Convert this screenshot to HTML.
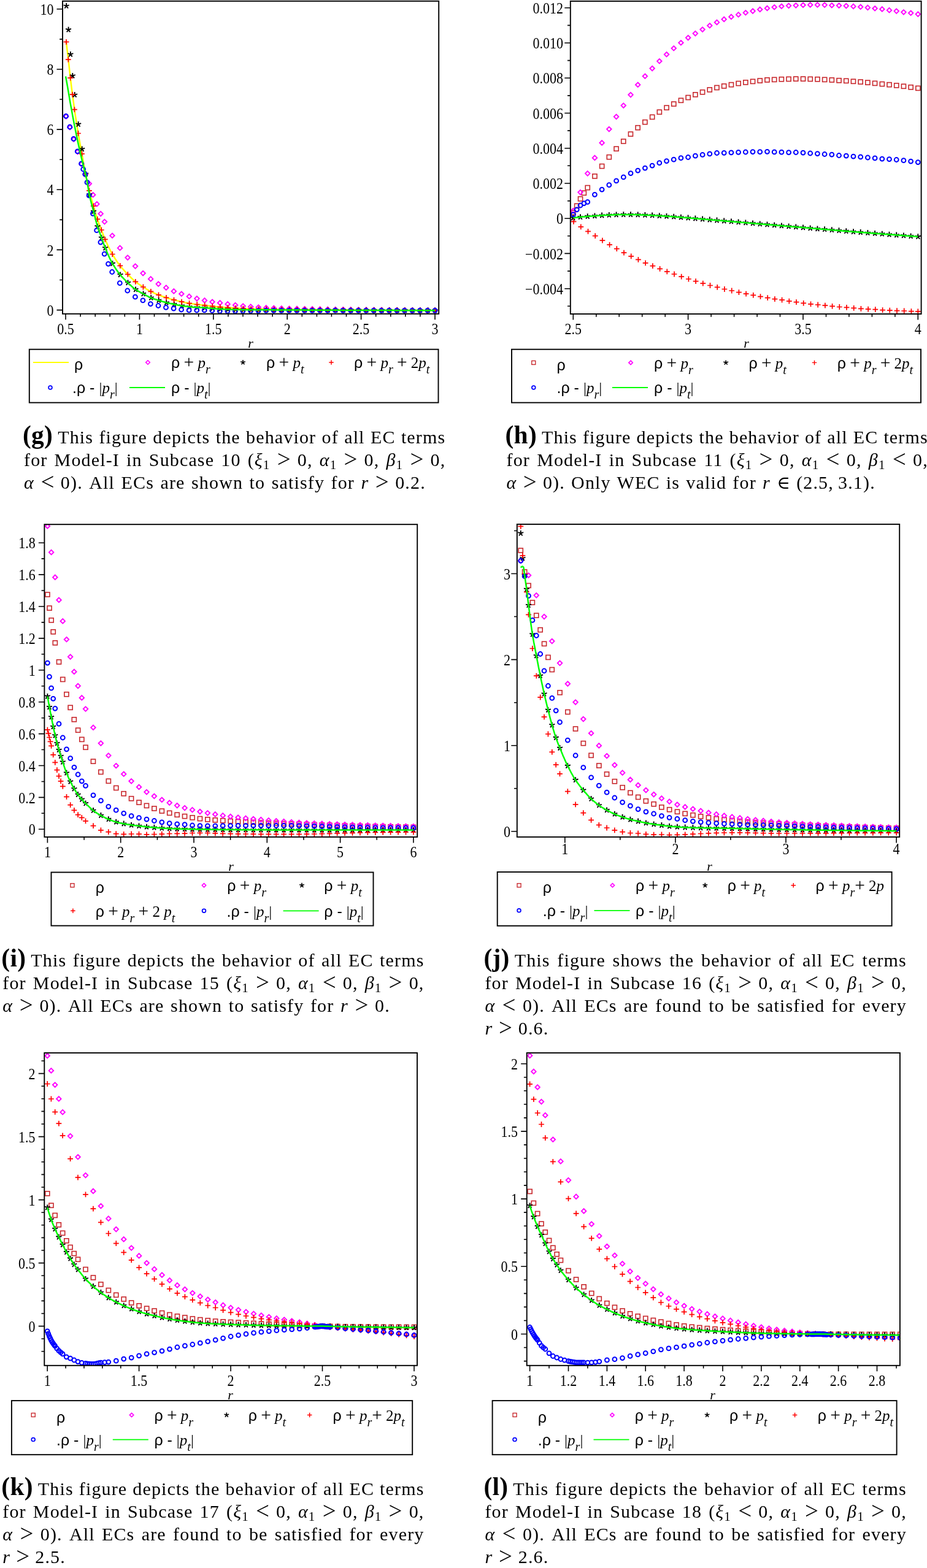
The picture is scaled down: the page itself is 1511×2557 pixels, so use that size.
<!DOCTYPE html>
<html><head><meta charset="utf-8"><title>EC terms figures</title>
<style>
html,body{margin:0;padding:0;background:#fff;}
body{width:1511px;height:2557px;position:relative;overflow:hidden;}
.cl{position:absolute;font-family:'Liberation Serif',serif;font-size:30px;line-height:36px;color:#000;
text-align:justify;text-align-last:justify;white-space:nowrap;letter-spacing:1.15px;}
.cl b{font-weight:bold;font-size:1.38em;letter-spacing:0.3px;line-height:0;margin-left:-2px;margin-right:8px;}
.cl .s{font-size:0.7em;vertical-align:-0.22em;font-style:normal;}
.cl .rel{font-size:1.3em;line-height:0;vertical-align:-0.06em;letter-spacing:0;}
.cl .elem{font-family:'DejaVu Serif',serif;font-size:0.98em;line-height:0;letter-spacing:0;}
.cl .num{font-size:1.08em;line-height:0;}
</style></head><body>
<svg width="1511" height="2557" viewBox="0 0 1511 2557" style="position:absolute;left:0;top:0"><clipPath id="cg"><rect x="102" y="1.8" width="613.2" height="510.0"/></clipPath>
<g clip-path="url(#cg)">
<path d="M107.8 67.3L109.3 79.8L110.9 92.9L112.4 106.2L113.9 119.9L115.4 132.8L116.9 144.9L118.4 156.6L119.9 167.7L121.4 178.4L122.9 188.6L124.4 198.5L125.9 208.1L127.4 217.3L128.9 226.0L130.4 234.3L131.9 242.5L133.5 250.7L135.0 259.2L136.5 267.7L138.0 275.9L139.5 283.5L141.0 290.8L142.5 297.7L144.0 304.3L145.5 310.7L147.0 316.7L148.5 322.4L150.0 327.9L151.5 333.2L153.0 338.5L154.5 343.7L156.1 348.8L157.6 353.7L159.1 358.3L160.6 362.6L162.1 366.7L163.6 370.6L165.1 374.6L166.6 378.5L168.1 382.5L169.6 386.3L171.1 389.9L172.6 393.3L174.1 396.6L175.6 399.9L177.1 403.0L178.7 406.0L180.2 409.0L181.7 411.8L183.2 414.5L184.7 417.0L186.2 419.5L187.7 422.0L189.2 424.3L190.7 426.5L192.2 428.7L193.7 430.8L195.2 432.8L196.7 434.7L198.2 436.5L199.7 438.2L201.3 439.9L202.8 441.6L204.3 443.2L205.8 444.8L207.3 446.3L208.8 447.9L210.3 449.4L211.8 451.0L213.3 452.5L214.8 454.0L216.3 455.4L217.8 456.8L219.3 458.2L220.8 459.4L222.3 460.6L223.9 461.7L225.4 462.8L226.9 463.8L228.4 464.8L229.9 465.8L231.4 466.7L232.9 467.7L234.4 468.6L235.9 469.6L237.4 470.5L238.9 471.5L240.4 472.4L241.9 473.3L243.4 474.1L244.9 474.9L246.5 475.7L248.0 476.4L249.5 477.1L251.0 477.8L252.5 478.5L254.0 479.1L255.5 479.7L257.0 480.3L258.5 480.9L260.0 481.5L261.5 482.1L263.0 482.7L264.5 483.2L266.0 483.7L267.5 484.3L269.1 484.8L270.6 485.3L272.1 485.7L273.6 486.2L275.1 486.7L276.6 487.1L278.1 487.6L279.6 488.0L281.1 488.4L282.6 488.8L284.1 489.2L285.6 489.6L287.1 490.0L288.6 490.4L290.1 490.8L291.7 491.1L293.2 491.5L294.7 491.9L296.2 492.2L297.7 492.5L299.2 492.8L300.7 493.2L302.2 493.5L303.7 493.8L305.2 494.1L306.7 494.4L308.2 494.6L309.7 494.9L311.2 495.1L312.7 495.3L314.3 495.6L315.8 495.8L317.3 496.0L318.8 496.2L320.3 496.4L321.8 496.5L323.3 496.7L324.8 496.9L326.3 497.1L327.8 497.3L329.3 497.4L330.8 497.6L332.3 497.8L333.8 498.0L335.3 498.1L336.9 498.3L338.4 498.5L339.9 498.7L341.4 498.9L342.9 499.1L344.4 499.2L345.9 499.4L347.4 499.6L348.9 499.7L350.4 499.9L351.9 500.0L353.4 500.2L354.9 500.3L356.4 500.5L357.9 500.6L359.5 500.7L361.0 500.9L362.5 501.0L364.0 501.1L365.5 501.2L367.0 501.4L368.5 501.5L370.0 501.6L371.5 501.7L373.0 501.8L374.5 501.9L376.0 502.0L377.5 502.1L379.0 502.2L380.5 502.3L382.1 502.4L383.6 502.5L385.1 502.5L386.6 502.6L388.1 502.7L389.6 502.8L391.1 502.9L392.6 503.0L394.1 503.1L395.6 503.1L397.1 503.2L398.6 503.3L400.1 503.3L401.6 503.4L403.1 503.4L404.7 503.5L406.2 503.5L407.7 503.6L409.2 503.6L410.7 503.6L412.2 503.7L413.7 503.7L415.2 503.8L416.7 503.8L418.2 503.8L419.7 503.9L421.2 503.9L422.7 503.9L424.2 504.0L425.7 504.0L427.3 504.0L428.8 504.1L430.3 504.1L431.8 504.1L433.3 504.2L434.8 504.2L436.3 504.2L437.8 504.3L439.3 504.3L440.8 504.3L442.3 504.3L443.8 504.4L445.3 504.4L446.8 504.4L448.3 504.4L449.9 504.5L451.4 504.5L452.9 504.5L454.4 504.5L455.9 504.6L457.4 504.6L458.9 504.6L460.4 504.6L461.9 504.6L463.4 504.7L464.9 504.7L466.4 504.7L467.9 504.7L469.4 504.7L470.9 504.7L472.5 504.8L474.0 504.8L475.5 504.8L477.0 504.8L478.5 504.8L480.0 504.8L481.5 504.9L483.0 504.9L484.5 504.9L486.0 504.9L487.5 504.9L489.0 504.9L490.5 505.0L492.0 505.0L493.5 505.0L495.1 505.0L496.6 505.0L498.1 505.0L499.6 505.0L501.1 505.0L502.6 505.1L504.1 505.1L505.6 505.1L507.1 505.1L508.6 505.1L510.1 505.1L511.6 505.1L513.1 505.1L514.6 505.2L516.1 505.2L517.7 505.2L519.2 505.2L520.7 505.2L522.2 505.2L523.7 505.2L525.2 505.2L526.7 505.3L528.2 505.3L529.7 505.3L531.2 505.3L532.7 505.3L534.2 505.3L535.7 505.3L537.2 505.3L538.7 505.3L540.3 505.4L541.8 505.4L543.3 505.4L544.8 505.4L546.3 505.4L547.8 505.4L549.3 505.4L550.8 505.4L552.3 505.4L553.8 505.5L555.3 505.5L556.8 505.5L558.3 505.5L559.8 505.5L561.3 505.5L562.9 505.5L564.4 505.5L565.9 505.5L567.4 505.6L568.9 505.6L570.4 505.6L571.9 505.6L573.4 505.6L574.9 505.6L576.4 505.6L577.9 505.6L579.4 505.6L580.9 505.7L582.4 505.7L583.9 505.7L585.5 505.7L587.0 505.7L588.5 505.7L590.0 505.7L591.5 505.7L593.0 505.7L594.5 505.7L596.0 505.8L597.5 505.8L599.0 505.8L600.5 505.8L602.0 505.8L603.5 505.8L605.0 505.8L606.5 505.8L608.1 505.8L609.6 505.8L611.1 505.8L612.6 505.8L614.1 505.9L615.6 505.9L617.1 505.9L618.6 505.9L620.1 505.9L621.6 505.9L623.1 505.9L624.6 505.9L626.1 505.9L627.6 505.9L629.1 505.9L630.7 505.9L632.2 505.9L633.7 505.9L635.2 505.9L636.7 506.0L638.2 506.0L639.7 506.0L641.2 506.0L642.7 506.0L644.2 506.0L645.7 506.0L647.2 506.0L648.7 506.0L650.2 506.0L651.7 506.0L653.3 506.0L654.8 506.0L656.3 506.0L657.8 506.0L659.3 506.0L660.8 506.1L662.3 506.1L663.8 506.1L665.3 506.1L666.8 506.1L668.3 506.1L669.8 506.1L671.3 506.1L672.8 506.1L674.3 506.1L675.9 506.1L677.4 506.1L678.9 506.1L680.4 506.1L681.9 506.1L683.4 506.1L684.9 506.1L686.4 506.1L687.9 506.1L689.4 506.1L690.9 506.1L692.4 506.2L693.9 506.2L695.4 506.2L696.9 506.2L698.5 506.2L700.0 506.2L701.5 506.2L703.0 506.2L704.5 506.2L706.0 506.2L707.5 506.2L709.0 506.2" fill="none" stroke="#ffff00" stroke-width="2.5" stroke-linejoin="round"/>
<g fill="none" stroke="#ff00ff" stroke-width="1.9">
<path d="M107.7 186.2L111.5 190.0L107.7 193.7L104.0 190.0Z"/>
<path d="M114.0 204.0L117.7 207.7L114.0 211.5L110.2 207.7Z"/>
<path d="M120.3 223.4L124.0 227.1L120.3 230.9L116.5 227.1Z"/>
<path d="M126.5 243.9L130.3 247.6L126.5 251.4L122.8 247.6Z"/>
<path d="M132.8 263.8L136.6 267.5L132.8 271.3L129.1 267.5Z"/>
<path d="M139.1 281.0L142.8 284.8L139.1 288.5L135.3 284.8Z"/>
<path d="M145.3 295.8L149.1 299.5L145.3 303.3L141.6 299.5Z"/>
<path d="M151.6 314.0L155.4 317.8L151.6 321.5L147.9 317.8Z"/>
<path d="M157.9 329.0L161.6 332.7L157.9 336.5L154.1 332.7Z"/>
<path d="M164.2 344.8L167.9 348.5L164.2 352.3L160.4 348.5Z"/>
<path d="M170.4 357.9L174.2 361.6L170.4 365.4L166.7 361.6Z"/>
<path d="M183.0 380.5L186.7 384.3L183.0 388.0L179.2 384.3Z"/>
<path d="M195.5 400.6L199.3 404.4L195.5 408.1L191.8 404.4Z"/>
<path d="M208.1 416.3L211.8 420.0L208.1 423.8L204.3 420.0Z"/>
<path d="M220.6 430.4L224.3 434.1L220.6 437.9L216.8 434.1Z"/>
<path d="M233.1 441.8L236.9 445.6L233.1 449.3L229.4 445.6Z"/>
<path d="M245.7 451.1L249.4 454.9L245.7 458.6L241.9 454.9Z"/>
<path d="M258.2 459.3L262.0 463.1L258.2 466.8L254.5 463.1Z"/>
<path d="M270.8 465.4L274.5 469.2L270.8 472.9L267.0 469.2Z"/>
<path d="M283.3 471.1L287.1 474.9L283.3 478.6L279.6 474.9Z"/>
<path d="M295.8 475.5L299.6 479.2L295.8 483.0L292.1 479.2Z"/>
<path d="M308.4 479.7L312.1 483.4L308.4 487.2L304.6 483.4Z"/>
<path d="M320.9 483.1L324.7 486.8L320.9 490.6L317.2 486.8Z"/>
<path d="M333.5 486.2L337.2 490.0L333.5 493.7L329.7 490.0Z"/>
<path d="M346.0 488.5L349.8 492.3L346.0 496.0L342.3 492.3Z"/>
<path d="M358.6 490.2L362.3 494.0L358.6 497.7L354.8 494.0Z"/>
<path d="M371.1 492.2L374.8 495.9L371.1 499.7L367.3 495.9Z"/>
<path d="M383.6 493.9L387.4 497.6L383.6 501.4L379.9 497.6Z"/>
<path d="M396.2 495.4L399.9 499.1L396.2 502.9L392.4 499.1Z"/>
<path d="M408.7 496.4L412.5 500.2L408.7 503.9L405.0 500.2Z"/>
<path d="M421.3 497.3L425.0 501.0L421.3 504.8L417.5 501.0Z"/>
<path d="M433.8 498.2L437.6 501.9L433.8 505.7L430.1 501.9Z"/>
<path d="M446.3 498.7L450.1 502.5L446.3 506.2L442.6 502.5Z"/>
<path d="M458.9 499.1L462.6 502.9L458.9 506.6L455.1 502.9Z"/>
<path d="M471.4 499.5L475.2 503.2L471.4 507.0L467.7 503.2Z"/>
<path d="M484.0 499.7L487.7 503.5L484.0 507.2L480.2 503.5Z"/>
<path d="M496.5 500.0L500.3 503.7L496.5 507.5L492.8 503.7Z"/>
<path d="M509.1 500.2L512.8 503.9L509.1 507.7L505.3 503.9Z"/>
<path d="M521.6 500.4L525.3 504.2L521.6 507.9L517.8 504.2Z"/>
<path d="M534.1 500.6L537.9 504.4L534.1 508.1L530.4 504.4Z"/>
<path d="M546.7 500.8L550.4 504.6L546.7 508.3L542.9 504.6Z"/>
<path d="M559.2 501.0L563.0 504.7L559.2 508.5L555.5 504.7Z"/>
<path d="M571.8 501.2L575.5 504.9L571.8 508.7L568.0 504.9Z"/>
<path d="M584.3 501.3L588.1 505.1L584.3 508.8L580.6 505.1Z"/>
<path d="M596.8 501.4L600.6 505.2L596.8 508.9L593.1 505.2Z"/>
<path d="M609.4 501.6L613.1 505.3L609.4 509.1L605.6 505.3Z"/>
<path d="M621.9 501.7L625.7 505.5L621.9 509.2L618.2 505.5Z"/>
<path d="M634.5 501.8L638.2 505.6L634.5 509.3L630.7 505.6Z"/>
<path d="M647.0 501.9L650.8 505.7L647.0 509.4L643.3 505.7Z"/>
<path d="M659.6 502.0L663.3 505.8L659.6 509.5L655.8 505.8Z"/>
<path d="M672.1 502.1L675.8 505.9L672.1 509.6L668.3 505.9Z"/>
<path d="M684.6 502.2L688.4 506.0L684.6 509.7L680.9 506.0Z"/>
<path d="M697.2 502.3L700.9 506.0L697.2 509.8L693.4 506.0Z"/>
<path d="M709.0 502.3L712.8 506.1L709.0 509.8L705.2 506.1Z"/>
</g>
<g fill="none" stroke="#000" stroke-width="1.9" stroke-linecap="butt">
<path d="M108.2 9.7L108.2 5.0M108.2 9.7L112.7 8.3M108.2 9.7L103.7 8.3M108.2 9.7L111.0 13.5M108.2 9.7L105.4 13.5"/>
<path d="M111.6 48.5L111.6 43.8M111.6 48.5L116.0 47.0M111.6 48.5L107.1 47.0M111.6 48.5L114.3 52.3M111.6 48.5L108.8 52.3"/>
<path d="M114.9 88.6L114.9 83.9M114.9 88.6L119.4 87.1M114.9 88.6L110.5 87.1M114.9 88.6L117.7 92.4M114.9 88.6L112.2 92.4"/>
<path d="M118.3 123.6L118.3 118.9M118.3 123.6L122.8 122.1M118.3 123.6L113.8 122.1M118.3 123.6L121.1 127.4M118.3 123.6L115.6 127.4"/>
<path d="M121.7 154.7L121.7 150.0M121.7 154.7L126.2 153.3M121.7 154.7L117.2 153.3M121.7 154.7L124.5 158.5M121.7 154.7L118.9 158.5"/>
<path d="M127.7 202.7L127.7 198.0M127.7 202.7L132.2 201.2M127.7 202.7L123.2 201.2M127.7 202.7L130.5 206.5M127.7 202.7L124.9 206.5"/>
<path d="M133.7 243.1L133.7 238.4M133.7 243.1L138.2 241.7M133.7 243.1L129.3 241.7M133.7 243.1L136.5 246.9M133.7 243.1L131.0 246.9"/>
<path d="M139.7 283.8L139.7 279.1M139.7 283.8L144.2 282.3M139.7 283.8L135.3 282.3M139.7 283.8L142.5 287.6M139.7 283.8L137.0 287.6"/>
<path d="M145.8 317.4L145.8 312.7M145.8 317.4L150.2 316.0M145.8 317.4L141.3 316.0M145.8 317.4L148.5 321.2M145.8 317.4L143.0 321.2"/>
<path d="M152.5 344.8L152.5 340.1M152.5 344.8L157.0 343.4M152.5 344.8L148.0 343.4M152.5 344.8L155.3 348.6M152.5 344.8L149.7 348.6"/>
<path d="M159.0 369.4L159.0 364.7M159.0 369.4L163.5 368.0M159.0 369.4L154.5 368.0M159.0 369.4L161.8 373.2M159.0 369.4L156.3 373.2"/>
<path d="M165.5 387.7L165.5 383.0M165.5 387.7L170.0 386.3M165.5 387.7L161.0 386.3M165.5 387.7L168.3 391.5M165.5 387.7L162.8 391.5"/>
<path d="M171.5 404.4L171.5 399.7M171.5 404.4L176.0 402.9M171.5 404.4L167.1 402.9M171.5 404.4L174.3 408.2M171.5 404.4L168.8 408.2"/>
<path d="M183.5 429.9L183.5 425.2M183.5 429.9L187.9 428.4M183.5 429.9L179.0 428.4M183.5 429.9L186.2 433.7M183.5 429.9L180.7 433.7"/>
<path d="M196.0 448.1L196.0 443.4M196.0 448.1L200.5 446.7M196.0 448.1L191.5 446.7M196.0 448.1L198.8 451.9M196.0 448.1L193.2 451.9"/>
<path d="M208.5 461.1L208.5 456.4M208.5 461.1L213.0 459.7M208.5 461.1L204.1 459.7M208.5 461.1L211.3 464.9M208.5 461.1L205.8 464.9"/>
<path d="M221.1 472.1L221.1 467.4M221.1 472.1L225.5 470.7M221.1 472.1L216.6 470.7M221.1 472.1L223.8 475.9M221.1 472.1L218.3 475.9"/>
<path d="M233.6 479.2L233.6 474.5M233.6 479.2L238.1 477.7M233.6 479.2L229.2 477.7M233.6 479.2L236.4 483.0M233.6 479.2L230.9 483.0"/>
<path d="M246.2 485.7L246.2 481.0M246.2 485.7L250.6 484.2M246.2 485.7L241.7 484.2M246.2 485.7L248.9 489.5M246.2 485.7L243.4 489.5"/>
<path d="M258.7 489.8L258.7 485.1M258.7 489.8L263.2 488.4M258.7 489.8L254.2 488.4M258.7 489.8L261.5 493.6M258.7 489.8L255.9 493.6"/>
<path d="M271.2 493.5L271.2 488.8M271.2 493.5L275.7 492.1M271.2 493.5L266.8 492.1M271.2 493.5L274.0 497.3M271.2 493.5L268.5 497.3"/>
<path d="M283.8 496.2L283.8 491.5M283.8 496.2L288.3 494.7M283.8 496.2L279.3 494.7M283.8 496.2L286.6 500.0M283.8 496.2L281.0 500.0"/>
<path d="M296.3 498.6L296.3 493.9M296.3 498.6L300.8 497.2M296.3 498.6L291.9 497.2M296.3 498.6L299.1 502.4M296.3 498.6L293.6 502.4"/>
<path d="M308.9 500.3L308.9 495.6M308.9 500.3L313.3 498.9M308.9 500.3L304.4 498.9M308.9 500.3L311.6 504.1M308.9 500.3L306.1 504.1"/>
<path d="M321.4 501.3L321.4 496.6M321.4 501.3L325.9 499.8M321.4 501.3L316.9 499.8M321.4 501.3L324.2 505.1M321.4 501.3L318.6 505.1"/>
<path d="M334.0 501.9L334.0 497.2M334.0 501.9L338.4 500.5M334.0 501.9L329.5 500.5M334.0 501.9L336.7 505.7M334.0 501.9L331.2 505.7"/>
<path d="M346.5 503.0L346.5 498.3M346.5 503.0L351.0 501.6M346.5 503.0L342.0 501.6M346.5 503.0L349.3 506.8M346.5 503.0L343.7 506.8"/>
<path d="M359.0 504.0L359.0 499.3M359.0 504.0L363.5 502.6M359.0 504.0L354.6 502.6M359.0 504.0L361.8 507.8M359.0 504.0L356.3 507.8"/>
<path d="M371.6 504.5L371.6 499.8M371.6 504.5L376.0 503.1M371.6 504.5L367.1 503.1M371.6 504.5L374.3 508.3M371.6 504.5L368.8 508.3"/>
<path d="M384.1 504.9L384.1 500.2M384.1 504.9L388.6 503.5M384.1 504.9L379.7 503.5M384.1 504.9L386.9 508.7M384.1 504.9L381.4 508.7"/>
<path d="M396.7 505.2L396.7 500.5M396.7 505.2L401.1 503.7M396.7 505.2L392.2 503.7M396.7 505.2L399.4 509.0M396.7 505.2L393.9 509.0"/>
<path d="M409.2 505.3L409.2 500.6M409.2 505.3L413.7 503.9M409.2 505.3L404.7 503.9M409.2 505.3L412.0 509.1M409.2 505.3L406.4 509.1"/>
<path d="M421.7 505.3L421.7 500.6M421.7 505.3L426.2 503.9M421.7 505.3L417.3 503.9M421.7 505.3L424.5 509.1M421.7 505.3L419.0 509.1"/>
<path d="M434.3 505.3L434.3 500.6M434.3 505.3L438.8 503.8M434.3 505.3L429.8 503.8M434.3 505.3L437.1 509.1M434.3 505.3L431.5 509.1"/>
<path d="M446.8 505.4L446.8 500.7M446.8 505.4L451.3 503.9M446.8 505.4L442.4 503.9M446.8 505.4L449.6 509.2M446.8 505.4L444.1 509.2"/>
<path d="M459.4 505.4L459.4 500.7M459.4 505.4L463.8 504.0M459.4 505.4L454.9 504.0M459.4 505.4L462.1 509.2M459.4 505.4L456.6 509.2"/>
<path d="M471.9 505.5L471.9 500.8M471.9 505.5L476.4 504.1M471.9 505.5L467.4 504.1M471.9 505.5L474.7 509.3M471.9 505.5L469.1 509.3"/>
<path d="M484.5 505.6L484.5 500.9M484.5 505.6L488.9 504.1M484.5 505.6L480.0 504.1M484.5 505.6L487.2 509.4M484.5 505.6L481.7 509.4"/>
<path d="M497.0 505.7L497.0 501.0M497.0 505.7L501.5 504.2M497.0 505.7L492.5 504.2M497.0 505.7L499.8 509.5M497.0 505.7L494.2 509.5"/>
<path d="M509.5 505.7L509.5 501.0M509.5 505.7L514.0 504.3M509.5 505.7L505.1 504.3M509.5 505.7L512.3 509.5M509.5 505.7L506.8 509.5"/>
<path d="M522.1 505.7L522.1 501.0M522.1 505.7L526.5 504.3M522.1 505.7L517.6 504.3M522.1 505.7L524.8 509.5M522.1 505.7L519.3 509.5"/>
<path d="M534.6 505.8L534.6 501.1M534.6 505.8L539.1 504.3M534.6 505.8L530.2 504.3M534.6 505.8L537.4 509.6M534.6 505.8L531.9 509.6"/>
<path d="M547.2 505.8L547.2 501.1M547.2 505.8L551.6 504.4M547.2 505.8L542.7 504.4M547.2 505.8L549.9 509.6M547.2 505.8L544.4 509.6"/>
<path d="M559.7 505.9L559.7 501.2M559.7 505.9L564.2 504.4M559.7 505.9L555.2 504.4M559.7 505.9L562.5 509.7M559.7 505.9L556.9 509.7"/>
<path d="M572.2 505.9L572.2 501.2M572.2 505.9L576.7 504.5M572.2 505.9L567.8 504.5M572.2 505.9L575.0 509.7M572.2 505.9L569.5 509.7"/>
<path d="M584.8 506.0L584.8 501.3M584.8 506.0L589.3 504.5M584.8 506.0L580.3 504.5M584.8 506.0L587.6 509.8M584.8 506.0L582.0 509.8"/>
<path d="M597.3 506.0L597.3 501.3M597.3 506.0L601.8 504.6M597.3 506.0L592.9 504.6M597.3 506.0L600.1 509.8M597.3 506.0L594.6 509.8"/>
<path d="M609.9 506.1L609.9 501.4M609.9 506.1L614.3 504.6M609.9 506.1L605.4 504.6M609.9 506.1L612.6 509.9M609.9 506.1L607.1 509.9"/>
<path d="M622.4 506.1L622.4 501.4M622.4 506.1L626.9 504.7M622.4 506.1L617.9 504.7M622.4 506.1L625.2 509.9M622.4 506.1L619.6 509.9"/>
<path d="M635.0 506.1L635.0 501.4M635.0 506.1L639.4 504.7M635.0 506.1L630.5 504.7M635.0 506.1L637.7 509.9M635.0 506.1L632.2 509.9"/>
<path d="M647.5 506.2L647.5 501.5M647.5 506.2L652.0 504.7M647.5 506.2L643.0 504.7M647.5 506.2L650.3 510.0M647.5 506.2L644.7 510.0"/>
<path d="M660.0 506.2L660.0 501.5M660.0 506.2L664.5 504.7M660.0 506.2L655.6 504.7M660.0 506.2L662.8 510.0M660.0 506.2L657.3 510.0"/>
<path d="M672.6 506.2L672.6 501.5M672.6 506.2L677.0 504.7M672.6 506.2L668.1 504.7M672.6 506.2L675.3 510.0M672.6 506.2L669.8 510.0"/>
<path d="M685.1 506.2L685.1 501.5M685.1 506.2L689.6 504.8M685.1 506.2L680.7 504.8M685.1 506.2L687.9 510.0M685.1 506.2L682.4 510.0"/>
<path d="M697.7 506.2L697.7 501.5M697.7 506.2L702.1 504.8M697.7 506.2L693.2 504.8M697.7 506.2L700.4 510.0M697.7 506.2L694.9 510.0"/>
<path d="M709.0 506.2L709.0 501.5M709.0 506.2L713.5 504.8M709.0 506.2L704.5 504.8M709.0 506.2L711.8 510.0M709.0 506.2L706.2 510.0"/>
</g>
<g fill="none" stroke="#ff0000" stroke-width="1.7">
<path d="M103.6 68.3H112.4M108.0 63.9V72.7"/>
<path d="M106.9 97.1H115.7M111.3 92.7V101.5"/>
<path d="M110.3 127.2H119.1M114.7 122.8V131.6"/>
<path d="M113.7 154.2H122.5M118.1 149.8V158.6"/>
<path d="M117.0 178.7H125.8M121.4 174.3V183.1"/>
<path d="M123.1 217.5H131.9M127.5 213.1V221.9"/>
<path d="M129.1 250.9H137.9M133.5 246.5V255.3"/>
<path d="M135.1 283.6H143.9M139.5 279.2V288.0"/>
<path d="M141.1 310.8H149.9M145.5 306.4V315.2"/>
<path d="M147.9 335.8H156.7M152.3 331.4V340.2"/>
<path d="M154.4 357.4H163.2M158.8 353.0V361.8"/>
<path d="M160.9 375.0H169.7M165.3 370.6V379.4"/>
<path d="M166.9 390.3H175.7M171.3 385.9V394.7"/>
<path d="M178.8 414.5H187.6M183.2 410.1V418.9"/>
<path d="M191.4 433.4H200.2M195.8 429.0V437.8"/>
<path d="M203.9 447.4H212.7M208.3 443.0V451.8"/>
<path d="M216.4 459.4H225.2M220.8 455.0V463.8"/>
<path d="M229.0 468.0H237.8M233.4 463.6V472.4"/>
<path d="M241.5 475.4H250.3M245.9 471.0V479.8"/>
<path d="M254.1 480.9H262.9M258.5 476.5V485.3"/>
<path d="M266.6 485.4H275.4M271.0 481.0V489.8"/>
<path d="M279.1 489.1H287.9M283.5 484.7V493.5"/>
<path d="M291.7 492.2H300.5M296.1 487.8V496.6"/>
<path d="M304.2 494.7H313.0M308.6 490.3V499.1"/>
<path d="M316.8 496.5H325.6M321.2 492.1V500.9"/>
<path d="M329.3 497.9H338.1M333.7 493.5V502.3"/>
<path d="M341.9 499.4H350.7M346.3 495.0V503.8"/>
<path d="M354.4 500.7H363.2M358.8 496.3V505.1"/>
<path d="M366.9 501.7H375.7M371.3 497.3V506.1"/>
<path d="M379.5 502.5H388.3M383.9 498.1V506.9"/>
<path d="M392.0 503.2H400.8M396.4 498.8V507.6"/>
<path d="M404.6 503.6H413.4M409.0 499.2V508.0"/>
<path d="M417.1 503.9H425.9M421.5 499.5V508.3"/>
<path d="M429.6 504.2H438.4M434.0 499.8V508.6"/>
<path d="M442.2 504.4H451.0M446.6 500.0V508.8"/>
<path d="M454.7 504.6H463.5M459.1 500.2V509.0"/>
<path d="M467.3 504.8H476.1M471.7 500.4V509.2"/>
<path d="M479.8 504.9H488.6M484.2 500.5V509.3"/>
<path d="M492.4 505.0H501.2M496.8 500.6V509.4"/>
<path d="M504.9 505.1H513.7M509.3 500.7V509.5"/>
<path d="M517.4 505.2H526.2M521.8 500.8V509.6"/>
<path d="M530.0 505.3H538.8M534.4 500.9V509.7"/>
<path d="M542.5 505.4H551.3M546.9 501.0V509.8"/>
<path d="M555.1 505.5H563.9M559.5 501.1V509.9"/>
<path d="M567.6 505.6H576.4M572.0 501.2V510.0"/>
<path d="M580.1 505.7H588.9M584.5 501.3V510.1"/>
<path d="M592.7 505.8H601.5M597.1 501.4V510.2"/>
<path d="M605.2 505.8H614.0M609.6 501.4V510.2"/>
<path d="M617.8 505.9H626.6M622.2 501.5V510.3"/>
<path d="M630.3 505.9H639.1M634.7 501.5V510.3"/>
<path d="M642.9 506.0H651.7M647.3 501.6V510.4"/>
<path d="M655.4 506.0H664.2M659.8 501.6V510.4"/>
<path d="M667.9 506.1H676.7M672.3 501.7V510.5"/>
<path d="M680.5 506.1H689.3M684.9 501.7V510.5"/>
<path d="M693.0 506.2H701.8M697.4 501.8V510.6"/>
<path d="M704.6 506.2H713.4M709.0 501.8V510.6"/>
</g>
<g fill="none" stroke="#0000ff" stroke-width="2.0">
<circle cx="107.5" cy="189.3" r="3.4"/>
<circle cx="113.8" cy="207.0" r="3.4"/>
<circle cx="120.0" cy="226.3" r="3.4"/>
<circle cx="126.3" cy="246.8" r="3.4"/>
<circle cx="132.6" cy="266.8" r="3.4"/>
<circle cx="135.7" cy="276.0" r="3.4"/>
<circle cx="138.8" cy="284.1" r="3.4"/>
<circle cx="142.0" cy="297.4" r="3.4"/>
<circle cx="145.1" cy="318.9" r="3.4"/>
<circle cx="151.4" cy="348.3" r="3.4"/>
<circle cx="157.6" cy="375.7" r="3.4"/>
<circle cx="163.9" cy="395.1" r="3.4"/>
<circle cx="170.2" cy="414.2" r="3.4"/>
<circle cx="176.5" cy="430.3" r="3.4"/>
<circle cx="182.7" cy="443.5" r="3.4"/>
<circle cx="195.3" cy="461.7" r="3.4"/>
<circle cx="207.8" cy="474.0" r="3.4"/>
<circle cx="220.4" cy="484.2" r="3.4"/>
<circle cx="232.9" cy="489.9" r="3.4"/>
<circle cx="245.4" cy="495.6" r="3.4"/>
<circle cx="258.0" cy="498.5" r="3.4"/>
<circle cx="270.5" cy="501.4" r="3.4"/>
<circle cx="283.1" cy="503.1" r="3.4"/>
<circle cx="295.6" cy="505.0" r="3.4"/>
<circle cx="308.1" cy="505.9" r="3.4"/>
<circle cx="320.7" cy="506.0" r="3.4"/>
<circle cx="333.2" cy="505.9" r="3.4"/>
<circle cx="345.8" cy="506.5" r="3.4"/>
<circle cx="358.3" cy="507.3" r="3.4"/>
<circle cx="370.9" cy="507.4" r="3.4"/>
<circle cx="383.4" cy="507.3" r="3.4"/>
<circle cx="395.9" cy="507.2" r="3.4"/>
<circle cx="408.5" cy="507.0" r="3.4"/>
<circle cx="421.0" cy="506.8" r="3.4"/>
<circle cx="433.6" cy="506.4" r="3.4"/>
<circle cx="446.1" cy="506.3" r="3.4"/>
<circle cx="458.6" cy="506.3" r="3.4"/>
<circle cx="471.2" cy="506.3" r="3.4"/>
<circle cx="483.7" cy="506.3" r="3.4"/>
<circle cx="496.3" cy="506.3" r="3.4"/>
<circle cx="508.8" cy="506.3" r="3.4"/>
<circle cx="521.4" cy="506.3" r="3.4"/>
<circle cx="533.9" cy="506.3" r="3.4"/>
<circle cx="546.4" cy="506.2" r="3.4"/>
<circle cx="559.0" cy="506.3" r="3.4"/>
<circle cx="571.5" cy="506.3" r="3.4"/>
<circle cx="584.1" cy="506.3" r="3.4"/>
<circle cx="596.6" cy="506.3" r="3.4"/>
<circle cx="609.1" cy="506.3" r="3.4"/>
<circle cx="621.7" cy="506.3" r="3.4"/>
<circle cx="634.2" cy="506.3" r="3.4"/>
<circle cx="646.8" cy="506.3" r="3.4"/>
<circle cx="659.3" cy="506.3" r="3.4"/>
<circle cx="671.9" cy="506.3" r="3.4"/>
<circle cx="684.4" cy="506.3" r="3.4"/>
<circle cx="696.9" cy="506.3" r="3.4"/>
<circle cx="709.0" cy="506.3" r="3.4"/>
</g>
<path d="M107.0 124.5L108.5 132.4L110.0 140.9L111.5 149.7L113.0 158.6L114.5 167.6L116.1 176.1L117.6 184.4L119.1 192.5L120.6 200.4L122.1 208.1L123.6 215.6L125.1 223.0L126.6 230.1L128.1 237.0L129.6 243.7L131.1 250.2L132.6 256.7L134.2 263.2L135.7 269.6L137.2 275.7L138.7 281.6L140.2 287.6L141.7 294.8L143.2 303.5L144.7 311.9L146.2 319.7L147.7 326.5L149.2 332.5L150.8 338.1L152.3 343.9L153.8 349.9L155.3 355.9L156.8 361.7L158.3 367.1L159.8 371.9L161.3 376.3L162.8 380.3L164.3 384.4L165.8 388.6L167.4 393.0L168.9 397.3L170.4 401.4L171.9 405.2L173.4 408.8L174.9 412.4L176.4 415.8L177.9 419.1L179.4 422.2L180.9 425.2L182.4 428.1L183.9 430.7L185.5 433.3L187.0 435.7L188.5 438.0L190.0 440.2L191.5 442.3L193.0 444.4L194.5 446.3L196.0 448.1L197.5 449.9L199.0 451.6L200.5 453.2L202.1 454.8L203.6 456.3L205.1 457.8L206.6 459.2L208.1 460.7L209.6 462.1L211.1 463.6L212.6 465.0L214.1 466.4L215.6 467.8L217.1 469.1L218.6 470.3L220.2 471.5L221.7 472.5L223.2 473.5L224.7 474.4L226.2 475.2L227.7 476.1L229.2 476.9L230.7 477.7L232.2 478.4L233.7 479.3L235.2 480.1L236.8 480.9L238.3 481.8L239.8 482.6L241.3 483.4L242.8 484.2L244.3 484.9L245.8 485.5L247.3 486.1L248.8 486.7L250.3 487.2L251.8 487.7L253.4 488.2L254.9 488.7L256.4 489.1L257.9 489.6L259.4 490.1L260.9 490.5L262.4 491.0L263.9 491.5L265.4 491.9L266.9 492.3L268.4 492.8L269.9 493.2L271.5 493.6L273.0 493.9L274.5 494.3L276.0 494.6L277.5 494.9L279.0 495.2L280.5 495.5L282.0 495.8L283.5 496.1L285.0 496.4L286.5 496.7L288.1 497.1L289.6 497.4L291.1 497.7L292.6 498.0L294.1 498.3L295.6 498.5L297.1 498.8L298.6 499.0L300.1 499.2L301.6 499.4L303.1 499.6L304.6 499.8L306.2 500.0L307.7 500.2L309.2 500.3L310.7 500.5L312.2 500.6L313.7 500.7L315.2 500.9L316.7 501.0L318.2 501.1L319.7 501.2L321.2 501.3L322.8 501.3L324.3 501.4L325.8 501.5L327.3 501.6L328.8 501.6L330.3 501.7L331.8 501.8L333.3 501.9L334.8 502.0L336.3 502.1L337.8 502.2L339.4 502.4L340.9 502.5L342.4 502.6L343.9 502.8L345.4 502.9L346.9 503.0L348.4 503.2L349.9 503.3L351.4 503.4L352.9 503.6L354.4 503.7L355.9 503.8L357.5 503.9L359.0 504.0L360.5 504.1L362.0 504.2L363.5 504.3L365.0 504.3L366.5 504.4L368.0 504.4L369.5 504.5L371.0 504.5L372.5 504.6L374.1 504.6L375.6 504.7L377.1 504.7L378.6 504.8L380.1 504.8L381.6 504.8L383.1 504.9L384.6 504.9L386.1 505.0L387.6 505.0L389.1 505.0L390.6 505.1L392.2 505.1L393.7 505.1L395.2 505.2L396.7 505.2L398.2 505.2L399.7 505.2L401.2 505.2L402.7 505.2L404.2 505.3L405.7 505.3L407.2 505.3L408.8 505.3L410.3 505.3L411.8 505.3L413.3 505.3L414.8 505.3L416.3 505.3L417.8 505.3L419.3 505.3L420.8 505.3L422.3 505.3L423.8 505.3L425.4 505.3L426.9 505.3L428.4 505.3L429.9 505.3L431.4 505.3L432.9 505.3L434.4 505.3L435.9 505.3L437.4 505.3L438.9 505.3L440.4 505.3L441.9 505.3L443.5 505.3L445.0 505.3L446.5 505.4L448.0 505.4L449.5 505.4L451.0 505.4L452.5 505.4L454.0 505.4L455.5 505.4L457.0 505.4L458.5 505.4L460.1 505.5L461.6 505.5L463.1 505.5L464.6 505.5L466.1 505.5L467.6 505.5L469.1 505.5L470.6 505.5L472.1 505.5L473.6 505.5L475.1 505.5L476.6 505.6L478.2 505.6L479.7 505.6L481.2 505.6L482.7 505.6L484.2 505.6L485.7 505.6L487.2 505.6L488.7 505.6L490.2 505.6L491.7 505.6L493.2 505.6L494.8 505.6L496.3 505.7L497.8 505.7L499.3 505.7L500.8 505.7L502.3 505.7L503.8 505.7L505.3 505.7L506.8 505.7L508.3 505.7L509.8 505.7L511.4 505.7L512.9 505.7L514.4 505.7L515.9 505.7L517.4 505.7L518.9 505.7L520.4 505.7L521.9 505.7L523.4 505.7L524.9 505.8L526.4 505.8L527.9 505.8L529.5 505.8L531.0 505.8L532.5 505.8L534.0 505.8L535.5 505.8L537.0 505.8L538.5 505.8L540.0 505.8L541.5 505.8L543.0 505.8L544.5 505.8L546.1 505.8L547.6 505.8L549.1 505.8L550.6 505.8L552.1 505.8L553.6 505.9L555.1 505.9L556.6 505.9L558.1 505.9L559.6 505.9L561.1 505.9L562.6 505.9L564.2 505.9L565.7 505.9L567.2 505.9L568.7 505.9L570.2 505.9L571.7 505.9L573.2 505.9L574.7 505.9L576.2 506.0L577.7 506.0L579.2 506.0L580.8 506.0L582.3 506.0L583.8 506.0L585.3 506.0L586.8 506.0L588.3 506.0L589.8 506.0L591.3 506.0L592.8 506.0L594.3 506.0L595.8 506.0L597.4 506.0L598.9 506.0L600.4 506.1L601.9 506.1L603.4 506.1L604.9 506.1L606.4 506.1L607.9 506.1L609.4 506.1L610.9 506.1L612.4 506.1L613.9 506.1L615.5 506.1L617.0 506.1L618.5 506.1L620.0 506.1L621.5 506.1L623.0 506.1L624.5 506.1L626.0 506.1L627.5 506.1L629.0 506.1L630.5 506.1L632.1 506.1L633.6 506.1L635.1 506.1L636.6 506.1L638.1 506.1L639.6 506.1L641.1 506.1L642.6 506.1L644.1 506.2L645.6 506.2L647.1 506.2L648.6 506.2L650.2 506.2L651.7 506.2L653.2 506.2L654.7 506.2L656.2 506.2L657.7 506.2L659.2 506.2L660.7 506.2L662.2 506.2L663.7 506.2L665.2 506.2L666.8 506.2L668.3 506.2L669.8 506.2L671.3 506.2L672.8 506.2L674.3 506.2L675.8 506.2L677.3 506.2L678.8 506.2L680.3 506.2L681.8 506.2L683.4 506.2L684.9 506.2L686.4 506.2L687.9 506.2L689.4 506.2L690.9 506.2L692.4 506.2L693.9 506.2L695.4 506.2L696.9 506.2L698.4 506.2L699.9 506.2L701.5 506.2L703.0 506.2L704.5 506.2L706.0 506.2L707.5 506.2L709.0 506.2" fill="none" stroke="#00ff00" stroke-width="2.5" stroke-linejoin="round"/>
</g>
<rect x="102" y="1.8" width="613.2" height="510.0" fill="none" stroke="#000" stroke-width="1.9"/>
<path d="M107.0 511.8v9.5M227.4 511.8v9.5M347.8 511.8v9.5M468.2 511.8v9.5M588.6 511.8v9.5M709.0 511.8v9.5M131.1 511.8v4.8M155.2 511.8v4.8M179.2 511.8v4.8M203.3 511.8v4.8M251.5 511.8v4.8M275.6 511.8v4.8M299.6 511.8v4.8M323.7 511.8v4.8M371.9 511.8v4.8M396.0 511.8v4.8M420.0 511.8v4.8M444.1 511.8v4.8M492.3 511.8v4.8M516.4 511.8v4.8M540.4 511.8v4.8M564.5 511.8v4.8M612.7 511.8v4.8M636.8 511.8v4.8M660.8 511.8v4.8M684.9 511.8v4.8M102 505.6h-9.5M102 407.4h-9.5M102 309.3h-9.5M102 211.1h-9.5M102 113.0h-9.5M102 14.8h-9.5M102 456.5h-4.8M102 358.4h-4.8M102 260.2h-4.8M102 162.0h-4.8M102 63.9h-4.8" stroke="#000" stroke-width="1.6" fill="none"/>
<text transform="translate(107.0 544.5) scale(1 1.12)" font-size="22" font-family="'Liberation Serif', serif" text-anchor="middle">0.5</text>
<text transform="translate(227.4 544.5) scale(1 1.12)" font-size="22" font-family="'Liberation Serif', serif" text-anchor="middle">1</text>
<text transform="translate(347.8 544.5) scale(1 1.12)" font-size="22" font-family="'Liberation Serif', serif" text-anchor="middle">1.5</text>
<text transform="translate(468.2 544.5) scale(1 1.12)" font-size="22" font-family="'Liberation Serif', serif" text-anchor="middle">2</text>
<text transform="translate(588.6 544.5) scale(1 1.12)" font-size="22" font-family="'Liberation Serif', serif" text-anchor="middle">2.5</text>
<text transform="translate(709.0 544.5) scale(1 1.12)" font-size="22" font-family="'Liberation Serif', serif" text-anchor="middle">3</text>
<text transform="translate(87.6 514.7) scale(1 1.12)" font-size="22" font-family="'Liberation Serif', serif" text-anchor="end">0</text>
<text transform="translate(87.6 416.6) scale(1 1.12)" font-size="22" font-family="'Liberation Serif', serif" text-anchor="end">2</text>
<text transform="translate(87.6 318.4) scale(1 1.12)" font-size="22" font-family="'Liberation Serif', serif" text-anchor="end">4</text>
<text transform="translate(87.6 220.3) scale(1 1.12)" font-size="22" font-family="'Liberation Serif', serif" text-anchor="end">6</text>
<text transform="translate(87.6 122.1) scale(1 1.12)" font-size="22" font-family="'Liberation Serif', serif" text-anchor="end">8</text>
<text transform="translate(87.6 23.9) scale(1 1.12)" font-size="22" font-family="'Liberation Serif', serif" text-anchor="end">10</text>
<text x="408.5" y="567.0" font-size="22" font-family="'Liberation Serif', serif" font-style="italic" text-anchor="middle">r</text>
<rect x="47.8" y="569.7" width="666.7" height="86.89999999999998" fill="none" stroke="#000" stroke-width="1.9"/>
<path d="M54.0 591.0h58" stroke="#ffff00" stroke-width="1.8"/>
<text x="121.0" y="603.3" font-size="25" font-family="'Liberation Serif', serif"><tspan font-family="'Liberation Sans', sans-serif">ρ</tspan></text>
<g fill="none" stroke="#ff00ff" stroke-width="1.9" transform="translate(241.0 591.0) scale(0.85) translate(-241.0 -591.0)"><path d="M241.0 587.2L244.8 591.0L241.0 594.8L237.2 591.0Z"/></g>
<text x="279.0" y="600.3" font-size="25" font-family="'Liberation Serif', serif"><tspan font-family="'Liberation Sans', sans-serif">ρ</tspan> <tspan font-size="29.5">+</tspan> <tspan font-style="italic">p</tspan><tspan font-style="italic" font-size="20.0" dy="9.0">r</tspan><tspan dy="-9.0"></tspan></text>
<g fill="none" stroke="#000" stroke-width="1.9" stroke-linecap="butt" transform="translate(396.0 591.0) scale(0.85) translate(-396.0 -591.0)"><path d="M396.0 591.0L396.0 586.3M396.0 591.0L400.5 589.5M396.0 591.0L391.5 589.5M396.0 591.0L398.8 594.8M396.0 591.0L393.2 594.8"/></g>
<text x="434.0" y="600.3" font-size="25" font-family="'Liberation Serif', serif"><tspan font-family="'Liberation Sans', sans-serif">ρ</tspan> <tspan font-size="29.5">+</tspan> <tspan font-style="italic">p</tspan><tspan font-style="italic" font-size="20.0" dy="9.0">t</tspan><tspan dy="-9.0"></tspan></text>
<g fill="none" stroke="#ff0000" stroke-width="1.7" transform="translate(540.0 591.0) scale(0.85) translate(-540.0 -591.0)"><path d="M535.6 591.0H544.4M540.0 586.6V595.4"/></g>
<text x="577.0" y="600.3" font-size="25" font-family="'Liberation Serif', serif"><tspan font-family="'Liberation Sans', sans-serif">ρ</tspan> <tspan font-size="29.5">+</tspan> <tspan font-style="italic">p</tspan><tspan font-style="italic" font-size="20.0" dy="9.0">r</tspan><tspan dy="-9.0"> <tspan font-size="29.5">+</tspan> 2</tspan><tspan font-style="italic">p</tspan><tspan font-style="italic" font-size="20.0" dy="9.0">t</tspan><tspan dy="-9.0"></tspan></text>
<g fill="none" stroke="#0000ff" stroke-width="2.0" transform="translate(82.0 632.0) scale(0.85) translate(-82.0 -632.0)"><circle cx="82.0" cy="632.0" r="3.4"/></g>
<text x="118.0" y="641.3" font-size="25" font-family="'Liberation Serif', serif"><tspan font-family="'Liberation Sans', sans-serif">.ρ - </tspan>|<tspan font-style="italic">p</tspan><tspan font-style="italic" font-size="20.0" dy="9.0">r</tspan><tspan dy="-9.0">|</tspan></text>
<path d="M211.0 632.0h58" stroke="#00ff00" stroke-width="1.8"/>
<text x="279.0" y="641.3" font-size="25" font-family="'Liberation Serif', serif"><tspan font-family="'Liberation Sans', sans-serif">ρ - </tspan>|<tspan font-style="italic">p</tspan><tspan font-style="italic" font-size="20.0" dy="9.0">t</tspan><tspan dy="-9.0">|</tspan></text>
<clipPath id="ch"><rect x="929.8" y="1.9" width="571.8" height="510.1"/></clipPath>
<g clip-path="url(#ch)">
<g fill="none" stroke="#c8282d" stroke-width="1.6">
<rect x="930.8" y="343.2" width="7.1" height="7.1"/>
<rect x="936.6" y="332.2" width="7.1" height="7.1"/>
<rect x="942.5" y="320.7" width="7.1" height="7.1"/>
<rect x="948.3" y="311.2" width="7.1" height="7.1"/>
<rect x="954.2" y="302.5" width="7.1" height="7.1"/>
<rect x="965.9" y="283.8" width="7.1" height="7.1"/>
<rect x="977.6" y="267.5" width="7.1" height="7.1"/>
<rect x="989.3" y="252.6" width="7.1" height="7.1"/>
<rect x="1001.0" y="239.1" width="7.1" height="7.1"/>
<rect x="1012.7" y="226.9" width="7.1" height="7.1"/>
<rect x="1024.4" y="215.1" width="7.1" height="7.1"/>
<rect x="1036.1" y="204.7" width="7.1" height="7.1"/>
<rect x="1047.8" y="195.6" width="7.1" height="7.1"/>
<rect x="1059.6" y="187.3" width="7.1" height="7.1"/>
<rect x="1071.3" y="179.2" width="7.1" height="7.1"/>
<rect x="1083.0" y="172.1" width="7.1" height="7.1"/>
<rect x="1094.7" y="166.0" width="7.1" height="7.1"/>
<rect x="1106.4" y="160.2" width="7.1" height="7.1"/>
<rect x="1118.1" y="155.5" width="7.1" height="7.1"/>
<rect x="1129.8" y="150.8" width="7.1" height="7.1"/>
<rect x="1141.5" y="146.7" width="7.1" height="7.1"/>
<rect x="1153.2" y="142.8" width="7.1" height="7.1"/>
<rect x="1164.9" y="139.4" width="7.1" height="7.1"/>
<rect x="1176.6" y="136.8" width="7.1" height="7.1"/>
<rect x="1188.4" y="134.6" width="7.1" height="7.1"/>
<rect x="1200.1" y="132.5" width="7.1" height="7.1"/>
<rect x="1211.8" y="130.8" width="7.1" height="7.1"/>
<rect x="1223.5" y="129.3" width="7.1" height="7.1"/>
<rect x="1235.2" y="128.0" width="7.1" height="7.1"/>
<rect x="1246.9" y="126.8" width="7.1" height="7.1"/>
<rect x="1258.6" y="126.3" width="7.1" height="7.1"/>
<rect x="1270.3" y="125.7" width="7.1" height="7.1"/>
<rect x="1282.0" y="125.4" width="7.1" height="7.1"/>
<rect x="1293.7" y="125.1" width="7.1" height="7.1"/>
<rect x="1305.5" y="125.1" width="7.1" height="7.1"/>
<rect x="1317.2" y="125.4" width="7.1" height="7.1"/>
<rect x="1328.9" y="125.7" width="7.1" height="7.1"/>
<rect x="1340.6" y="126.3" width="7.1" height="7.1"/>
<rect x="1352.3" y="126.9" width="7.1" height="7.1"/>
<rect x="1364.0" y="127.7" width="7.1" height="7.1"/>
<rect x="1375.7" y="128.3" width="7.1" height="7.1"/>
<rect x="1387.4" y="129.2" width="7.1" height="7.1"/>
<rect x="1399.1" y="130.0" width="7.1" height="7.1"/>
<rect x="1410.8" y="131.1" width="7.1" height="7.1"/>
<rect x="1422.5" y="132.3" width="7.1" height="7.1"/>
<rect x="1434.3" y="133.5" width="7.1" height="7.1"/>
<rect x="1446.0" y="134.6" width="7.1" height="7.1"/>
<rect x="1457.7" y="135.8" width="7.1" height="7.1"/>
<rect x="1469.4" y="137.2" width="7.1" height="7.1"/>
<rect x="1481.1" y="138.7" width="7.1" height="7.1"/>
<rect x="1492.8" y="140.3" width="7.1" height="7.1"/>
</g>
<g fill="none" stroke="#ff00ff" stroke-width="1.9">
<path d="M934.3 339.9L938.0 343.6L934.3 347.4L930.5 343.6Z"/>
<path d="M946.0 309.9L949.8 313.6L946.0 317.4L942.3 313.6Z"/>
<path d="M957.7 279.1L961.5 282.8L957.7 286.6L954.0 282.8Z"/>
<path d="M969.4 253.7L973.2 257.4L969.4 261.2L965.7 257.4Z"/>
<path d="M981.1 229.2L984.9 233.0L981.1 236.7L977.4 233.0Z"/>
<path d="M992.8 206.8L996.6 210.6L992.8 214.3L989.1 210.6Z"/>
<path d="M1004.6 186.6L1008.3 190.3L1004.6 194.1L1000.8 190.3Z"/>
<path d="M1016.3 168.3L1020.0 172.0L1016.3 175.8L1012.5 172.0Z"/>
<path d="M1028.0 150.9L1031.7 154.6L1028.0 158.4L1024.2 154.6Z"/>
<path d="M1039.7 134.5L1043.4 138.3L1039.7 142.0L1035.9 138.3Z"/>
<path d="M1051.4 120.5L1055.1 124.3L1051.4 128.0L1047.6 124.3Z"/>
<path d="M1063.1 107.8L1066.9 111.5L1063.1 115.3L1059.4 111.5Z"/>
<path d="M1074.8 96.0L1078.6 99.8L1074.8 103.5L1071.1 99.8Z"/>
<path d="M1086.5 85.0L1090.3 88.8L1086.5 92.5L1082.8 88.8Z"/>
<path d="M1098.2 75.0L1102.0 78.8L1098.2 82.5L1094.5 78.8Z"/>
<path d="M1109.9 66.0L1113.7 69.8L1109.9 73.5L1106.2 69.8Z"/>
<path d="M1121.6 57.8L1125.4 61.5L1121.6 65.3L1117.9 61.5Z"/>
<path d="M1133.4 50.8L1137.1 54.6L1133.4 58.3L1129.6 54.6Z"/>
<path d="M1145.1 44.3L1148.8 48.0L1145.1 51.8L1141.3 48.0Z"/>
<path d="M1156.8 38.0L1160.5 41.8L1156.8 45.5L1153.0 41.8Z"/>
<path d="M1168.5 32.7L1172.2 36.4L1168.5 40.2L1164.7 36.4Z"/>
<path d="M1180.2 27.7L1183.9 31.5L1180.2 35.2L1176.4 31.5Z"/>
<path d="M1191.9 23.7L1195.7 27.5L1191.9 31.2L1188.2 27.5Z"/>
<path d="M1203.6 20.1L1207.4 23.9L1203.6 27.6L1199.9 23.9Z"/>
<path d="M1215.3 17.0L1219.1 20.8L1215.3 24.5L1211.6 20.8Z"/>
<path d="M1227.0 14.3L1230.8 18.0L1227.0 21.8L1223.3 18.0Z"/>
<path d="M1238.7 11.7L1242.5 15.4L1238.7 19.2L1235.0 15.4Z"/>
<path d="M1250.5 9.7L1254.2 13.4L1250.5 17.2L1246.7 13.4Z"/>
<path d="M1262.2 8.0L1265.9 11.7L1262.2 15.5L1258.4 11.7Z"/>
<path d="M1273.9 6.5L1277.6 10.3L1273.9 14.0L1270.1 10.3Z"/>
<path d="M1285.6 5.6L1289.3 9.3L1285.6 13.1L1281.8 9.3Z"/>
<path d="M1297.3 5.1L1301.0 8.8L1297.3 12.6L1293.5 8.8Z"/>
<path d="M1309.0 4.5L1312.8 8.2L1309.0 12.0L1305.2 8.2Z"/>
<path d="M1320.7 4.2L1324.5 7.9L1320.7 11.7L1317.0 7.9Z"/>
<path d="M1332.4 4.1L1336.2 7.9L1332.4 11.6L1328.7 7.9Z"/>
<path d="M1344.1 4.4L1347.9 8.1L1344.1 11.9L1340.4 8.1Z"/>
<path d="M1355.8 5.0L1359.6 8.7L1355.8 12.5L1352.1 8.7Z"/>
<path d="M1367.5 5.3L1371.3 9.0L1367.5 12.8L1363.8 9.0Z"/>
<path d="M1379.3 5.8L1383.0 9.6L1379.3 13.3L1375.5 9.6Z"/>
<path d="M1391.0 6.6L1394.7 10.4L1391.0 14.1L1387.2 10.4Z"/>
<path d="M1402.7 7.5L1406.4 11.3L1402.7 15.0L1398.9 11.3Z"/>
<path d="M1414.4 8.6L1418.1 12.4L1414.4 16.1L1410.6 12.4Z"/>
<path d="M1426.1 10.0L1429.8 13.8L1426.1 17.5L1422.3 13.8Z"/>
<path d="M1437.8 11.2L1441.6 15.0L1437.8 18.7L1434.1 15.0Z"/>
<path d="M1449.5 12.9L1453.3 16.7L1449.5 20.4L1445.8 16.7Z"/>
<path d="M1461.2 14.4L1465.0 18.1L1461.2 21.9L1457.5 18.1Z"/>
<path d="M1472.9 16.1L1476.7 19.8L1472.9 23.6L1469.2 19.8Z"/>
<path d="M1484.6 17.5L1488.4 21.3L1484.6 25.0L1480.9 21.3Z"/>
<path d="M1496.3 19.3L1500.1 23.1L1496.3 26.8L1492.6 23.1Z"/>
</g>
<g fill="none" stroke="#000" stroke-width="1.9" stroke-linecap="butt">
<path d="M934.3 355.3L934.3 350.6M934.3 355.3L938.8 353.9M934.3 355.3L929.8 353.9M934.3 355.3L937.1 359.1M934.3 355.3L931.5 359.1"/>
<path d="M946.0 354.0L946.0 349.3M946.0 354.0L950.5 352.6M946.0 354.0L941.5 352.6M946.0 354.0L948.8 357.8M946.0 354.0L943.2 357.8"/>
<path d="M957.7 352.9L957.7 348.2M957.7 352.9L962.2 351.5M957.7 352.9L953.2 351.5M957.7 352.9L960.5 356.7M957.7 352.9L955.0 356.7"/>
<path d="M969.4 352.1L969.4 347.4M969.4 352.1L973.9 350.6M969.4 352.1L965.0 350.6M969.4 352.1L972.2 355.9M969.4 352.1L966.7 355.9"/>
<path d="M981.1 351.3L981.1 346.6M981.1 351.3L985.6 349.8M981.1 351.3L976.7 349.8M981.1 351.3L983.9 355.1M981.1 351.3L978.4 355.1"/>
<path d="M992.8 350.7L992.8 346.0M992.8 350.7L997.3 349.2M992.8 350.7L988.4 349.2M992.8 350.7L995.6 354.5M992.8 350.7L990.1 354.5"/>
<path d="M1004.6 350.2L1004.6 345.5M1004.6 350.2L1009.0 348.7M1004.6 350.2L1000.1 348.7M1004.6 350.2L1007.3 354.0M1004.6 350.2L1001.8 354.0"/>
<path d="M1016.3 350.0L1016.3 345.3M1016.3 350.0L1020.7 348.5M1016.3 350.0L1011.8 348.5M1016.3 350.0L1019.0 353.8M1016.3 350.0L1013.5 353.8"/>
<path d="M1028.0 349.9L1028.0 345.2M1028.0 349.9L1032.4 348.5M1028.0 349.9L1023.5 348.5M1028.0 349.9L1030.7 353.7M1028.0 349.9L1025.2 353.7"/>
<path d="M1039.7 350.2L1039.7 345.5M1039.7 350.2L1044.2 348.7M1039.7 350.2L1035.2 348.7M1039.7 350.2L1042.4 354.0M1039.7 350.2L1036.9 354.0"/>
<path d="M1051.4 350.7L1051.4 346.0M1051.4 350.7L1055.9 349.2M1051.4 350.7L1046.9 349.2M1051.4 350.7L1054.2 354.5M1051.4 350.7L1048.6 354.5"/>
<path d="M1063.1 351.2L1063.1 346.5M1063.1 351.2L1067.6 349.8M1063.1 351.2L1058.6 349.8M1063.1 351.2L1065.9 355.0M1063.1 351.2L1060.3 355.0"/>
<path d="M1074.8 351.9L1074.8 347.2M1074.8 351.9L1079.3 350.4M1074.8 351.9L1070.3 350.4M1074.8 351.9L1077.6 355.7M1074.8 351.9L1072.0 355.7"/>
<path d="M1086.5 352.6L1086.5 347.9M1086.5 352.6L1091.0 351.2M1086.5 352.6L1082.1 351.2M1086.5 352.6L1089.3 356.4M1086.5 352.6L1083.8 356.4"/>
<path d="M1098.2 353.5L1098.2 348.8M1098.2 353.5L1102.7 352.0M1098.2 353.5L1093.8 352.0M1098.2 353.5L1101.0 357.3M1098.2 353.5L1095.5 357.3"/>
<path d="M1109.9 354.4L1109.9 349.7M1109.9 354.4L1114.4 352.9M1109.9 354.4L1105.5 352.9M1109.9 354.4L1112.7 358.2M1109.9 354.4L1107.2 358.2"/>
<path d="M1121.6 355.3L1121.6 350.6M1121.6 355.3L1126.1 353.9M1121.6 355.3L1117.2 353.9M1121.6 355.3L1124.4 359.1M1121.6 355.3L1118.9 359.1"/>
<path d="M1133.4 356.3L1133.4 351.6M1133.4 356.3L1137.8 354.9M1133.4 356.3L1128.9 354.9M1133.4 356.3L1136.1 360.1M1133.4 356.3L1130.6 360.1"/>
<path d="M1145.1 357.3L1145.1 352.6M1145.1 357.3L1149.5 355.8M1145.1 357.3L1140.6 355.8M1145.1 357.3L1147.8 361.1M1145.1 357.3L1142.3 361.1"/>
<path d="M1156.8 358.3L1156.8 353.6M1156.8 358.3L1161.2 356.8M1156.8 358.3L1152.3 356.8M1156.8 358.3L1159.5 362.1M1156.8 358.3L1154.0 362.1"/>
<path d="M1168.5 359.3L1168.5 354.6M1168.5 359.3L1173.0 357.8M1168.5 359.3L1164.0 357.8M1168.5 359.3L1171.3 363.1M1168.5 359.3L1165.7 363.1"/>
<path d="M1180.2 360.3L1180.2 355.6M1180.2 360.3L1184.7 358.8M1180.2 360.3L1175.7 358.8M1180.2 360.3L1183.0 364.1M1180.2 360.3L1177.4 364.1"/>
<path d="M1191.9 361.2L1191.9 356.5M1191.9 361.2L1196.4 359.8M1191.9 361.2L1187.4 359.8M1191.9 361.2L1194.7 365.0M1191.9 361.2L1189.1 365.0"/>
<path d="M1203.6 362.2L1203.6 357.5M1203.6 362.2L1208.1 360.8M1203.6 362.2L1199.1 360.8M1203.6 362.2L1206.4 366.0M1203.6 362.2L1200.9 366.0"/>
<path d="M1215.3 363.2L1215.3 358.5M1215.3 363.2L1219.8 361.8M1215.3 363.2L1210.9 361.8M1215.3 363.2L1218.1 367.0M1215.3 363.2L1212.6 367.0"/>
<path d="M1227.0 364.2L1227.0 359.5M1227.0 364.2L1231.5 362.7M1227.0 364.2L1222.6 362.7M1227.0 364.2L1229.8 368.0M1227.0 364.2L1224.3 368.0"/>
<path d="M1238.7 365.2L1238.7 360.5M1238.7 365.2L1243.2 363.7M1238.7 365.2L1234.3 363.7M1238.7 365.2L1241.5 369.0M1238.7 365.2L1236.0 369.0"/>
<path d="M1250.5 366.2L1250.5 361.5M1250.5 366.2L1254.9 364.7M1250.5 366.2L1246.0 364.7M1250.5 366.2L1253.2 370.0M1250.5 366.2L1247.7 370.0"/>
<path d="M1262.2 367.1L1262.2 362.4M1262.2 367.1L1266.6 365.7M1262.2 367.1L1257.7 365.7M1262.2 367.1L1264.9 370.9M1262.2 367.1L1259.4 370.9"/>
<path d="M1273.9 368.1L1273.9 363.4M1273.9 368.1L1278.3 366.7M1273.9 368.1L1269.4 366.7M1273.9 368.1L1276.6 371.9M1273.9 368.1L1271.1 371.9"/>
<path d="M1285.6 369.1L1285.6 364.4M1285.6 369.1L1290.1 367.7M1285.6 369.1L1281.1 367.7M1285.6 369.1L1288.3 372.9M1285.6 369.1L1282.8 372.9"/>
<path d="M1297.3 370.1L1297.3 365.4M1297.3 370.1L1301.8 368.6M1297.3 370.1L1292.8 368.6M1297.3 370.1L1300.1 373.9M1297.3 370.1L1294.5 373.9"/>
<path d="M1309.0 371.1L1309.0 366.4M1309.0 371.1L1313.5 369.6M1309.0 371.1L1304.5 369.6M1309.0 371.1L1311.8 374.9M1309.0 371.1L1306.2 374.9"/>
<path d="M1320.7 372.1L1320.7 367.4M1320.7 372.1L1325.2 370.6M1320.7 372.1L1316.2 370.6M1320.7 372.1L1323.5 375.9M1320.7 372.1L1317.9 375.9"/>
<path d="M1332.4 373.1L1332.4 368.4M1332.4 373.1L1336.9 371.6M1332.4 373.1L1327.9 371.6M1332.4 373.1L1335.2 376.9M1332.4 373.1L1329.7 376.9"/>
<path d="M1344.1 374.0L1344.1 369.3M1344.1 374.0L1348.6 372.6M1344.1 374.0L1339.7 372.6M1344.1 374.0L1346.9 377.8M1344.1 374.0L1341.4 377.8"/>
<path d="M1355.8 375.0L1355.8 370.3M1355.8 375.0L1360.3 373.6M1355.8 375.0L1351.4 373.6M1355.8 375.0L1358.6 378.8M1355.8 375.0L1353.1 378.8"/>
<path d="M1367.5 376.0L1367.5 371.3M1367.5 376.0L1372.0 374.6M1367.5 376.0L1363.1 374.6M1367.5 376.0L1370.3 379.8M1367.5 376.0L1364.8 379.8"/>
<path d="M1379.3 377.0L1379.3 372.3M1379.3 377.0L1383.7 375.5M1379.3 377.0L1374.8 375.5M1379.3 377.0L1382.0 380.8M1379.3 377.0L1376.5 380.8"/>
<path d="M1391.0 377.9L1391.0 373.2M1391.0 377.9L1395.4 376.5M1391.0 377.9L1386.5 376.5M1391.0 377.9L1393.7 381.7M1391.0 377.9L1388.2 381.7"/>
<path d="M1402.7 378.8L1402.7 374.1M1402.7 378.8L1407.1 377.4M1402.7 378.8L1398.2 377.4M1402.7 378.8L1405.4 382.6M1402.7 378.8L1399.9 382.6"/>
<path d="M1414.4 379.7L1414.4 375.0M1414.4 379.7L1418.9 378.3M1414.4 379.7L1409.9 378.3M1414.4 379.7L1417.1 383.5M1414.4 379.7L1411.6 383.5"/>
<path d="M1426.1 380.6L1426.1 375.9M1426.1 380.6L1430.6 379.1M1426.1 380.6L1421.6 379.1M1426.1 380.6L1428.9 384.4M1426.1 380.6L1423.3 384.4"/>
<path d="M1437.8 381.5L1437.8 376.8M1437.8 381.5L1442.3 380.0M1437.8 381.5L1433.3 380.0M1437.8 381.5L1440.6 385.3M1437.8 381.5L1435.0 385.3"/>
<path d="M1449.5 382.4L1449.5 377.7M1449.5 382.4L1454.0 380.9M1449.5 382.4L1445.0 380.9M1449.5 382.4L1452.3 386.2M1449.5 382.4L1446.7 386.2"/>
<path d="M1461.2 383.3L1461.2 378.6M1461.2 383.3L1465.7 381.8M1461.2 383.3L1456.8 381.8M1461.2 383.3L1464.0 387.1M1461.2 383.3L1458.5 387.1"/>
<path d="M1472.9 384.2L1472.9 379.5M1472.9 384.2L1477.4 382.7M1472.9 384.2L1468.5 382.7M1472.9 384.2L1475.7 388.0M1472.9 384.2L1470.2 388.0"/>
<path d="M1484.6 385.1L1484.6 380.4M1484.6 385.1L1489.1 383.6M1484.6 385.1L1480.2 383.6M1484.6 385.1L1487.4 388.9M1484.6 385.1L1481.9 388.9"/>
<path d="M1496.3 386.0L1496.3 381.3M1496.3 386.0L1500.8 384.5M1496.3 386.0L1491.9 384.5M1496.3 386.0L1499.1 389.8M1496.3 386.0L1493.6 389.8"/>
</g>
<g fill="none" stroke="#ff0000" stroke-width="1.7">
<path d="M930.6 361.4H939.4M935.0 357.0V365.8"/>
<path d="M942.4 369.8H951.2M946.8 365.4V374.2"/>
<path d="M954.1 377.3H962.9M958.5 372.9V381.7"/>
<path d="M965.8 384.6H974.6M970.2 380.2V389.0"/>
<path d="M977.5 392.1H986.3M981.9 387.7V396.5"/>
<path d="M989.2 399.1H998.0M993.6 394.7V403.5"/>
<path d="M1000.9 405.7H1009.7M1005.3 401.3V410.1"/>
<path d="M1012.6 412.1H1021.4M1017.0 407.7V416.5"/>
<path d="M1024.3 417.8H1033.1M1028.7 413.4V422.2"/>
<path d="M1036.0 423.3H1044.8M1040.4 418.9V427.7"/>
<path d="M1047.7 428.8H1056.5M1052.1 424.4V433.2"/>
<path d="M1059.5 433.7H1068.3M1063.9 429.3V438.1"/>
<path d="M1071.2 438.3H1080.0M1075.6 433.9V442.7"/>
<path d="M1082.9 442.8H1091.7M1087.3 438.4V447.2"/>
<path d="M1094.6 447.0H1103.4M1099.0 442.6V451.4"/>
<path d="M1106.3 451.2H1115.1M1110.7 446.8V455.6"/>
<path d="M1118.0 455.0H1126.8M1122.4 450.6V459.4"/>
<path d="M1129.7 458.6H1138.5M1134.1 454.2V463.0"/>
<path d="M1141.4 462.2H1150.2M1145.8 457.8V466.6"/>
<path d="M1153.1 465.5H1161.9M1157.5 461.1V469.9"/>
<path d="M1164.8 468.3H1173.6M1169.2 463.9V472.7"/>
<path d="M1176.5 471.5H1185.3M1180.9 467.1V475.9"/>
<path d="M1188.3 474.0H1197.1M1192.7 469.6V478.4"/>
<path d="M1200.0 476.7H1208.8M1204.4 472.3V481.1"/>
<path d="M1211.7 479.2H1220.5M1216.1 474.8V483.6"/>
<path d="M1223.4 481.4H1232.2M1227.8 477.0V485.8"/>
<path d="M1235.1 483.6H1243.9M1239.5 479.2V488.0"/>
<path d="M1246.8 485.6H1255.6M1251.2 481.2V490.0"/>
<path d="M1258.5 487.6H1267.3M1262.9 483.2V492.0"/>
<path d="M1270.2 489.2H1279.0M1274.6 484.8V493.6"/>
<path d="M1281.9 491.1H1290.7M1286.3 486.7V495.5"/>
<path d="M1293.6 492.7H1302.4M1298.0 488.3V497.1"/>
<path d="M1305.3 494.4H1314.1M1309.7 490.0V498.8"/>
<path d="M1317.1 495.8H1325.9M1321.5 491.4V500.2"/>
<path d="M1328.8 497.0H1337.6M1333.2 492.6V501.4"/>
<path d="M1340.5 498.1H1349.3M1344.9 493.7V502.5"/>
<path d="M1352.2 499.3H1361.0M1356.6 494.9V503.7"/>
<path d="M1363.9 500.5H1372.7M1368.3 496.1V504.9"/>
<path d="M1375.6 501.3H1384.4M1380.0 496.9V505.7"/>
<path d="M1387.3 502.4H1396.1M1391.7 498.0V506.8"/>
<path d="M1399.0 503.3H1407.8M1403.4 498.9V507.7"/>
<path d="M1410.7 504.1H1419.5M1415.1 499.7V508.5"/>
<path d="M1422.4 504.7H1431.2M1426.8 500.3V509.1"/>
<path d="M1434.2 505.6H1443.0M1438.6 501.2V510.0"/>
<path d="M1445.9 506.2H1454.7M1450.3 501.8V510.6"/>
<path d="M1457.6 506.7H1466.4M1462.0 502.3V511.1"/>
<path d="M1469.3 507.0H1478.1M1473.7 502.6V511.4"/>
<path d="M1481.0 507.6H1489.8M1485.4 503.2V512.0"/>
<path d="M1491.9 507.9H1500.8M1496.3 503.5V512.3"/>
</g>
<g fill="none" stroke="#0000ff" stroke-width="2.0">
<circle cx="934.3" cy="349.9" r="3.4"/>
<circle cx="940.2" cy="341.8" r="3.4"/>
<circle cx="946.0" cy="335.0" r="3.4"/>
<circle cx="951.9" cy="331.6" r="3.4"/>
<circle cx="957.7" cy="329.4" r="3.4"/>
<circle cx="969.4" cy="317.3" r="3.4"/>
<circle cx="981.1" cy="309.1" r="3.4"/>
<circle cx="992.8" cy="301.7" r="3.4"/>
<circle cx="1004.6" cy="294.9" r="3.4"/>
<circle cx="1016.3" cy="288.9" r="3.4"/>
<circle cx="1028.0" cy="282.6" r="3.4"/>
<circle cx="1039.7" cy="278.1" r="3.4"/>
<circle cx="1051.4" cy="274.1" r="3.4"/>
<circle cx="1063.1" cy="270.1" r="3.4"/>
<circle cx="1074.8" cy="265.7" r="3.4"/>
<circle cx="1086.5" cy="262.6" r="3.4"/>
<circle cx="1098.2" cy="260.2" r="3.4"/>
<circle cx="1109.9" cy="257.7" r="3.4"/>
<circle cx="1121.6" cy="256.5" r="3.4"/>
<circle cx="1133.4" cy="254.2" r="3.4"/>
<circle cx="1145.1" cy="252.4" r="3.4"/>
<circle cx="1156.8" cy="250.9" r="3.4"/>
<circle cx="1168.5" cy="249.5" r="3.4"/>
<circle cx="1180.2" cy="249.3" r="3.4"/>
<circle cx="1191.9" cy="248.8" r="3.4"/>
<circle cx="1203.6" cy="248.3" r="3.4"/>
<circle cx="1215.3" cy="248.0" r="3.4"/>
<circle cx="1227.0" cy="247.6" r="3.4"/>
<circle cx="1238.7" cy="247.7" r="3.4"/>
<circle cx="1250.5" cy="247.3" r="3.4"/>
<circle cx="1262.2" cy="247.9" r="3.4"/>
<circle cx="1273.9" cy="248.2" r="3.4"/>
<circle cx="1285.6" cy="248.6" r="3.4"/>
<circle cx="1297.3" cy="248.5" r="3.4"/>
<circle cx="1309.0" cy="249.1" r="3.4"/>
<circle cx="1320.7" cy="250.0" r="3.4"/>
<circle cx="1332.4" cy="250.6" r="3.4"/>
<circle cx="1344.1" cy="251.5" r="3.4"/>
<circle cx="1355.8" cy="252.1" r="3.4"/>
<circle cx="1367.5" cy="253.5" r="3.4"/>
<circle cx="1379.3" cy="254.1" r="3.4"/>
<circle cx="1391.0" cy="255.1" r="3.4"/>
<circle cx="1402.7" cy="255.9" r="3.4"/>
<circle cx="1414.4" cy="257.0" r="3.4"/>
<circle cx="1426.1" cy="257.9" r="3.4"/>
<circle cx="1437.8" cy="259.1" r="3.4"/>
<circle cx="1449.5" cy="259.6" r="3.4"/>
<circle cx="1461.2" cy="260.5" r="3.4"/>
<circle cx="1472.9" cy="261.7" r="3.4"/>
<circle cx="1484.6" cy="263.1" r="3.4"/>
<circle cx="1496.3" cy="264.6" r="3.4"/>
</g>
<path d="M934.3 355.3L935.7 355.2L937.1 355.0L938.5 354.8L939.9 354.7L941.3 354.5L942.8 354.4L944.2 354.2L945.6 354.1L947.0 353.9L948.4 353.8L949.8 353.6L951.2 353.5L952.6 353.4L954.0 353.3L955.4 353.1L956.8 353.0L958.2 352.9L959.7 352.8L961.1 352.7L962.5 352.6L963.9 352.5L965.3 352.4L966.7 352.3L968.1 352.2L969.5 352.1L970.9 352.0L972.3 351.9L973.7 351.8L975.2 351.7L976.6 351.6L978.0 351.5L979.4 351.4L980.8 351.3L982.2 351.2L983.6 351.1L985.0 351.1L986.4 351.0L987.8 350.9L989.2 350.8L990.6 350.8L992.1 350.7L993.5 350.6L994.9 350.6L996.3 350.5L997.7 350.4L999.1 350.4L1000.5 350.3L1001.9 350.2L1003.3 350.2L1004.7 350.1L1006.1 350.1L1007.5 350.1L1009.0 350.1L1010.4 350.0L1011.8 350.0L1013.2 350.0L1014.6 350.0L1016.0 350.0L1017.4 350.0L1018.8 349.9L1020.2 349.9L1021.6 349.9L1023.0 349.9L1024.5 349.9L1025.9 349.9L1027.3 349.9L1028.7 349.9L1030.1 349.9L1031.5 349.9L1032.9 350.0L1034.3 350.0L1035.7 350.0L1037.1 350.1L1038.5 350.1L1039.9 350.2L1041.4 350.3L1042.8 350.3L1044.2 350.4L1045.6 350.4L1047.0 350.5L1048.4 350.5L1049.8 350.6L1051.2 350.7L1052.6 350.7L1054.0 350.8L1055.4 350.8L1056.9 350.9L1058.3 351.0L1059.7 351.1L1061.1 351.1L1062.5 351.2L1063.9 351.3L1065.3 351.4L1066.7 351.4L1068.1 351.5L1069.5 351.6L1070.9 351.7L1072.3 351.8L1073.8 351.8L1075.2 351.9L1076.6 352.0L1078.0 352.1L1079.4 352.2L1080.8 352.3L1082.2 352.4L1083.6 352.4L1085.0 352.5L1086.4 352.6L1087.8 352.7L1089.3 352.8L1090.7 352.9L1092.1 353.0L1093.5 353.1L1094.9 353.2L1096.3 353.3L1097.7 353.4L1099.1 353.5L1100.5 353.6L1101.9 353.8L1103.3 353.9L1104.7 354.0L1106.2 354.1L1107.6 354.2L1109.0 354.3L1110.4 354.4L1111.8 354.5L1113.2 354.7L1114.6 354.8L1116.0 354.9L1117.4 355.0L1118.8 355.1L1120.2 355.2L1121.6 355.3L1123.1 355.5L1124.5 355.6L1125.9 355.7L1127.3 355.8L1128.7 355.9L1130.1 356.0L1131.5 356.1L1132.9 356.3L1134.3 356.4L1135.7 356.5L1137.1 356.6L1138.6 356.7L1140.0 356.9L1141.4 357.0L1142.8 357.1L1144.2 357.2L1145.6 357.3L1147.0 357.5L1148.4 357.6L1149.8 357.7L1151.2 357.8L1152.6 357.9L1154.0 358.1L1155.5 358.2L1156.9 358.3L1158.3 358.4L1159.7 358.5L1161.1 358.7L1162.5 358.8L1163.9 358.9L1165.3 359.0L1166.7 359.1L1168.1 359.2L1169.5 359.4L1171.0 359.5L1172.4 359.6L1173.8 359.7L1175.2 359.8L1176.6 360.0L1178.0 360.1L1179.4 360.2L1180.8 360.3L1182.2 360.4L1183.6 360.5L1185.0 360.7L1186.4 360.8L1187.9 360.9L1189.3 361.0L1190.7 361.1L1192.1 361.3L1193.5 361.4L1194.9 361.5L1196.3 361.6L1197.7 361.7L1199.1 361.9L1200.5 362.0L1201.9 362.1L1203.4 362.2L1204.8 362.3L1206.2 362.4L1207.6 362.6L1209.0 362.7L1210.4 362.8L1211.8 362.9L1213.2 363.0L1214.6 363.2L1216.0 363.3L1217.4 363.4L1218.8 363.5L1220.3 363.6L1221.7 363.7L1223.1 363.9L1224.5 364.0L1225.9 364.1L1227.3 364.2L1228.7 364.3L1230.1 364.5L1231.5 364.6L1232.9 364.7L1234.3 364.8L1235.8 364.9L1237.2 365.0L1238.6 365.2L1240.0 365.3L1241.4 365.4L1242.8 365.5L1244.2 365.6L1245.6 365.8L1247.0 365.9L1248.4 366.0L1249.8 366.1L1251.2 366.2L1252.7 366.3L1254.1 366.5L1255.5 366.6L1256.9 366.7L1258.3 366.8L1259.7 366.9L1261.1 367.1L1262.5 367.2L1263.9 367.3L1265.3 367.4L1266.7 367.5L1268.1 367.7L1269.6 367.8L1271.0 367.9L1272.4 368.0L1273.8 368.1L1275.2 368.2L1276.6 368.4L1278.0 368.5L1279.4 368.6L1280.8 368.7L1282.2 368.8L1283.6 369.0L1285.1 369.1L1286.5 369.2L1287.9 369.3L1289.3 369.4L1290.7 369.5L1292.1 369.7L1293.5 369.8L1294.9 369.9L1296.3 370.0L1297.7 370.1L1299.1 370.3L1300.5 370.4L1302.0 370.5L1303.4 370.6L1304.8 370.7L1306.2 370.8L1307.6 371.0L1309.0 371.1L1310.4 371.2L1311.8 371.3L1313.2 371.4L1314.6 371.6L1316.0 371.7L1317.5 371.8L1318.9 371.9L1320.3 372.0L1321.7 372.1L1323.1 372.3L1324.5 372.4L1325.9 372.5L1327.3 372.6L1328.7 372.7L1330.1 372.9L1331.5 373.0L1332.9 373.1L1334.4 373.2L1335.8 373.3L1337.2 373.4L1338.6 373.6L1340.0 373.7L1341.4 373.8L1342.8 373.9L1344.2 374.0L1345.6 374.2L1347.0 374.3L1348.4 374.4L1349.9 374.5L1351.3 374.6L1352.7 374.8L1354.1 374.9L1355.5 375.0L1356.9 375.1L1358.3 375.2L1359.7 375.4L1361.1 375.5L1362.5 375.6L1363.9 375.7L1365.3 375.8L1366.8 376.0L1368.2 376.1L1369.6 376.2L1371.0 376.3L1372.4 376.4L1373.8 376.5L1375.2 376.7L1376.6 376.8L1378.0 376.9L1379.4 377.0L1380.8 377.1L1382.2 377.2L1383.7 377.4L1385.1 377.5L1386.5 377.6L1387.9 377.7L1389.3 377.8L1390.7 377.9L1392.1 378.0L1393.5 378.1L1394.9 378.2L1396.3 378.3L1397.7 378.5L1399.2 378.6L1400.6 378.7L1402.0 378.8L1403.4 378.9L1404.8 379.0L1406.2 379.1L1407.6 379.2L1409.0 379.3L1410.4 379.4L1411.8 379.5L1413.2 379.6L1414.6 379.7L1416.1 379.8L1417.5 379.9L1418.9 380.0L1420.3 380.2L1421.7 380.3L1423.1 380.4L1424.5 380.5L1425.9 380.6L1427.3 380.7L1428.7 380.8L1430.1 380.9L1431.6 381.0L1433.0 381.1L1434.4 381.2L1435.8 381.3L1437.2 381.4L1438.6 381.6L1440.0 381.7L1441.4 381.8L1442.8 381.9L1444.2 382.0L1445.6 382.1L1447.0 382.2L1448.5 382.3L1449.9 382.4L1451.3 382.5L1452.7 382.6L1454.1 382.7L1455.5 382.8L1456.9 383.0L1458.3 383.1L1459.7 383.2L1461.1 383.3L1462.5 383.4L1464.0 383.5L1465.4 383.6L1466.8 383.7L1468.2 383.8L1469.6 383.9L1471.0 384.0L1472.4 384.1L1473.8 384.2L1475.2 384.4L1476.6 384.5L1478.0 384.6L1479.4 384.7L1480.9 384.8L1482.3 384.9L1483.7 385.0L1485.1 385.1L1486.5 385.2L1487.9 385.3L1489.3 385.4L1490.7 385.5L1492.1 385.6L1493.5 385.7L1494.9 385.9L1496.3 386.0" fill="none" stroke="#00ff00" stroke-width="2.5" stroke-linejoin="round"/>
</g>
<rect x="929.8" y="1.9" width="571.8" height="510.1" fill="none" stroke="#000" stroke-width="1.9"/>
<path d="M934.3 512v9.5M1121.6 512v9.5M1309.0 512v9.5M1496.3 512v9.5M971.8 512v4.8M1009.2 512v4.8M1046.7 512v4.8M1084.2 512v4.8M1159.1 512v4.8M1196.6 512v4.8M1234.1 512v4.8M1271.5 512v4.8M1346.5 512v4.8M1383.9 512v4.8M1421.4 512v4.8M1458.9 512v4.8M929.8 470.7h-9.5M929.8 413.4h-9.5M929.8 356.2h-9.5M929.8 299.0h-9.5M929.8 241.7h-9.5M929.8 184.5h-9.5M929.8 127.2h-9.5M929.8 70.0h-9.5M929.8 12.8h-9.5M929.8 499.3h-4.8M929.8 442.1h-4.8M929.8 384.8h-4.8M929.8 327.6h-4.8M929.8 270.3h-4.8M929.8 213.1h-4.8M929.8 155.9h-4.8M929.8 98.6h-4.8M929.8 41.4h-4.8" stroke="#000" stroke-width="1.6" fill="none"/>
<text transform="translate(934.3 544.7) scale(1 1.12)" font-size="22" font-family="'Liberation Serif', serif" text-anchor="middle">2.5</text>
<text transform="translate(1121.6 544.7) scale(1 1.12)" font-size="22" font-family="'Liberation Serif', serif" text-anchor="middle">3</text>
<text transform="translate(1309.0 544.7) scale(1 1.12)" font-size="22" font-family="'Liberation Serif', serif" text-anchor="middle">3.5</text>
<text transform="translate(1496.3 544.7) scale(1 1.12)" font-size="22" font-family="'Liberation Serif', serif" text-anchor="middle">4</text>
<text transform="translate(918.0 479.8) scale(1 1.12)" font-size="22" font-family="'Liberation Serif', serif" text-anchor="end">−0.004</text>
<text transform="translate(918.0 422.6) scale(1 1.12)" font-size="22" font-family="'Liberation Serif', serif" text-anchor="end">−0.002</text>
<text transform="translate(918.0 365.3) scale(1 1.12)" font-size="22" font-family="'Liberation Serif', serif" text-anchor="end">0</text>
<text transform="translate(918.0 308.1) scale(1 1.12)" font-size="22" font-family="'Liberation Serif', serif" text-anchor="end">0.002</text>
<text transform="translate(918.0 250.9) scale(1 1.12)" font-size="22" font-family="'Liberation Serif', serif" text-anchor="end">0.004</text>
<text transform="translate(918.0 193.6) scale(1 1.12)" font-size="22" font-family="'Liberation Serif', serif" text-anchor="end">0.006</text>
<text transform="translate(918.0 136.4) scale(1 1.12)" font-size="22" font-family="'Liberation Serif', serif" text-anchor="end">0.008</text>
<text transform="translate(918.0 79.1) scale(1 1.12)" font-size="22" font-family="'Liberation Serif', serif" text-anchor="end">0.010</text>
<text transform="translate(918.0 21.9) scale(1 1.12)" font-size="22" font-family="'Liberation Serif', serif" text-anchor="end">0.012</text>
<text x="1216.5" y="567.0" font-size="22" font-family="'Liberation Serif', serif" font-style="italic" text-anchor="middle">r</text>
<rect x="834" y="569.7" width="667" height="86.89999999999998" fill="none" stroke="#000" stroke-width="1.9"/>
<g fill="none" stroke="#c8282d" stroke-width="1.6" transform="translate(869.8 591.4) scale(0.85) translate(-869.8 -591.4)"><rect x="866.2" y="587.9" width="7.1" height="7.1"/></g>
<text x="907.5" y="603.7" font-size="25" font-family="'Liberation Serif', serif"><tspan font-family="'Liberation Sans', sans-serif">ρ</tspan></text>
<g fill="none" stroke="#ff00ff" stroke-width="1.9" transform="translate(1028.1 591.4) scale(0.85) translate(-1028.1 -591.4)"><path d="M1028.1 587.6L1031.8 591.4L1028.1 595.1L1024.3 591.4Z"/></g>
<text x="1066.0" y="600.7" font-size="25" font-family="'Liberation Serif', serif"><tspan font-family="'Liberation Sans', sans-serif">ρ</tspan> <tspan font-size="29.5">+</tspan> <tspan font-style="italic">p</tspan><tspan font-style="italic" font-size="20.0" dy="9.0">r</tspan><tspan dy="-9.0"></tspan></text>
<g fill="none" stroke="#000" stroke-width="1.9" stroke-linecap="butt" transform="translate(1183.2 591.4) scale(0.85) translate(-1183.2 -591.4)"><path d="M1183.2 591.4L1183.2 586.7M1183.2 591.4L1187.7 589.9M1183.2 591.4L1178.7 589.9M1183.2 591.4L1186.0 595.2M1183.2 591.4L1180.4 595.2"/></g>
<text x="1220.4" y="600.7" font-size="25" font-family="'Liberation Serif', serif"><tspan font-family="'Liberation Sans', sans-serif">ρ</tspan> <tspan font-size="29.5">+</tspan> <tspan font-style="italic">p</tspan><tspan font-style="italic" font-size="20.0" dy="9.0">t</tspan><tspan dy="-9.0"></tspan></text>
<g fill="none" stroke="#ff0000" stroke-width="1.7" transform="translate(1327.5 591.4) scale(0.85) translate(-1327.5 -591.4)"><path d="M1323.1 591.4H1331.9M1327.5 587.0V595.8"/></g>
<text x="1364.8" y="600.7" font-size="25" font-family="'Liberation Serif', serif"><tspan font-family="'Liberation Sans', sans-serif">ρ</tspan> <tspan font-size="29.5">+</tspan> <tspan font-style="italic">p</tspan><tspan font-style="italic" font-size="20.0" dy="9.0">r</tspan><tspan dy="-9.0"> <tspan font-size="29.5">+</tspan> 2</tspan><tspan font-style="italic">p</tspan><tspan font-style="italic" font-size="20.0" dy="9.0">t</tspan><tspan dy="-9.0"></tspan></text>
<g fill="none" stroke="#0000ff" stroke-width="2.0" transform="translate(869.8 632.0) scale(0.85) translate(-869.8 -632.0)"><circle cx="869.8" cy="632.0" r="3.4"/></g>
<text x="907.5" y="641.3" font-size="25" font-family="'Liberation Serif', serif"><tspan font-family="'Liberation Sans', sans-serif">.ρ - </tspan>|<tspan font-style="italic">p</tspan><tspan font-style="italic" font-size="20.0" dy="9.0">r</tspan><tspan dy="-9.0">|</tspan></text>
<path d="M998.0 632.0h58" stroke="#00ff00" stroke-width="1.8"/>
<text x="1066.0" y="641.3" font-size="25" font-family="'Liberation Serif', serif"><tspan font-family="'Liberation Sans', sans-serif">ρ - </tspan>|<tspan font-style="italic">p</tspan><tspan font-style="italic" font-size="20.0" dy="9.0">t</tspan><tspan dy="-9.0">|</tspan></text>
<clipPath id="ci"><rect x="72.4" y="855.2" width="607.8000000000001" height="509.70000000000005"/></clipPath>
<g clip-path="url(#ci)">
<g fill="none" stroke="#c8282d" stroke-width="1.6">
<rect x="73.9" y="966.0" width="7.1" height="7.1"/>
<rect x="77.0" y="988.1" width="7.1" height="7.1"/>
<rect x="80.1" y="1007.9" width="7.1" height="7.1"/>
<rect x="83.2" y="1026.8" width="7.1" height="7.1"/>
<rect x="86.3" y="1044.8" width="7.1" height="7.1"/>
<rect x="92.5" y="1075.9" width="7.1" height="7.1"/>
<rect x="98.7" y="1104.4" width="7.1" height="7.1"/>
<rect x="104.9" y="1128.7" width="7.1" height="7.1"/>
<rect x="111.1" y="1150.3" width="7.1" height="7.1"/>
<rect x="117.3" y="1169.8" width="7.1" height="7.1"/>
<rect x="123.6" y="1187.2" width="7.1" height="7.1"/>
<rect x="129.8" y="1202.3" width="7.1" height="7.1"/>
<rect x="136.0" y="1215.2" width="7.1" height="7.1"/>
<rect x="148.4" y="1238.1" width="7.1" height="7.1"/>
<rect x="160.8" y="1255.4" width="7.1" height="7.1"/>
<rect x="173.3" y="1270.2" width="7.1" height="7.1"/>
<rect x="185.7" y="1281.4" width="7.1" height="7.1"/>
<rect x="198.1" y="1290.7" width="7.1" height="7.1"/>
<rect x="210.5" y="1298.7" width="7.1" height="7.1"/>
<rect x="223.0" y="1305.0" width="7.1" height="7.1"/>
<rect x="235.4" y="1310.3" width="7.1" height="7.1"/>
<rect x="247.8" y="1314.9" width="7.1" height="7.1"/>
<rect x="260.3" y="1319.0" width="7.1" height="7.1"/>
<rect x="272.7" y="1322.3" width="7.1" height="7.1"/>
<rect x="285.1" y="1325.2" width="7.1" height="7.1"/>
<rect x="297.5" y="1327.6" width="7.1" height="7.1"/>
<rect x="310.0" y="1329.8" width="7.1" height="7.1"/>
<rect x="322.4" y="1331.5" width="7.1" height="7.1"/>
<rect x="334.8" y="1332.8" width="7.1" height="7.1"/>
<rect x="347.2" y="1333.8" width="7.1" height="7.1"/>
<rect x="359.7" y="1334.7" width="7.1" height="7.1"/>
<rect x="372.1" y="1335.5" width="7.1" height="7.1"/>
<rect x="384.5" y="1336.2" width="7.1" height="7.1"/>
<rect x="397.0" y="1336.8" width="7.1" height="7.1"/>
<rect x="409.4" y="1337.4" width="7.1" height="7.1"/>
<rect x="421.8" y="1337.9" width="7.1" height="7.1"/>
<rect x="434.2" y="1338.5" width="7.1" height="7.1"/>
<rect x="446.7" y="1339.0" width="7.1" height="7.1"/>
<rect x="459.1" y="1339.5" width="7.1" height="7.1"/>
<rect x="471.5" y="1340.0" width="7.1" height="7.1"/>
<rect x="483.9" y="1340.4" width="7.1" height="7.1"/>
<rect x="496.4" y="1340.9" width="7.1" height="7.1"/>
<rect x="508.8" y="1341.4" width="7.1" height="7.1"/>
<rect x="521.2" y="1341.8" width="7.1" height="7.1"/>
<rect x="533.7" y="1342.2" width="7.1" height="7.1"/>
<rect x="546.1" y="1342.6" width="7.1" height="7.1"/>
<rect x="558.5" y="1343.0" width="7.1" height="7.1"/>
<rect x="570.9" y="1343.4" width="7.1" height="7.1"/>
<rect x="583.4" y="1343.7" width="7.1" height="7.1"/>
<rect x="595.8" y="1344.0" width="7.1" height="7.1"/>
<rect x="608.2" y="1344.3" width="7.1" height="7.1"/>
<rect x="620.6" y="1344.5" width="7.1" height="7.1"/>
<rect x="633.1" y="1344.8" width="7.1" height="7.1"/>
<rect x="645.5" y="1345.0" width="7.1" height="7.1"/>
<rect x="657.9" y="1345.2" width="7.1" height="7.1"/>
<rect x="670.4" y="1345.4" width="7.1" height="7.1"/>
</g>
<g fill="none" stroke="#ff00ff" stroke-width="1.9">
<path d="M77.4 854.2L81.2 858.0L77.4 861.7L73.7 858.0Z"/>
<path d="M83.6 896.9L87.4 900.7L83.6 904.4L79.9 900.7Z"/>
<path d="M89.8 937.7L93.6 941.5L89.8 945.2L86.1 941.5Z"/>
<path d="M96.0 974.7L99.8 978.5L96.0 982.2L92.3 978.5Z"/>
<path d="M102.3 1009.1L106.0 1012.9L102.3 1016.6L98.5 1012.9Z"/>
<path d="M108.5 1039.0L112.2 1042.8L108.5 1046.5L104.7 1042.8Z"/>
<path d="M114.7 1067.3L118.4 1071.1L114.7 1074.8L110.9 1071.1Z"/>
<path d="M120.9 1091.7L124.6 1095.4L120.9 1099.2L117.1 1095.4Z"/>
<path d="M127.1 1114.9L130.9 1118.6L127.1 1122.4L123.4 1118.6Z"/>
<path d="M133.3 1134.2L137.1 1137.9L133.3 1141.7L129.6 1137.9Z"/>
<path d="M139.5 1152.4L143.3 1156.1L139.5 1159.9L135.8 1156.1Z"/>
<path d="M152.0 1182.7L155.7 1186.4L152.0 1190.2L148.2 1186.4Z"/>
<path d="M164.4 1208.4L168.1 1212.1L164.4 1215.9L160.6 1212.1Z"/>
<path d="M176.8 1228.4L180.6 1232.1L176.8 1235.9L173.1 1232.1Z"/>
<path d="M189.2 1245.0L193.0 1248.7L189.2 1252.5L185.5 1248.7Z"/>
<path d="M201.7 1258.5L205.4 1262.3L201.7 1266.0L197.9 1262.3Z"/>
<path d="M214.1 1270.1L217.8 1273.8L214.1 1277.6L210.3 1273.8Z"/>
<path d="M226.5 1279.7L230.3 1283.5L226.5 1287.2L222.8 1283.5Z"/>
<path d="M239.0 1287.8L242.7 1291.6L239.0 1295.3L235.2 1291.6Z"/>
<path d="M251.4 1294.6L255.1 1298.3L251.4 1302.1L247.6 1298.3Z"/>
<path d="M263.8 1300.5L267.6 1304.3L263.8 1308.0L260.1 1304.3Z"/>
<path d="M276.2 1305.3L280.0 1309.1L276.2 1312.8L272.5 1309.1Z"/>
<path d="M288.7 1309.9L292.4 1313.6L288.7 1317.4L284.9 1313.6Z"/>
<path d="M301.1 1313.9L304.8 1317.6L301.1 1321.4L297.3 1317.6Z"/>
<path d="M313.5 1316.9L317.3 1320.7L313.5 1324.4L309.8 1320.7Z"/>
<path d="M325.9 1319.8L329.7 1323.5L325.9 1327.3L322.2 1323.5Z"/>
<path d="M338.4 1322.1L342.1 1325.8L338.4 1329.6L334.6 1325.8Z"/>
<path d="M350.8 1324.2L354.5 1328.0L350.8 1331.7L347.0 1328.0Z"/>
<path d="M363.2 1326.1L367.0 1329.9L363.2 1333.6L359.5 1329.9Z"/>
<path d="M375.6 1327.8L379.4 1331.5L375.6 1335.3L371.9 1331.5Z"/>
<path d="M388.1 1329.3L391.8 1333.0L388.1 1336.8L384.3 1333.0Z"/>
<path d="M400.5 1330.6L404.3 1334.3L400.5 1338.1L396.8 1334.3Z"/>
<path d="M412.9 1331.8L416.7 1335.5L412.9 1339.3L409.2 1335.5Z"/>
<path d="M425.4 1332.9L429.1 1336.7L425.4 1340.4L421.6 1336.7Z"/>
<path d="M437.8 1334.0L441.5 1337.7L437.8 1341.5L434.0 1337.7Z"/>
<path d="M450.2 1335.0L454.0 1338.7L450.2 1342.5L446.5 1338.7Z"/>
<path d="M462.6 1335.9L466.4 1339.7L462.6 1343.4L458.9 1339.7Z"/>
<path d="M475.1 1336.8L478.8 1340.6L475.1 1344.3L471.3 1340.6Z"/>
<path d="M487.5 1337.7L491.2 1341.4L487.5 1345.2L483.7 1341.4Z"/>
<path d="M499.9 1338.3L503.7 1342.1L499.9 1345.8L496.2 1342.1Z"/>
<path d="M512.3 1338.9L516.1 1342.7L512.3 1346.4L508.6 1342.7Z"/>
<path d="M524.8 1339.4L528.5 1343.2L524.8 1346.9L521.0 1343.2Z"/>
<path d="M537.2 1339.9L541.0 1343.7L537.2 1347.4L533.5 1343.7Z"/>
<path d="M549.6 1340.3L553.4 1344.1L549.6 1347.8L545.9 1344.1Z"/>
<path d="M562.1 1340.8L565.8 1344.5L562.1 1348.3L558.3 1344.5Z"/>
<path d="M574.5 1341.2L578.2 1344.9L574.5 1348.7L570.7 1344.9Z"/>
<path d="M586.9 1341.5L590.7 1345.3L586.9 1349.0L583.2 1345.3Z"/>
<path d="M599.3 1341.9L603.1 1345.6L599.3 1349.4L595.6 1345.6Z"/>
<path d="M611.8 1342.3L615.5 1346.0L611.8 1349.8L608.0 1346.0Z"/>
<path d="M624.2 1342.6L627.9 1346.3L624.2 1350.1L620.4 1346.3Z"/>
<path d="M636.6 1342.9L640.4 1346.7L636.6 1350.4L632.9 1346.7Z"/>
<path d="M649.0 1343.3L652.8 1347.0L649.0 1350.8L645.3 1347.0Z"/>
<path d="M661.5 1343.6L665.2 1347.3L661.5 1351.1L657.7 1347.3Z"/>
<path d="M673.9 1343.9L677.6 1347.6L673.9 1351.4L670.1 1347.6Z"/>
</g>
<g fill="none" stroke="#000" stroke-width="1.9" stroke-linecap="butt">
<path d="M77.4 1135.6L77.4 1130.9M77.4 1135.6L81.9 1134.2M77.4 1135.6L72.9 1134.2M77.4 1135.6L80.2 1139.4M77.4 1135.6L74.6 1139.4"/>
<path d="M80.5 1153.0L80.5 1148.3M80.5 1153.0L85.0 1151.6M80.5 1153.0L76.0 1151.6M80.5 1153.0L83.3 1156.9M80.5 1153.0L77.7 1156.9"/>
<path d="M83.6 1169.3L83.6 1164.6M83.6 1169.3L88.1 1167.9M83.6 1169.3L79.1 1167.9M83.6 1169.3L86.4 1173.1M83.6 1169.3L80.9 1173.1"/>
<path d="M86.7 1185.1L86.7 1180.4M86.7 1185.1L91.2 1183.6M86.7 1185.1L82.3 1183.6M86.7 1185.1L89.5 1188.9M86.7 1185.1L84.0 1188.9"/>
<path d="M89.8 1199.4L89.8 1194.7M89.8 1199.4L94.3 1197.9M89.8 1199.4L85.4 1197.9M89.8 1199.4L92.6 1203.2M89.8 1199.4L87.1 1203.2"/>
<path d="M92.9 1212.1L92.9 1207.4M92.9 1212.1L97.4 1210.6M92.9 1212.1L88.5 1210.6M92.9 1212.1L95.7 1215.9M92.9 1212.1L90.2 1215.9"/>
<path d="M96.0 1223.0L96.0 1218.3M96.0 1223.0L100.5 1221.6M96.0 1223.0L91.6 1221.6M96.0 1223.0L98.8 1226.8M96.0 1223.0L93.3 1226.8"/>
<path d="M99.1 1233.1L99.1 1228.4M99.1 1233.1L103.6 1231.6M99.1 1233.1L94.7 1231.6M99.1 1233.1L101.9 1236.9M99.1 1233.1L96.4 1236.9"/>
<path d="M102.3 1242.7L102.3 1238.0M102.3 1242.7L106.7 1241.2M102.3 1242.7L97.8 1241.2M102.3 1242.7L105.0 1246.5M102.3 1242.7L99.5 1246.5"/>
<path d="M108.5 1260.5L108.5 1255.8M108.5 1260.5L112.9 1259.1M108.5 1260.5L104.0 1259.1M108.5 1260.5L111.2 1264.3M108.5 1260.5L105.7 1264.3"/>
<path d="M114.7 1274.6L114.7 1269.9M114.7 1274.6L119.2 1273.1M114.7 1274.6L110.2 1273.1M114.7 1274.6L117.4 1278.4M114.7 1274.6L111.9 1278.4"/>
<path d="M120.9 1286.3L120.9 1281.6M120.9 1286.3L125.4 1284.9M120.9 1286.3L116.4 1284.9M120.9 1286.3L123.7 1290.1M120.9 1286.3L118.1 1290.1"/>
<path d="M127.1 1295.8L127.1 1291.1M127.1 1295.8L131.6 1294.4M127.1 1295.8L122.6 1294.4M127.1 1295.8L129.9 1299.6M127.1 1295.8L124.3 1299.6"/>
<path d="M133.3 1303.6L133.3 1298.9M133.3 1303.6L137.8 1302.1M133.3 1303.6L128.9 1302.1M133.3 1303.6L136.1 1307.4M133.3 1303.6L130.6 1307.4"/>
<path d="M139.5 1310.2L139.5 1305.5M139.5 1310.2L144.0 1308.7M139.5 1310.2L135.1 1308.7M139.5 1310.2L142.3 1314.0M139.5 1310.2L136.8 1314.0"/>
<path d="M152.0 1321.7L152.0 1317.0M152.0 1321.7L156.4 1320.3M152.0 1321.7L147.5 1320.3M152.0 1321.7L154.7 1325.5M152.0 1321.7L149.2 1325.5"/>
<path d="M164.4 1329.8L164.4 1325.1M164.4 1329.8L168.9 1328.3M164.4 1329.8L159.9 1328.3M164.4 1329.8L167.2 1333.6M164.4 1329.8L161.6 1333.6"/>
<path d="M176.8 1336.0L176.8 1331.3M176.8 1336.0L181.3 1334.5M176.8 1336.0L172.3 1334.5M176.8 1336.0L179.6 1339.8M176.8 1336.0L174.1 1339.8"/>
<path d="M189.2 1340.4L189.2 1335.7M189.2 1340.4L193.7 1339.0M189.2 1340.4L184.8 1339.0M189.2 1340.4L192.0 1344.2M189.2 1340.4L186.5 1344.2"/>
<path d="M201.7 1343.3L201.7 1338.6M201.7 1343.3L206.1 1341.9M201.7 1343.3L197.2 1341.9M201.7 1343.3L204.4 1347.1M201.7 1343.3L198.9 1347.1"/>
<path d="M214.1 1345.4L214.1 1340.7M214.1 1345.4L218.6 1343.9M214.1 1345.4L209.6 1343.9M214.1 1345.4L216.9 1349.2M214.1 1345.4L211.3 1349.2"/>
<path d="M226.5 1346.9L226.5 1342.2M226.5 1346.9L231.0 1345.5M226.5 1346.9L222.1 1345.5M226.5 1346.9L229.3 1350.7M226.5 1346.9L223.8 1350.7"/>
<path d="M239.0 1348.4L239.0 1343.7M239.0 1348.4L243.4 1347.0M239.0 1348.4L234.5 1347.0M239.0 1348.4L241.7 1352.2M239.0 1348.4L236.2 1352.2"/>
<path d="M251.4 1349.5L251.4 1344.8M251.4 1349.5L255.8 1348.1M251.4 1349.5L246.9 1348.1M251.4 1349.5L254.1 1353.3M251.4 1349.5L248.6 1353.3"/>
<path d="M263.8 1350.5L263.8 1345.8M263.8 1350.5L268.3 1349.0M263.8 1350.5L259.3 1349.0M263.8 1350.5L266.6 1354.3M263.8 1350.5L261.0 1354.3"/>
<path d="M276.2 1351.1L276.2 1346.4M276.2 1351.1L280.7 1349.7M276.2 1351.1L271.8 1349.7M276.2 1351.1L279.0 1354.9M276.2 1351.1L273.5 1354.9"/>
<path d="M288.7 1351.6L288.7 1346.9M288.7 1351.6L293.1 1350.1M288.7 1351.6L284.2 1350.1M288.7 1351.6L291.4 1355.4M288.7 1351.6L285.9 1355.4"/>
<path d="M301.1 1352.0L301.1 1347.3M301.1 1352.0L305.6 1350.5M301.1 1352.0L296.6 1350.5M301.1 1352.0L303.9 1355.8M301.1 1352.0L298.3 1355.8"/>
<path d="M313.5 1352.3L313.5 1347.6M313.5 1352.3L318.0 1350.8M313.5 1352.3L309.0 1350.8M313.5 1352.3L316.3 1356.1M313.5 1352.3L310.8 1356.1"/>
<path d="M325.9 1352.5L325.9 1347.8M325.9 1352.5L330.4 1351.0M325.9 1352.5L321.5 1351.0M325.9 1352.5L328.7 1356.3M325.9 1352.5L323.2 1356.3"/>
<path d="M338.4 1352.7L338.4 1348.0M338.4 1352.7L342.8 1351.2M338.4 1352.7L333.9 1351.2M338.4 1352.7L341.1 1356.5M338.4 1352.7L335.6 1356.5"/>
<path d="M350.8 1352.8L350.8 1348.1M350.8 1352.8L355.3 1351.4M350.8 1352.8L346.3 1351.4M350.8 1352.8L353.6 1356.6M350.8 1352.8L348.0 1356.6"/>
<path d="M363.2 1353.0L363.2 1348.3M363.2 1353.0L367.7 1351.5M363.2 1353.0L358.8 1351.5M363.2 1353.0L366.0 1356.8M363.2 1353.0L360.5 1356.8"/>
<path d="M375.6 1353.1L375.6 1348.4M375.6 1353.1L380.1 1351.6M375.6 1353.1L371.2 1351.6M375.6 1353.1L378.4 1356.9M375.6 1353.1L372.9 1356.9"/>
<path d="M388.1 1353.2L388.1 1348.5M388.1 1353.2L392.5 1351.7M388.1 1353.2L383.6 1351.7M388.1 1353.2L390.8 1357.0M388.1 1353.2L385.3 1357.0"/>
<path d="M400.5 1353.2L400.5 1348.5M400.5 1353.2L405.0 1351.8M400.5 1353.2L396.0 1351.8M400.5 1353.2L403.3 1357.0M400.5 1353.2L397.7 1357.0"/>
<path d="M412.9 1353.3L412.9 1348.6M412.9 1353.3L417.4 1351.8M412.9 1353.3L408.5 1351.8M412.9 1353.3L415.7 1357.1M412.9 1353.3L410.2 1357.1"/>
<path d="M425.4 1353.3L425.4 1348.6M425.4 1353.3L429.8 1351.9M425.4 1353.3L420.9 1351.9M425.4 1353.3L428.1 1357.1M425.4 1353.3L422.6 1357.1"/>
<path d="M437.8 1353.3L437.8 1348.6M437.8 1353.3L442.3 1351.9M437.8 1353.3L433.3 1351.9M437.8 1353.3L440.5 1357.1M437.8 1353.3L435.0 1357.1"/>
<path d="M450.2 1353.4L450.2 1348.7M450.2 1353.4L454.7 1351.9M450.2 1353.4L445.7 1351.9M450.2 1353.4L453.0 1357.2M450.2 1353.4L447.4 1357.2"/>
<path d="M462.6 1353.4L462.6 1348.7M462.6 1353.4L467.1 1352.0M462.6 1353.4L458.2 1352.0M462.6 1353.4L465.4 1357.2M462.6 1353.4L459.9 1357.2"/>
<path d="M475.1 1353.5L475.1 1348.8M475.1 1353.5L479.5 1352.0M475.1 1353.5L470.6 1352.0M475.1 1353.5L477.8 1357.3M475.1 1353.5L472.3 1357.3"/>
<path d="M487.5 1353.5L487.5 1348.8M487.5 1353.5L492.0 1352.0M487.5 1353.5L483.0 1352.0M487.5 1353.5L490.3 1357.3M487.5 1353.5L484.7 1357.3"/>
<path d="M499.9 1353.5L499.9 1348.8M499.9 1353.5L504.4 1352.1M499.9 1353.5L495.5 1352.1M499.9 1353.5L502.7 1357.3M499.9 1353.5L497.2 1357.3"/>
<path d="M512.3 1353.6L512.3 1348.9M512.3 1353.6L516.8 1352.1M512.3 1353.6L507.9 1352.1M512.3 1353.6L515.1 1357.4M512.3 1353.6L509.6 1357.4"/>
<path d="M524.8 1353.6L524.8 1348.9M524.8 1353.6L529.2 1352.1M524.8 1353.6L520.3 1352.1M524.8 1353.6L527.5 1357.4M524.8 1353.6L522.0 1357.4"/>
<path d="M537.2 1353.6L537.2 1348.9M537.2 1353.6L541.7 1352.1M537.2 1353.6L532.7 1352.1M537.2 1353.6L540.0 1357.4M537.2 1353.6L534.4 1357.4"/>
<path d="M549.6 1353.6L549.6 1348.9M549.6 1353.6L554.1 1352.1M549.6 1353.6L545.2 1352.1M549.6 1353.6L552.4 1357.4M549.6 1353.6L546.9 1357.4"/>
<path d="M562.1 1353.6L562.1 1348.9M562.1 1353.6L566.5 1352.1M562.1 1353.6L557.6 1352.1M562.1 1353.6L564.8 1357.4M562.1 1353.6L559.3 1357.4"/>
<path d="M574.5 1353.6L574.5 1348.9M574.5 1353.6L579.0 1352.1M574.5 1353.6L570.0 1352.1M574.5 1353.6L577.2 1357.4M574.5 1353.6L571.7 1357.4"/>
<path d="M586.9 1353.6L586.9 1348.9M586.9 1353.6L591.4 1352.1M586.9 1353.6L582.4 1352.1M586.9 1353.6L589.7 1357.4M586.9 1353.6L584.1 1357.4"/>
<path d="M599.3 1353.6L599.3 1348.9M599.3 1353.6L603.8 1352.1M599.3 1353.6L594.9 1352.1M599.3 1353.6L602.1 1357.4M599.3 1353.6L596.6 1357.4"/>
<path d="M611.8 1353.6L611.8 1348.9M611.8 1353.6L616.2 1352.1M611.8 1353.6L607.3 1352.1M611.8 1353.6L614.5 1357.4M611.8 1353.6L609.0 1357.4"/>
<path d="M624.2 1353.6L624.2 1348.9M624.2 1353.6L628.7 1352.1M624.2 1353.6L619.7 1352.1M624.2 1353.6L627.0 1357.4M624.2 1353.6L621.4 1357.4"/>
<path d="M636.6 1353.6L636.6 1348.9M636.6 1353.6L641.1 1352.1M636.6 1353.6L632.1 1352.1M636.6 1353.6L639.4 1357.4M636.6 1353.6L633.9 1357.4"/>
<path d="M649.0 1353.6L649.0 1348.9M649.0 1353.6L653.5 1352.1M649.0 1353.6L644.6 1352.1M649.0 1353.6L651.8 1357.4M649.0 1353.6L646.3 1357.4"/>
<path d="M661.5 1353.6L661.5 1348.9M661.5 1353.6L665.9 1352.1M661.5 1353.6L657.0 1352.1M661.5 1353.6L664.2 1357.4M661.5 1353.6L658.7 1357.4"/>
<path d="M673.9 1353.6L673.9 1348.9M673.9 1353.6L678.4 1352.1M673.9 1353.6L669.4 1352.1M673.9 1353.6L676.7 1357.4M673.9 1353.6L671.1 1357.4"/>
</g>
<g fill="none" stroke="#ff0000" stroke-width="1.7">
<path d="M73.0 1190.1H81.8M77.4 1185.7V1194.5"/>
<path d="M74.6 1196.1H83.4M79.0 1191.7V1200.5"/>
<path d="M76.1 1202.5H84.9M80.5 1198.1V1206.9"/>
<path d="M77.7 1209.3H86.5M82.1 1204.9V1213.7"/>
<path d="M79.2 1216.4H88.0M83.6 1212.0V1220.8"/>
<path d="M82.3 1230.9H91.1M86.7 1226.5V1235.3"/>
<path d="M85.4 1243.4H94.2M89.8 1239.0V1247.8"/>
<path d="M88.5 1255.7H97.3M92.9 1251.3V1260.1"/>
<path d="M91.6 1265.6H100.4M96.0 1261.2V1270.0"/>
<path d="M94.7 1273.8H103.5M99.1 1269.4V1278.2"/>
<path d="M97.9 1282.3H106.7M102.3 1277.9V1286.7"/>
<path d="M104.1 1299.3H112.9M108.5 1294.9V1303.7"/>
<path d="M110.3 1312.6H119.1M114.7 1308.2V1317.0"/>
<path d="M116.5 1321.4H125.3M120.9 1317.0V1325.8"/>
<path d="M122.7 1328.7H131.5M127.1 1324.3V1333.1"/>
<path d="M128.9 1333.3H137.7M133.3 1328.9V1337.7"/>
<path d="M135.1 1338.9H143.9M139.5 1334.5V1343.3"/>
<path d="M147.6 1346.7H156.4M152.0 1342.3V1351.1"/>
<path d="M160.0 1353.9H168.8M164.4 1349.5V1358.3"/>
<path d="M172.4 1356.7H181.2M176.8 1352.3V1361.1"/>
<path d="M184.8 1359.7H193.6M189.2 1355.3V1364.1"/>
<path d="M197.3 1360.4H206.1M201.7 1356.0V1364.8"/>
<path d="M209.7 1360.0H218.5M214.1 1355.6V1364.4"/>
<path d="M222.1 1360.1H230.9M226.5 1355.7V1364.5"/>
<path d="M234.6 1360.8H243.4M239.0 1356.4V1365.2"/>
<path d="M247.0 1360.5H255.8M251.4 1356.1V1364.9"/>
<path d="M259.4 1360.1H268.2M263.8 1355.7V1364.5"/>
<path d="M271.8 1359.5H280.6M276.2 1355.1V1363.9"/>
<path d="M284.3 1359.4H293.1M288.7 1355.0V1363.8"/>
<path d="M296.7 1359.2H305.5M301.1 1354.8V1363.6"/>
<path d="M309.1 1358.5H317.9M313.5 1354.1V1362.9"/>
<path d="M321.5 1358.3H330.3M325.9 1353.9V1362.7"/>
<path d="M334.0 1358.5H342.8M338.4 1354.1V1362.9"/>
<path d="M346.4 1358.9H355.2M350.8 1354.5V1363.3"/>
<path d="M358.8 1359.3H367.6M363.2 1354.9V1363.7"/>
<path d="M371.2 1359.6H380.0M375.6 1355.2V1364.0"/>
<path d="M383.7 1359.8H392.5M388.1 1355.4V1364.2"/>
<path d="M396.1 1360.0H404.9M400.5 1355.6V1364.4"/>
<path d="M408.5 1360.2H417.3M412.9 1355.8V1364.6"/>
<path d="M421.0 1360.3H429.8M425.4 1355.9V1364.7"/>
<path d="M433.4 1360.4H442.2M437.8 1356.0V1364.8"/>
<path d="M445.8 1360.4H454.6M450.2 1356.0V1364.8"/>
<path d="M458.2 1360.4H467.0M462.6 1356.0V1364.8"/>
<path d="M470.7 1360.4H479.5M475.1 1356.0V1364.8"/>
<path d="M483.1 1360.4H491.9M487.5 1356.0V1364.8"/>
<path d="M495.5 1360.2H504.3M499.9 1355.8V1364.6"/>
<path d="M507.9 1360.0H516.7M512.3 1355.6V1364.4"/>
<path d="M520.4 1359.6H529.2M524.8 1355.2V1364.0"/>
<path d="M532.8 1359.3H541.6M537.2 1354.9V1363.7"/>
<path d="M545.2 1358.9H554.0M549.6 1354.5V1363.3"/>
<path d="M557.7 1358.6H566.5M562.1 1354.2V1363.0"/>
<path d="M570.1 1358.3H578.9M574.5 1353.9V1362.7"/>
<path d="M582.5 1358.0H591.3M586.9 1353.6V1362.4"/>
<path d="M594.9 1357.7H603.7M599.3 1353.3V1362.1"/>
<path d="M607.4 1357.5H616.2M611.8 1353.1V1361.9"/>
<path d="M619.8 1357.4H628.6M624.2 1353.0V1361.8"/>
<path d="M632.2 1357.2H641.0M636.6 1352.8V1361.6"/>
<path d="M644.6 1357.1H653.4M649.0 1352.7V1361.5"/>
<path d="M657.1 1357.0H665.9M661.5 1352.6V1361.4"/>
<path d="M669.5 1357.0H678.3M673.9 1352.6V1361.4"/>
</g>
<g fill="none" stroke="#0000ff" stroke-width="2.0">
<circle cx="77.4" cy="1081.1" r="3.4"/>
<circle cx="80.5" cy="1103.6" r="3.4"/>
<circle cx="83.6" cy="1122.2" r="3.4"/>
<circle cx="86.7" cy="1139.3" r="3.4"/>
<circle cx="89.8" cy="1155.3" r="3.4"/>
<circle cx="96.0" cy="1180.4" r="3.4"/>
<circle cx="102.3" cy="1203.0" r="3.4"/>
<circle cx="108.5" cy="1221.8" r="3.4"/>
<circle cx="114.7" cy="1236.6" r="3.4"/>
<circle cx="120.9" cy="1251.3" r="3.4"/>
<circle cx="127.1" cy="1263.0" r="3.4"/>
<circle cx="133.3" cy="1273.8" r="3.4"/>
<circle cx="139.5" cy="1281.4" r="3.4"/>
<circle cx="152.0" cy="1296.8" r="3.4"/>
<circle cx="164.4" cy="1305.7" r="3.4"/>
<circle cx="176.8" cy="1315.3" r="3.4"/>
<circle cx="189.2" cy="1321.2" r="3.4"/>
<circle cx="201.7" cy="1326.3" r="3.4"/>
<circle cx="214.1" cy="1330.7" r="3.4"/>
<circle cx="226.5" cy="1333.7" r="3.4"/>
<circle cx="239.0" cy="1336.1" r="3.4"/>
<circle cx="251.4" cy="1338.5" r="3.4"/>
<circle cx="263.8" cy="1340.8" r="3.4"/>
<circle cx="276.2" cy="1342.7" r="3.4"/>
<circle cx="288.7" cy="1343.8" r="3.4"/>
<circle cx="301.1" cy="1344.7" r="3.4"/>
<circle cx="313.5" cy="1346.0" r="3.4"/>
<circle cx="325.9" cy="1346.7" r="3.4"/>
<circle cx="338.4" cy="1346.8" r="3.4"/>
<circle cx="350.8" cy="1346.8" r="3.4"/>
<circle cx="363.2" cy="1346.7" r="3.4"/>
<circle cx="375.6" cy="1346.6" r="3.4"/>
<circle cx="388.1" cy="1346.5" r="3.4"/>
<circle cx="400.5" cy="1346.4" r="3.4"/>
<circle cx="412.9" cy="1346.4" r="3.4"/>
<circle cx="425.4" cy="1346.3" r="3.4"/>
<circle cx="437.8" cy="1346.3" r="3.4"/>
<circle cx="450.2" cy="1346.4" r="3.4"/>
<circle cx="462.6" cy="1346.4" r="3.4"/>
<circle cx="475.1" cy="1346.5" r="3.4"/>
<circle cx="487.5" cy="1346.6" r="3.4"/>
<circle cx="499.9" cy="1346.8" r="3.4"/>
<circle cx="512.3" cy="1347.1" r="3.4"/>
<circle cx="524.8" cy="1347.5" r="3.4"/>
<circle cx="537.2" cy="1347.9" r="3.4"/>
<circle cx="549.6" cy="1348.3" r="3.4"/>
<circle cx="562.1" cy="1348.6" r="3.4"/>
<circle cx="574.5" cy="1348.9" r="3.4"/>
<circle cx="586.9" cy="1349.2" r="3.4"/>
<circle cx="599.3" cy="1349.5" r="3.4"/>
<circle cx="611.8" cy="1349.7" r="3.4"/>
<circle cx="624.2" cy="1349.8" r="3.4"/>
<circle cx="636.6" cy="1350.0" r="3.4"/>
<circle cx="649.0" cy="1350.1" r="3.4"/>
<circle cx="661.5" cy="1350.2" r="3.4"/>
<circle cx="673.9" cy="1350.2" r="3.4"/>
</g>
<path d="M77.4 1135.6L78.9 1144.1L80.4 1152.4L81.9 1160.4L83.4 1168.1L84.9 1175.7L86.4 1183.3L87.9 1190.6L89.4 1197.3L90.9 1203.7L92.3 1209.8L93.8 1215.5L95.3 1220.7L96.8 1225.6L98.3 1230.5L99.8 1235.2L101.3 1239.8L102.8 1244.4L104.3 1248.9L105.8 1253.4L107.3 1257.5L108.8 1261.3L110.3 1265.0L111.8 1268.4L113.3 1271.7L114.8 1274.8L116.3 1277.8L117.8 1280.7L119.3 1283.5L120.8 1286.1L122.2 1288.6L123.7 1290.9L125.2 1293.2L126.7 1295.3L128.2 1297.4L129.7 1299.3L131.2 1301.1L132.7 1302.9L134.2 1304.6L135.7 1306.2L137.2 1307.8L138.7 1309.3L140.2 1310.8L141.7 1312.3L143.2 1313.7L144.7 1315.2L146.2 1316.6L147.7 1318.0L149.2 1319.4L150.7 1320.7L152.1 1321.9L153.6 1323.0L155.1 1324.1L156.6 1325.1L158.1 1326.1L159.6 1327.0L161.1 1327.9L162.6 1328.8L164.1 1329.6L165.6 1330.5L167.1 1331.3L168.6 1332.1L170.1 1332.8L171.6 1333.6L173.1 1334.3L174.6 1335.0L176.1 1335.7L177.6 1336.3L179.1 1336.9L180.6 1337.5L182.0 1338.0L183.5 1338.6L185.0 1339.1L186.5 1339.6L188.0 1340.1L189.5 1340.5L191.0 1340.9L192.5 1341.3L194.0 1341.7L195.5 1342.0L197.0 1342.4L198.5 1342.7L200.0 1343.0L201.5 1343.3L203.0 1343.6L204.5 1343.8L206.0 1344.1L207.5 1344.4L209.0 1344.6L210.5 1344.8L211.9 1345.1L213.4 1345.3L214.9 1345.5L216.4 1345.7L217.9 1345.9L219.4 1346.1L220.9 1346.3L222.4 1346.4L223.9 1346.6L225.4 1346.8L226.9 1347.0L228.4 1347.1L229.9 1347.3L231.4 1347.5L232.9 1347.7L234.4 1347.9L235.9 1348.1L237.4 1348.3L238.9 1348.4L240.4 1348.6L241.8 1348.7L243.3 1348.9L244.8 1349.0L246.3 1349.1L247.8 1349.2L249.3 1349.4L250.8 1349.5L252.3 1349.6L253.8 1349.7L255.3 1349.8L256.8 1349.9L258.3 1350.0L259.8 1350.2L261.3 1350.3L262.8 1350.4L264.3 1350.5L265.8 1350.6L267.3 1350.7L268.8 1350.8L270.3 1350.8L271.7 1350.9L273.2 1351.0L274.7 1351.0L276.2 1351.1L277.7 1351.2L279.2 1351.2L280.7 1351.3L282.2 1351.3L283.7 1351.4L285.2 1351.5L286.7 1351.5L288.2 1351.6L289.7 1351.6L291.2 1351.7L292.7 1351.7L294.2 1351.8L295.7 1351.8L297.2 1351.9L298.7 1351.9L300.2 1351.9L301.6 1352.0L303.1 1352.0L304.6 1352.1L306.1 1352.1L307.6 1352.1L309.1 1352.2L310.6 1352.2L312.1 1352.2L313.6 1352.3L315.1 1352.3L316.6 1352.3L318.1 1352.3L319.6 1352.4L321.1 1352.4L322.6 1352.4L324.1 1352.4L325.6 1352.5L327.1 1352.5L328.6 1352.5L330.1 1352.5L331.5 1352.6L333.0 1352.6L334.5 1352.6L336.0 1352.6L337.5 1352.7L339.0 1352.7L340.5 1352.7L342.0 1352.7L343.5 1352.8L345.0 1352.8L346.5 1352.8L348.0 1352.8L349.5 1352.8L351.0 1352.8L352.5 1352.9L354.0 1352.9L355.5 1352.9L357.0 1352.9L358.5 1352.9L360.0 1352.9L361.4 1353.0L362.9 1353.0L364.4 1353.0L365.9 1353.0L367.4 1353.0L368.9 1353.0L370.4 1353.0L371.9 1353.1L373.4 1353.1L374.9 1353.1L376.4 1353.1L377.9 1353.1L379.4 1353.1L380.9 1353.1L382.4 1353.1L383.9 1353.1L385.4 1353.1L386.9 1353.1L388.4 1353.2L389.9 1353.2L391.3 1353.2L392.8 1353.2L394.3 1353.2L395.8 1353.2L397.3 1353.2L398.8 1353.2L400.3 1353.2L401.8 1353.2L403.3 1353.2L404.8 1353.2L406.3 1353.2L407.8 1353.2L409.3 1353.2L410.8 1353.3L412.3 1353.3L413.8 1353.3L415.3 1353.3L416.8 1353.3L418.3 1353.3L419.8 1353.3L421.2 1353.3L422.7 1353.3L424.2 1353.3L425.7 1353.3L427.2 1353.3L428.7 1353.3L430.2 1353.3L431.7 1353.3L433.2 1353.3L434.7 1353.3L436.2 1353.3L437.7 1353.3L439.2 1353.3L440.7 1353.4L442.2 1353.4L443.7 1353.4L445.2 1353.4L446.7 1353.4L448.2 1353.4L449.7 1353.4L451.1 1353.4L452.6 1353.4L454.1 1353.4L455.6 1353.4L457.1 1353.4L458.6 1353.4L460.1 1353.4L461.6 1353.4L463.1 1353.4L464.6 1353.4L466.1 1353.4L467.6 1353.4L469.1 1353.4L470.6 1353.4L472.1 1353.4L473.6 1353.5L475.1 1353.5L476.6 1353.5L478.1 1353.5L479.6 1353.5L481.0 1353.5L482.5 1353.5L484.0 1353.5L485.5 1353.5L487.0 1353.5L488.5 1353.5L490.0 1353.5L491.5 1353.5L493.0 1353.5L494.5 1353.5L496.0 1353.5L497.5 1353.5L499.0 1353.5L500.5 1353.5L502.0 1353.5L503.5 1353.5L505.0 1353.5L506.5 1353.5L508.0 1353.5L509.5 1353.5L510.9 1353.5L512.4 1353.6L513.9 1353.6L515.4 1353.6L516.9 1353.6L518.4 1353.6L519.9 1353.6L521.4 1353.6L522.9 1353.6L524.4 1353.6L525.9 1353.6L527.4 1353.6L528.9 1353.6L530.4 1353.6L531.9 1353.6L533.4 1353.6L534.9 1353.6L536.4 1353.6L537.9 1353.6L539.4 1353.6L540.8 1353.6L542.3 1353.6L543.8 1353.6L545.3 1353.6L546.8 1353.6L548.3 1353.6L549.8 1353.6L551.3 1353.6L552.8 1353.6L554.3 1353.6L555.8 1353.6L557.3 1353.6L558.8 1353.6L560.3 1353.6L561.8 1353.6L563.3 1353.6L564.8 1353.6L566.3 1353.6L567.8 1353.6L569.3 1353.6L570.7 1353.6L572.2 1353.6L573.7 1353.6L575.2 1353.6L576.7 1353.6L578.2 1353.6L579.7 1353.6L581.2 1353.6L582.7 1353.6L584.2 1353.6L585.7 1353.6L587.2 1353.6L588.7 1353.6L590.2 1353.6L591.7 1353.6L593.2 1353.6L594.7 1353.6L596.2 1353.6L597.7 1353.6L599.2 1353.6L600.6 1353.6L602.1 1353.6L603.6 1353.6L605.1 1353.6L606.6 1353.6L608.1 1353.6L609.6 1353.6L611.1 1353.6L612.6 1353.6L614.1 1353.6L615.6 1353.6L617.1 1353.6L618.6 1353.6L620.1 1353.6L621.6 1353.6L623.1 1353.6L624.6 1353.6L626.1 1353.6L627.6 1353.6L629.1 1353.6L630.5 1353.6L632.0 1353.6L633.5 1353.6L635.0 1353.6L636.5 1353.6L638.0 1353.6L639.5 1353.6L641.0 1353.6L642.5 1353.6L644.0 1353.6L645.5 1353.6L647.0 1353.6L648.5 1353.6L650.0 1353.6L651.5 1353.6L653.0 1353.6L654.5 1353.6L656.0 1353.6L657.5 1353.6L659.0 1353.6L660.4 1353.6L661.9 1353.6L663.4 1353.6L664.9 1353.6L666.4 1353.6L667.9 1353.6L669.4 1353.6L670.9 1353.6L672.4 1353.6L673.9 1353.6" fill="none" stroke="#00ff00" stroke-width="2.5" stroke-linejoin="round"/>
</g>
<rect x="72.4" y="855.2" width="607.8000000000001" height="509.70000000000005" fill="none" stroke="#000" stroke-width="1.9"/>
<path d="M77.4 1364.9v9.5M196.7 1364.9v9.5M316.0 1364.9v9.5M435.3 1364.9v9.5M554.6 1364.9v9.5M673.9 1364.9v9.5M137.1 1364.9v4.8M256.4 1364.9v4.8M375.6 1364.9v4.8M495.0 1364.9v4.8M614.2 1364.9v4.8M72.4 1352.3h-9.5M72.4 1300.4h-9.5M72.4 1248.5h-9.5M72.4 1196.6h-9.5M72.4 1144.7h-9.5M72.4 1092.8h-9.5M72.4 1040.9h-9.5M72.4 989.0h-9.5M72.4 937.1h-9.5M72.4 885.2h-9.5M72.4 1326.3h-4.8M72.4 1274.5h-4.8M72.4 1222.5h-4.8M72.4 1170.7h-4.8M72.4 1118.8h-4.8M72.4 1066.8h-4.8M72.4 1014.9h-4.8M72.4 963.0h-4.8M72.4 911.1h-4.8" stroke="#000" stroke-width="1.6" fill="none"/>
<text transform="translate(77.4 1397.9) scale(1 1.12)" font-size="22" font-family="'Liberation Serif', serif" text-anchor="middle">1</text>
<text transform="translate(196.7 1397.9) scale(1 1.12)" font-size="22" font-family="'Liberation Serif', serif" text-anchor="middle">2</text>
<text transform="translate(316.0 1397.9) scale(1 1.12)" font-size="22" font-family="'Liberation Serif', serif" text-anchor="middle">3</text>
<text transform="translate(435.3 1397.9) scale(1 1.12)" font-size="22" font-family="'Liberation Serif', serif" text-anchor="middle">4</text>
<text transform="translate(554.6 1397.9) scale(1 1.12)" font-size="22" font-family="'Liberation Serif', serif" text-anchor="middle">5</text>
<text transform="translate(673.9 1397.9) scale(1 1.12)" font-size="22" font-family="'Liberation Serif', serif" text-anchor="middle">6</text>
<text transform="translate(57.7 1361.4) scale(1 1.12)" font-size="22" font-family="'Liberation Serif', serif" text-anchor="end">0</text>
<text transform="translate(57.7 1309.5) scale(1 1.12)" font-size="22" font-family="'Liberation Serif', serif" text-anchor="end">0.2</text>
<text transform="translate(57.7 1257.6) scale(1 1.12)" font-size="22" font-family="'Liberation Serif', serif" text-anchor="end">0.4</text>
<text transform="translate(57.7 1205.7) scale(1 1.12)" font-size="22" font-family="'Liberation Serif', serif" text-anchor="end">0.6</text>
<text transform="translate(57.7 1153.8) scale(1 1.12)" font-size="22" font-family="'Liberation Serif', serif" text-anchor="end">0.8</text>
<text transform="translate(57.7 1101.9) scale(1 1.12)" font-size="22" font-family="'Liberation Serif', serif" text-anchor="end">1</text>
<text transform="translate(57.7 1050.0) scale(1 1.12)" font-size="22" font-family="'Liberation Serif', serif" text-anchor="end">1.2</text>
<text transform="translate(57.7 998.1) scale(1 1.12)" font-size="22" font-family="'Liberation Serif', serif" text-anchor="end">1.4</text>
<text transform="translate(57.7 946.2) scale(1 1.12)" font-size="22" font-family="'Liberation Serif', serif" text-anchor="end">1.6</text>
<text transform="translate(57.7 894.3) scale(1 1.12)" font-size="22" font-family="'Liberation Serif', serif" text-anchor="end">1.8</text>
<text x="376.5" y="1420.0" font-size="22" font-family="'Liberation Serif', serif" font-style="italic" text-anchor="middle">r</text>
<rect x="83.5" y="1422.5" width="525.0" height="87.09999999999991" fill="none" stroke="#000" stroke-width="1.9"/>
<g fill="none" stroke="#c8282d" stroke-width="1.6" transform="translate(117.9 1443.8) scale(0.85) translate(-117.9 -1443.8)"><rect x="114.4" y="1440.2" width="7.1" height="7.1"/></g>
<text x="155.7" y="1456.1" font-size="25" font-family="'Liberation Serif', serif"><tspan font-family="'Liberation Sans', sans-serif">ρ</tspan></text>
<g fill="none" stroke="#ff00ff" stroke-width="1.9" transform="translate(332.5 1443.8) scale(0.85) translate(-332.5 -1443.8)"><path d="M332.5 1440.0L336.2 1443.8L332.5 1447.5L328.8 1443.8Z"/></g>
<text x="370.3" y="1453.1" font-size="25" font-family="'Liberation Serif', serif"><tspan font-family="'Liberation Sans', sans-serif">ρ</tspan> <tspan font-size="29.5">+</tspan> <tspan font-style="italic">p</tspan><tspan font-style="italic" font-size="20.0" dy="9.0">r</tspan><tspan dy="-9.0"></tspan></text>
<g fill="none" stroke="#000" stroke-width="1.9" stroke-linecap="butt" transform="translate(492.0 1443.8) scale(0.85) translate(-492.0 -1443.8)"><path d="M492.0 1443.8L492.0 1439.1M492.0 1443.8L496.5 1442.3M492.0 1443.8L487.5 1442.3M492.0 1443.8L494.8 1447.6M492.0 1443.8L489.2 1447.6"/></g>
<text x="528.3" y="1453.1" font-size="25" font-family="'Liberation Serif', serif"><tspan font-family="'Liberation Sans', sans-serif">ρ</tspan> <tspan font-size="29.5">+</tspan> <tspan font-style="italic">p</tspan><tspan font-style="italic" font-size="20.0" dy="9.0">t</tspan><tspan dy="-9.0"></tspan></text>
<g fill="none" stroke="#ff0000" stroke-width="1.7" transform="translate(118.9 1485.3) scale(0.85) translate(-118.9 -1485.3)"><path d="M114.5 1485.3H123.3M118.9 1480.9V1489.7"/></g>
<text x="155.7" y="1494.6" font-size="25" font-family="'Liberation Serif', serif"><tspan font-family="'Liberation Sans', sans-serif">ρ</tspan> <tspan font-size="29.5">+</tspan> <tspan font-style="italic">p</tspan><tspan font-style="italic" font-size="20.0" dy="9.0">r</tspan><tspan dy="-9.0"> <tspan font-size="29.5">+</tspan> 2 </tspan><tspan font-style="italic">p</tspan><tspan font-style="italic" font-size="20.0" dy="9.0">t</tspan><tspan dy="-9.0"></tspan></text>
<g fill="none" stroke="#0000ff" stroke-width="2.0" transform="translate(332.5 1485.3) scale(0.85) translate(-332.5 -1485.3)"><circle cx="332.5" cy="1485.3" r="3.4"/></g>
<text x="369.5" y="1494.6" font-size="25" font-family="'Liberation Serif', serif"><tspan font-family="'Liberation Sans', sans-serif">.ρ - </tspan>|<tspan font-style="italic">p</tspan><tspan font-style="italic" font-size="20.0" dy="9.0">r</tspan><tspan dy="-9.0">|</tspan></text>
<path d="M461.6 1485.3h58" stroke="#00ff00" stroke-width="1.8"/>
<text x="528.3" y="1494.6" font-size="25" font-family="'Liberation Serif', serif"><tspan font-family="'Liberation Sans', sans-serif">ρ - </tspan>|<tspan font-style="italic">p</tspan><tspan font-style="italic" font-size="20.0" dy="9.0">t</tspan><tspan dy="-9.0">|</tspan></text>
<clipPath id="cj"><rect x="842.8" y="854.9" width="623.4000000000001" height="510.0000000000001"/></clipPath>
<g clip-path="url(#cj)">
<g fill="none" stroke="#c8282d" stroke-width="1.6">
<rect x="845.2" y="894.1" width="7.1" height="7.1"/>
<rect x="851.6" y="929.0" width="7.1" height="7.1"/>
<rect x="858.0" y="951.4" width="7.1" height="7.1"/>
<rect x="864.3" y="979.0" width="7.1" height="7.1"/>
<rect x="870.7" y="1000.1" width="7.1" height="7.1"/>
<rect x="877.1" y="1023.6" width="7.1" height="7.1"/>
<rect x="883.5" y="1046.3" width="7.1" height="7.1"/>
<rect x="889.9" y="1068.4" width="7.1" height="7.1"/>
<rect x="896.2" y="1088.5" width="7.1" height="7.1"/>
<rect x="909.0" y="1125.9" width="7.1" height="7.1"/>
<rect x="921.8" y="1157.5" width="7.1" height="7.1"/>
<rect x="934.5" y="1185.0" width="7.1" height="7.1"/>
<rect x="947.3" y="1208.6" width="7.1" height="7.1"/>
<rect x="960.0" y="1228.3" width="7.1" height="7.1"/>
<rect x="972.8" y="1245.0" width="7.1" height="7.1"/>
<rect x="985.5" y="1258.9" width="7.1" height="7.1"/>
<rect x="998.3" y="1270.7" width="7.1" height="7.1"/>
<rect x="1011.1" y="1280.7" width="7.1" height="7.1"/>
<rect x="1023.8" y="1289.3" width="7.1" height="7.1"/>
<rect x="1036.6" y="1296.4" width="7.1" height="7.1"/>
<rect x="1049.3" y="1302.7" width="7.1" height="7.1"/>
<rect x="1062.1" y="1307.7" width="7.1" height="7.1"/>
<rect x="1074.8" y="1312.8" width="7.1" height="7.1"/>
<rect x="1087.6" y="1316.7" width="7.1" height="7.1"/>
<rect x="1100.4" y="1320.2" width="7.1" height="7.1"/>
<rect x="1113.1" y="1323.3" width="7.1" height="7.1"/>
<rect x="1125.9" y="1325.7" width="7.1" height="7.1"/>
<rect x="1138.6" y="1327.9" width="7.1" height="7.1"/>
<rect x="1151.4" y="1329.9" width="7.1" height="7.1"/>
<rect x="1164.1" y="1331.7" width="7.1" height="7.1"/>
<rect x="1176.9" y="1333.2" width="7.1" height="7.1"/>
<rect x="1189.7" y="1334.5" width="7.1" height="7.1"/>
<rect x="1202.4" y="1335.7" width="7.1" height="7.1"/>
<rect x="1215.2" y="1336.7" width="7.1" height="7.1"/>
<rect x="1227.9" y="1337.7" width="7.1" height="7.1"/>
<rect x="1240.7" y="1338.5" width="7.1" height="7.1"/>
<rect x="1253.4" y="1339.3" width="7.1" height="7.1"/>
<rect x="1266.2" y="1340.0" width="7.1" height="7.1"/>
<rect x="1279.0" y="1340.7" width="7.1" height="7.1"/>
<rect x="1291.7" y="1341.3" width="7.1" height="7.1"/>
<rect x="1304.5" y="1341.9" width="7.1" height="7.1"/>
<rect x="1317.2" y="1342.5" width="7.1" height="7.1"/>
<rect x="1330.0" y="1343.0" width="7.1" height="7.1"/>
<rect x="1342.7" y="1343.5" width="7.1" height="7.1"/>
<rect x="1355.5" y="1344.0" width="7.1" height="7.1"/>
<rect x="1368.3" y="1344.4" width="7.1" height="7.1"/>
<rect x="1381.0" y="1344.9" width="7.1" height="7.1"/>
<rect x="1393.8" y="1345.3" width="7.1" height="7.1"/>
<rect x="1406.5" y="1345.7" width="7.1" height="7.1"/>
<rect x="1419.3" y="1346.1" width="7.1" height="7.1"/>
<rect x="1432.0" y="1346.4" width="7.1" height="7.1"/>
<rect x="1444.8" y="1346.8" width="7.1" height="7.1"/>
<rect x="1457.5" y="1347.1" width="7.1" height="7.1"/>
</g>
<g fill="none" stroke="#ff00ff" stroke-width="1.9">
<path d="M848.8 910.7L852.5 914.5L848.8 918.2L845.0 914.5Z"/>
<path d="M861.5 934.5L865.3 938.3L861.5 942.0L857.8 938.3Z"/>
<path d="M874.3 967.1L878.0 970.8L874.3 974.6L870.5 970.8Z"/>
<path d="M887.0 1001.9L890.8 1005.6L887.0 1009.4L883.3 1005.6Z"/>
<path d="M899.8 1041.9L903.5 1045.6L899.8 1049.4L896.0 1045.6Z"/>
<path d="M912.5 1077.6L916.3 1081.3L912.5 1085.1L908.8 1081.3Z"/>
<path d="M925.3 1111.3L929.1 1115.0L925.3 1118.8L921.6 1115.0Z"/>
<path d="M938.1 1141.3L941.8 1145.1L938.1 1148.8L934.3 1145.1Z"/>
<path d="M950.8 1168.9L954.6 1172.6L950.8 1176.4L947.1 1172.6Z"/>
<path d="M963.6 1192.0L967.3 1195.7L963.6 1199.5L959.8 1195.7Z"/>
<path d="M976.3 1212.2L980.1 1215.9L976.3 1219.7L972.6 1215.9Z"/>
<path d="M989.1 1229.0L992.8 1232.7L989.1 1236.5L985.3 1232.7Z"/>
<path d="M1001.8 1243.8L1005.6 1247.5L1001.8 1251.3L998.1 1247.5Z"/>
<path d="M1014.6 1256.4L1018.4 1260.2L1014.6 1263.9L1010.9 1260.2Z"/>
<path d="M1027.4 1267.7L1031.1 1271.4L1027.4 1275.2L1023.6 1271.4Z"/>
<path d="M1040.1 1276.7L1043.9 1280.4L1040.1 1284.2L1036.4 1280.4Z"/>
<path d="M1052.9 1284.8L1056.6 1288.6L1052.9 1292.3L1049.1 1288.6Z"/>
<path d="M1065.6 1291.8L1069.4 1295.5L1065.6 1299.3L1061.9 1295.5Z"/>
<path d="M1078.4 1298.2L1082.1 1302.0L1078.4 1305.7L1074.6 1302.0Z"/>
<path d="M1091.1 1303.4L1094.9 1307.2L1091.1 1310.9L1087.4 1307.2Z"/>
<path d="M1103.9 1308.3L1107.7 1312.1L1103.9 1315.8L1100.2 1312.1Z"/>
<path d="M1116.7 1312.2L1120.4 1316.0L1116.7 1319.7L1112.9 1316.0Z"/>
<path d="M1129.4 1315.5L1133.2 1319.2L1129.4 1323.0L1125.7 1319.2Z"/>
<path d="M1142.2 1318.6L1145.9 1322.3L1142.2 1326.1L1138.4 1322.3Z"/>
<path d="M1154.9 1321.5L1158.7 1325.2L1154.9 1329.0L1151.2 1325.2Z"/>
<path d="M1167.7 1324.1L1171.4 1327.9L1167.7 1331.6L1163.9 1327.9Z"/>
<path d="M1180.4 1326.4L1184.2 1330.2L1180.4 1333.9L1176.7 1330.2Z"/>
<path d="M1193.2 1328.4L1197.0 1332.2L1193.2 1335.9L1189.5 1332.2Z"/>
<path d="M1206.0 1330.2L1209.7 1333.9L1206.0 1337.7L1202.2 1333.9Z"/>
<path d="M1218.7 1331.8L1222.5 1335.6L1218.7 1339.3L1215.0 1335.6Z"/>
<path d="M1231.5 1333.3L1235.2 1337.1L1231.5 1340.8L1227.7 1337.1Z"/>
<path d="M1244.2 1334.7L1248.0 1338.5L1244.2 1342.2L1240.5 1338.5Z"/>
<path d="M1257.0 1336.0L1260.7 1339.7L1257.0 1343.5L1253.2 1339.7Z"/>
<path d="M1269.7 1337.1L1273.5 1340.8L1269.7 1344.6L1266.0 1340.8Z"/>
<path d="M1282.5 1338.0L1286.3 1341.8L1282.5 1345.5L1278.8 1341.8Z"/>
<path d="M1295.3 1338.8L1299.0 1342.6L1295.3 1346.3L1291.5 1342.6Z"/>
<path d="M1308.0 1339.6L1311.8 1343.3L1308.0 1347.1L1304.3 1343.3Z"/>
<path d="M1320.8 1340.3L1324.5 1344.0L1320.8 1347.8L1317.0 1344.0Z"/>
<path d="M1333.5 1340.9L1337.3 1344.6L1333.5 1348.4L1329.8 1344.6Z"/>
<path d="M1346.3 1341.5L1350.0 1345.2L1346.3 1349.0L1342.5 1345.2Z"/>
<path d="M1359.0 1342.0L1362.8 1345.8L1359.0 1349.5L1355.3 1345.8Z"/>
<path d="M1371.8 1342.6L1375.6 1346.3L1371.8 1350.1L1368.1 1346.3Z"/>
<path d="M1384.6 1343.1L1388.3 1346.8L1384.6 1350.6L1380.8 1346.8Z"/>
<path d="M1397.3 1343.6L1401.1 1347.3L1397.3 1351.1L1393.6 1347.3Z"/>
<path d="M1410.1 1344.0L1413.8 1347.8L1410.1 1351.5L1406.3 1347.8Z"/>
<path d="M1422.8 1344.5L1426.6 1348.2L1422.8 1352.0L1419.1 1348.2Z"/>
<path d="M1435.6 1344.9L1439.3 1348.6L1435.6 1352.4L1431.8 1348.6Z"/>
<path d="M1448.3 1345.3L1452.1 1349.0L1448.3 1352.8L1444.6 1349.0Z"/>
<path d="M1461.1 1345.6L1464.8 1349.4L1461.1 1353.1L1457.3 1349.4Z"/>
</g>
<g fill="none" stroke="#000" stroke-width="1.9" stroke-linecap="butt">
<path d="M848.8 869.7L848.8 865.0M848.8 869.7L853.2 868.2M848.8 869.7L844.3 868.2M848.8 869.7L851.5 873.5M848.8 869.7L846.0 873.5"/>
<path d="M851.9 910.3L851.9 905.6M851.9 910.3L856.4 908.8M851.9 910.3L847.5 908.8M851.9 910.3L854.7 914.1M851.9 910.3L849.2 914.1"/>
<path d="M855.1 937.8L855.1 933.1M855.1 937.8L859.6 936.4M855.1 937.8L850.7 936.4M855.1 937.8L857.9 941.6M855.1 937.8L852.4 941.6"/>
<path d="M858.3 960.9L858.3 956.2M858.3 960.9L862.8 959.4M858.3 960.9L853.9 959.4M858.3 960.9L861.1 964.7M858.3 960.9L855.6 964.7"/>
<path d="M861.5 987.0L861.5 982.3M861.5 987.0L866.0 985.6M861.5 987.0L857.0 985.6M861.5 987.0L864.3 990.8M861.5 987.0L858.8 990.8"/>
<path d="M867.9 1034.4L867.9 1029.7M867.9 1034.4L872.4 1033.0M867.9 1034.4L863.4 1033.0M867.9 1034.4L870.7 1038.2M867.9 1034.4L865.1 1038.2"/>
<path d="M874.3 1069.3L874.3 1064.6M874.3 1069.3L878.7 1067.8M874.3 1069.3L869.8 1067.8M874.3 1069.3L877.0 1073.1M874.3 1069.3L871.5 1073.1"/>
<path d="M880.7 1101.8L880.7 1097.1M880.7 1101.8L885.1 1100.3M880.7 1101.8L876.2 1100.3M880.7 1101.8L883.4 1105.6M880.7 1101.8L877.9 1105.6"/>
<path d="M887.0 1131.5L887.0 1126.8M887.0 1131.5L891.5 1130.1M887.0 1131.5L882.6 1130.1M887.0 1131.5L889.8 1135.3M887.0 1131.5L884.3 1135.3"/>
<path d="M893.4 1157.8L893.4 1153.1M893.4 1157.8L897.9 1156.3M893.4 1157.8L888.9 1156.3M893.4 1157.8L896.2 1161.6M893.4 1157.8L890.6 1161.6"/>
<path d="M899.8 1182.4L899.8 1177.7M899.8 1182.4L904.3 1180.9M899.8 1182.4L895.3 1180.9M899.8 1182.4L902.6 1186.2M899.8 1182.4L897.0 1186.2"/>
<path d="M906.2 1203.0L906.2 1198.3M906.2 1203.0L910.6 1201.5M906.2 1203.0L901.7 1201.5M906.2 1203.0L908.9 1206.8M906.2 1203.0L903.4 1206.8"/>
<path d="M912.5 1219.8L912.5 1215.1M912.5 1219.8L917.0 1218.3M912.5 1219.8L908.1 1218.3M912.5 1219.8L915.3 1223.6M912.5 1219.8L909.8 1223.6"/>
<path d="M925.3 1248.9L925.3 1244.2M925.3 1248.9L929.8 1247.5M925.3 1248.9L920.8 1247.5M925.3 1248.9L928.1 1252.7M925.3 1248.9L922.5 1252.7"/>
<path d="M938.1 1272.0L938.1 1267.3M938.1 1272.0L942.5 1270.5M938.1 1272.0L933.6 1270.5M938.1 1272.0L940.8 1275.8M938.1 1272.0L935.3 1275.8"/>
<path d="M950.8 1288.7L950.8 1284.0M950.8 1288.7L955.3 1287.2M950.8 1288.7L946.3 1287.2M950.8 1288.7L953.6 1292.5M950.8 1288.7L948.1 1292.5"/>
<path d="M963.6 1302.7L963.6 1298.0M963.6 1302.7L968.0 1301.2M963.6 1302.7L959.1 1301.2M963.6 1302.7L966.3 1306.5M963.6 1302.7L960.8 1306.5"/>
<path d="M976.3 1313.2L976.3 1308.5M976.3 1313.2L980.8 1311.8M976.3 1313.2L971.9 1311.8M976.3 1313.2L979.1 1317.0M976.3 1313.2L973.6 1317.0"/>
<path d="M989.1 1321.1L989.1 1316.4M989.1 1321.1L993.6 1319.6M989.1 1321.1L984.6 1319.6M989.1 1321.1L991.9 1324.9M989.1 1321.1L986.3 1324.9"/>
<path d="M1001.8 1327.5L1001.8 1322.8M1001.8 1327.5L1006.3 1326.0M1001.8 1327.5L997.4 1326.0M1001.8 1327.5L1004.6 1331.3M1001.8 1327.5L999.1 1331.3"/>
<path d="M1014.6 1332.4L1014.6 1327.7M1014.6 1332.4L1019.1 1331.0M1014.6 1332.4L1010.1 1331.0M1014.6 1332.4L1017.4 1336.2M1014.6 1332.4L1011.8 1336.2"/>
<path d="M1027.4 1336.4L1027.4 1331.7M1027.4 1336.4L1031.8 1334.9M1027.4 1336.4L1022.9 1334.9M1027.4 1336.4L1030.1 1340.2M1027.4 1336.4L1024.6 1340.2"/>
<path d="M1040.1 1339.3L1040.1 1334.6M1040.1 1339.3L1044.6 1337.8M1040.1 1339.3L1035.6 1337.8M1040.1 1339.3L1042.9 1343.1M1040.1 1339.3L1037.4 1343.1"/>
<path d="M1052.9 1342.1L1052.9 1337.4M1052.9 1342.1L1057.3 1340.6M1052.9 1342.1L1048.4 1340.6M1052.9 1342.1L1055.6 1345.9M1052.9 1342.1L1050.1 1345.9"/>
<path d="M1065.6 1344.1L1065.6 1339.4M1065.6 1344.1L1070.1 1342.6M1065.6 1344.1L1061.2 1342.6M1065.6 1344.1L1068.4 1347.9M1065.6 1344.1L1062.9 1347.9"/>
<path d="M1078.4 1345.8L1078.4 1341.1M1078.4 1345.8L1082.9 1344.4M1078.4 1345.8L1073.9 1344.4M1078.4 1345.8L1081.2 1349.6M1078.4 1345.8L1075.6 1349.6"/>
<path d="M1091.1 1347.5L1091.1 1342.8M1091.1 1347.5L1095.6 1346.0M1091.1 1347.5L1086.7 1346.0M1091.1 1347.5L1093.9 1351.3M1091.1 1347.5L1088.4 1351.3"/>
<path d="M1103.9 1348.4L1103.9 1343.7M1103.9 1348.4L1108.4 1347.0M1103.9 1348.4L1099.4 1347.0M1103.9 1348.4L1106.7 1352.2M1103.9 1348.4L1101.1 1352.2"/>
<path d="M1116.7 1349.3L1116.7 1344.6M1116.7 1349.3L1121.1 1347.9M1116.7 1349.3L1112.2 1347.9M1116.7 1349.3L1119.4 1353.1M1116.7 1349.3L1113.9 1353.1"/>
<path d="M1129.4 1349.7L1129.4 1345.0M1129.4 1349.7L1133.9 1348.3M1129.4 1349.7L1124.9 1348.3M1129.4 1349.7L1132.2 1353.5M1129.4 1349.7L1126.7 1353.5"/>
<path d="M1142.2 1350.0L1142.2 1345.3M1142.2 1350.0L1146.6 1348.6M1142.2 1350.0L1137.7 1348.6M1142.2 1350.0L1144.9 1353.9M1142.2 1350.0L1139.4 1353.9"/>
<path d="M1154.9 1350.3L1154.9 1345.6M1154.9 1350.3L1159.4 1348.8M1154.9 1350.3L1150.5 1348.8M1154.9 1350.3L1157.7 1354.1M1154.9 1350.3L1152.2 1354.1"/>
<path d="M1167.7 1350.5L1167.7 1345.8M1167.7 1350.5L1172.2 1349.0M1167.7 1350.5L1163.2 1349.0M1167.7 1350.5L1170.4 1354.3M1167.7 1350.5L1164.9 1354.3"/>
<path d="M1180.4 1350.7L1180.4 1346.0M1180.4 1350.7L1184.9 1349.2M1180.4 1350.7L1176.0 1349.2M1180.4 1350.7L1183.2 1354.5M1180.4 1350.7L1177.7 1354.5"/>
<path d="M1193.2 1350.9L1193.2 1346.2M1193.2 1350.9L1197.7 1349.5M1193.2 1350.9L1188.7 1349.5M1193.2 1350.9L1196.0 1354.7M1193.2 1350.9L1190.4 1354.7"/>
<path d="M1206.0 1351.2L1206.0 1346.5M1206.0 1351.2L1210.4 1349.8M1206.0 1351.2L1201.5 1349.8M1206.0 1351.2L1208.7 1355.0M1206.0 1351.2L1203.2 1355.0"/>
<path d="M1218.7 1351.5L1218.7 1346.8M1218.7 1351.5L1223.2 1350.1M1218.7 1351.5L1214.2 1350.1M1218.7 1351.5L1221.5 1355.3M1218.7 1351.5L1216.0 1355.3"/>
<path d="M1231.5 1351.8L1231.5 1347.1M1231.5 1351.8L1235.9 1350.4M1231.5 1351.8L1227.0 1350.4M1231.5 1351.8L1234.2 1355.6M1231.5 1351.8L1228.7 1355.6"/>
<path d="M1244.2 1352.1L1244.2 1347.4M1244.2 1352.1L1248.7 1350.7M1244.2 1352.1L1239.8 1350.7M1244.2 1352.1L1247.0 1355.9M1244.2 1352.1L1241.5 1355.9"/>
<path d="M1257.0 1352.4L1257.0 1347.7M1257.0 1352.4L1261.5 1350.9M1257.0 1352.4L1252.5 1350.9M1257.0 1352.4L1259.7 1356.2M1257.0 1352.4L1254.2 1356.2"/>
<path d="M1269.7 1352.7L1269.7 1348.0M1269.7 1352.7L1274.2 1351.2M1269.7 1352.7L1265.3 1351.2M1269.7 1352.7L1272.5 1356.5M1269.7 1352.7L1267.0 1356.5"/>
<path d="M1282.5 1352.9L1282.5 1348.2M1282.5 1352.9L1287.0 1351.4M1282.5 1352.9L1278.0 1351.4M1282.5 1352.9L1285.3 1356.7M1282.5 1352.9L1279.7 1356.7"/>
<path d="M1295.3 1353.1L1295.3 1348.4M1295.3 1353.1L1299.7 1351.6M1295.3 1353.1L1290.8 1351.6M1295.3 1353.1L1298.0 1356.9M1295.3 1353.1L1292.5 1356.9"/>
<path d="M1308.0 1353.3L1308.0 1348.6M1308.0 1353.3L1312.5 1351.8M1308.0 1353.3L1303.5 1351.8M1308.0 1353.3L1310.8 1357.1M1308.0 1353.3L1305.3 1357.1"/>
<path d="M1320.8 1353.5L1320.8 1348.8M1320.8 1353.5L1325.2 1352.0M1320.8 1353.5L1316.3 1352.0M1320.8 1353.5L1323.5 1357.3M1320.8 1353.5L1318.0 1357.3"/>
<path d="M1333.5 1353.7L1333.5 1349.0M1333.5 1353.7L1338.0 1352.2M1333.5 1353.7L1329.1 1352.2M1333.5 1353.7L1336.3 1357.5M1333.5 1353.7L1330.8 1357.5"/>
<path d="M1346.3 1353.8L1346.3 1349.1M1346.3 1353.8L1350.8 1352.4M1346.3 1353.8L1341.8 1352.4M1346.3 1353.8L1349.0 1357.6M1346.3 1353.8L1343.5 1357.6"/>
<path d="M1359.0 1354.0L1359.0 1349.3M1359.0 1354.0L1363.5 1352.5M1359.0 1354.0L1354.6 1352.5M1359.0 1354.0L1361.8 1357.8M1359.0 1354.0L1356.3 1357.8"/>
<path d="M1371.8 1354.1L1371.8 1349.4M1371.8 1354.1L1376.3 1352.7M1371.8 1354.1L1367.3 1352.7M1371.8 1354.1L1374.6 1357.9M1371.8 1354.1L1369.0 1357.9"/>
<path d="M1384.6 1354.3L1384.6 1349.6M1384.6 1354.3L1389.0 1352.8M1384.6 1354.3L1380.1 1352.8M1384.6 1354.3L1387.3 1358.1M1384.6 1354.3L1381.8 1358.1"/>
<path d="M1397.3 1354.4L1397.3 1349.7M1397.3 1354.4L1401.8 1352.9M1397.3 1354.4L1392.8 1352.9M1397.3 1354.4L1400.1 1358.2M1397.3 1354.4L1394.6 1358.2"/>
<path d="M1410.1 1354.5L1410.1 1349.8M1410.1 1354.5L1414.5 1353.1M1410.1 1354.5L1405.6 1353.1M1410.1 1354.5L1412.8 1358.3M1410.1 1354.5L1407.3 1358.3"/>
<path d="M1422.8 1354.6L1422.8 1349.9M1422.8 1354.6L1427.3 1353.2M1422.8 1354.6L1418.4 1353.2M1422.8 1354.6L1425.6 1358.5M1422.8 1354.6L1420.1 1358.5"/>
<path d="M1435.6 1354.8L1435.6 1350.1M1435.6 1354.8L1440.1 1353.3M1435.6 1354.8L1431.1 1353.3M1435.6 1354.8L1438.3 1358.6M1435.6 1354.8L1432.8 1358.6"/>
<path d="M1448.3 1354.9L1448.3 1350.2M1448.3 1354.9L1452.8 1353.4M1448.3 1354.9L1443.9 1353.4M1448.3 1354.9L1451.1 1358.7M1448.3 1354.9L1445.6 1358.7"/>
<path d="M1461.1 1355.0L1461.1 1350.3M1461.1 1355.0L1465.6 1353.5M1461.1 1355.0L1456.6 1353.5M1461.1 1355.0L1463.9 1358.8M1461.1 1355.0L1458.3 1358.8"/>
</g>
<g fill="none" stroke="#ff0000" stroke-width="1.7">
<path d="M844.4 858.4H853.2M848.8 854.0V862.8"/>
<path d="M847.5 906.2H856.3M851.9 901.8V910.6"/>
<path d="M850.7 935.9H859.5M855.1 931.5V940.3"/>
<path d="M853.9 965.4H862.7M858.3 961.0V969.8"/>
<path d="M857.1 1002.3H865.9M861.5 997.9V1006.7"/>
<path d="M863.5 1057.5H872.3M867.9 1053.1V1061.9"/>
<path d="M869.9 1102.1H878.7M874.3 1097.7V1106.5"/>
<path d="M876.3 1137.1H885.1M880.7 1132.7V1141.5"/>
<path d="M882.6 1169.1H891.4M887.0 1164.7V1173.5"/>
<path d="M889.0 1197.0H897.8M893.4 1192.6V1201.4"/>
<path d="M895.4 1226.3H904.2M899.8 1221.9V1230.7"/>
<path d="M901.8 1247.2H910.6M906.2 1242.8V1251.6"/>
<path d="M908.1 1261.9H916.9M912.5 1257.5V1266.3"/>
<path d="M920.9 1290.7H929.7M925.3 1286.3V1295.1"/>
<path d="M933.7 1311.9H942.5M938.1 1307.5V1316.3"/>
<path d="M946.4 1325.7H955.2M950.8 1321.3V1330.1"/>
<path d="M959.2 1337.4H968.0M963.6 1333.0V1341.8"/>
<path d="M971.9 1345.3H980.7M976.3 1340.9V1349.7"/>
<path d="M984.7 1350.0H993.5M989.1 1345.6V1354.4"/>
<path d="M997.4 1353.9H1006.2M1001.8 1349.5V1358.3"/>
<path d="M1010.2 1356.6H1019.0M1014.6 1352.2V1361.0"/>
<path d="M1023.0 1358.5H1031.8M1027.4 1354.1V1362.9"/>
<path d="M1035.7 1359.0H1044.5M1040.1 1354.6V1363.4"/>
<path d="M1048.5 1360.3H1057.3M1052.9 1355.9V1364.7"/>
<path d="M1061.2 1361.2H1070.0M1065.6 1356.8V1365.6"/>
<path d="M1074.0 1361.0H1082.8M1078.4 1356.6V1365.4"/>
<path d="M1086.7 1361.6H1095.5M1091.1 1357.2V1366.0"/>
<path d="M1099.5 1361.4H1108.3M1103.9 1357.0V1365.8"/>
<path d="M1112.3 1360.9H1121.1M1116.7 1356.5V1365.3"/>
<path d="M1125.0 1360.2H1133.8M1129.4 1355.8V1364.6"/>
<path d="M1137.8 1359.5H1146.6M1142.2 1355.1V1363.9"/>
<path d="M1150.5 1358.9H1159.3M1154.9 1354.5V1363.3"/>
<path d="M1163.3 1358.4H1172.1M1167.7 1354.0V1362.8"/>
<path d="M1176.0 1358.0H1184.8M1180.4 1353.6V1362.4"/>
<path d="M1188.8 1357.9H1197.6M1193.2 1353.5V1362.3"/>
<path d="M1201.6 1357.9H1210.4M1206.0 1353.5V1362.3"/>
<path d="M1214.3 1358.1H1223.1M1218.7 1353.7V1362.5"/>
<path d="M1227.1 1358.3H1235.9M1231.5 1353.9V1362.7"/>
<path d="M1239.8 1358.6H1248.6M1244.2 1354.2V1363.0"/>
<path d="M1252.6 1358.8H1261.4M1257.0 1354.4V1363.2"/>
<path d="M1265.3 1359.0H1274.1M1269.7 1354.6V1363.4"/>
<path d="M1278.1 1359.0H1286.9M1282.5 1354.6V1363.4"/>
<path d="M1290.9 1359.0H1299.7M1295.3 1354.6V1363.4"/>
<path d="M1303.6 1359.0H1312.4M1308.0 1354.6V1363.4"/>
<path d="M1316.4 1358.9H1325.2M1320.8 1354.5V1363.3"/>
<path d="M1329.1 1358.8H1337.9M1333.5 1354.4V1363.2"/>
<path d="M1341.9 1358.8H1350.7M1346.3 1354.4V1363.2"/>
<path d="M1354.6 1358.7H1363.4M1359.0 1354.3V1363.1"/>
<path d="M1367.4 1358.6H1376.2M1371.8 1354.2V1363.0"/>
<path d="M1380.2 1358.5H1389.0M1384.6 1354.1V1362.9"/>
<path d="M1392.9 1358.4H1401.7M1397.3 1354.0V1362.8"/>
<path d="M1405.7 1358.4H1414.5M1410.1 1354.0V1362.8"/>
<path d="M1418.4 1358.3H1427.2M1422.8 1353.9V1362.7"/>
<path d="M1431.2 1358.2H1440.0M1435.6 1353.8V1362.6"/>
<path d="M1443.9 1358.1H1452.7M1448.3 1353.7V1362.5"/>
<path d="M1456.7 1358.0H1465.5M1461.1 1353.6V1362.4"/>
</g>
<g fill="none" stroke="#0000ff" stroke-width="2.0">
<circle cx="848.8" cy="914.5" r="3.4"/>
<circle cx="855.1" cy="939.7" r="3.4"/>
<circle cx="861.5" cy="971.7" r="3.4"/>
<circle cx="867.9" cy="1011.4" r="3.4"/>
<circle cx="874.3" cy="1036.5" r="3.4"/>
<circle cx="880.7" cy="1066.5" r="3.4"/>
<circle cx="887.0" cy="1094.0" r="3.4"/>
<circle cx="893.4" cy="1118.5" r="3.4"/>
<circle cx="899.8" cy="1138.4" r="3.4"/>
<circle cx="906.2" cy="1158.8" r="3.4"/>
<circle cx="912.5" cy="1177.7" r="3.4"/>
<circle cx="925.3" cy="1207.1" r="3.4"/>
<circle cx="938.1" cy="1232.0" r="3.4"/>
<circle cx="950.8" cy="1251.7" r="3.4"/>
<circle cx="963.6" cy="1267.9" r="3.4"/>
<circle cx="976.3" cy="1281.2" r="3.4"/>
<circle cx="989.1" cy="1292.2" r="3.4"/>
<circle cx="1001.8" cy="1301.0" r="3.4"/>
<circle cx="1014.6" cy="1308.3" r="3.4"/>
<circle cx="1027.4" cy="1314.2" r="3.4"/>
<circle cx="1040.1" cy="1319.6" r="3.4"/>
<circle cx="1052.9" cy="1323.8" r="3.4"/>
<circle cx="1065.6" cy="1327.0" r="3.4"/>
<circle cx="1078.4" cy="1330.6" r="3.4"/>
<circle cx="1091.1" cy="1333.3" r="3.4"/>
<circle cx="1103.9" cy="1335.4" r="3.4"/>
<circle cx="1116.7" cy="1337.7" r="3.4"/>
<circle cx="1129.4" cy="1339.3" r="3.4"/>
<circle cx="1142.2" cy="1340.6" r="3.4"/>
<circle cx="1154.9" cy="1341.7" r="3.4"/>
<circle cx="1167.7" cy="1342.6" r="3.4"/>
<circle cx="1180.4" cy="1343.4" r="3.4"/>
<circle cx="1193.2" cy="1344.0" r="3.4"/>
<circle cx="1206.0" cy="1344.5" r="3.4"/>
<circle cx="1218.7" cy="1344.9" r="3.4"/>
<circle cx="1231.5" cy="1345.3" r="3.4"/>
<circle cx="1244.2" cy="1345.6" r="3.4"/>
<circle cx="1257.0" cy="1346.0" r="3.4"/>
<circle cx="1269.7" cy="1346.3" r="3.4"/>
<circle cx="1282.5" cy="1346.7" r="3.4"/>
<circle cx="1295.3" cy="1347.2" r="3.4"/>
<circle cx="1308.0" cy="1347.6" r="3.4"/>
<circle cx="1320.8" cy="1348.1" r="3.4"/>
<circle cx="1333.5" cy="1348.5" r="3.4"/>
<circle cx="1346.3" cy="1348.9" r="3.4"/>
<circle cx="1359.0" cy="1349.3" r="3.4"/>
<circle cx="1371.8" cy="1349.7" r="3.4"/>
<circle cx="1384.6" cy="1350.0" r="3.4"/>
<circle cx="1397.3" cy="1350.4" r="3.4"/>
<circle cx="1410.1" cy="1350.7" r="3.4"/>
<circle cx="1422.8" cy="1351.0" r="3.4"/>
<circle cx="1435.6" cy="1351.3" r="3.4"/>
<circle cx="1448.3" cy="1351.6" r="3.4"/>
<circle cx="1461.1" cy="1351.9" r="3.4"/>
</g>
<path d="M848.8 925.7L850.3 924.1L851.8 923.6L853.4 925.2L854.9 936.0L856.4 947.1L858.0 958.2L859.5 970.2L861.0 983.1L862.6 995.4L864.1 1007.6L865.6 1019.2L867.2 1029.9L868.7 1039.3L870.2 1048.0L871.8 1056.1L873.3 1064.2L874.8 1072.3L876.4 1080.3L877.9 1088.2L879.5 1095.9L881.0 1103.4L882.5 1110.8L884.1 1118.1L885.6 1125.1L887.1 1131.9L888.7 1138.5L890.2 1144.9L891.7 1151.1L893.3 1157.2L894.8 1163.3L896.3 1169.4L897.9 1175.3L899.4 1181.0L900.9 1186.4L902.5 1191.5L904.0 1196.5L905.5 1201.2L907.1 1205.6L908.6 1209.8L910.1 1213.8L911.7 1217.6L913.2 1221.4L914.8 1225.1L916.3 1228.8L917.8 1232.4L919.4 1236.0L920.9 1239.5L922.4 1242.9L924.0 1246.1L925.5 1249.3L927.0 1252.4L928.6 1255.4L930.1 1258.3L931.6 1261.2L933.2 1263.9L934.7 1266.6L936.2 1269.1L937.8 1271.5L939.3 1273.8L940.8 1276.0L942.4 1278.1L943.9 1280.1L945.4 1282.1L947.0 1284.0L948.5 1285.9L950.0 1287.8L951.6 1289.6L953.1 1291.4L954.7 1293.2L956.2 1294.9L957.7 1296.6L959.3 1298.3L960.8 1299.9L962.3 1301.5L963.9 1302.9L965.4 1304.4L966.9 1305.7L968.5 1307.1L970.0 1308.3L971.5 1309.6L973.1 1310.8L974.6 1311.9L976.1 1313.1L977.7 1314.1L979.2 1315.2L980.7 1316.2L982.3 1317.2L983.8 1318.1L985.3 1319.0L986.9 1319.9L988.4 1320.7L990.0 1321.6L991.5 1322.4L993.0 1323.2L994.6 1324.0L996.1 1324.8L997.6 1325.5L999.2 1326.2L1000.7 1327.0L1002.2 1327.6L1003.8 1328.3L1005.3 1328.9L1006.8 1329.6L1008.4 1330.2L1009.9 1330.7L1011.4 1331.3L1013.0 1331.9L1014.5 1332.4L1016.0 1332.9L1017.6 1333.4L1019.1 1333.9L1020.6 1334.4L1022.2 1334.9L1023.7 1335.3L1025.2 1335.8L1026.8 1336.2L1028.3 1336.6L1029.9 1337.0L1031.4 1337.4L1032.9 1337.7L1034.5 1338.0L1036.0 1338.4L1037.5 1338.7L1039.1 1339.0L1040.6 1339.4L1042.1 1339.7L1043.7 1340.1L1045.2 1340.4L1046.7 1340.8L1048.3 1341.1L1049.8 1341.5L1051.3 1341.8L1052.9 1342.1L1054.4 1342.4L1055.9 1342.6L1057.5 1342.9L1059.0 1343.1L1060.5 1343.4L1062.1 1343.6L1063.6 1343.8L1065.2 1344.0L1066.7 1344.2L1068.2 1344.5L1069.8 1344.7L1071.3 1344.9L1072.8 1345.1L1074.4 1345.3L1075.9 1345.5L1077.4 1345.7L1079.0 1345.9L1080.5 1346.1L1082.0 1346.3L1083.6 1346.5L1085.1 1346.7L1086.6 1346.9L1088.2 1347.1L1089.7 1347.3L1091.2 1347.5L1092.8 1347.6L1094.3 1347.7L1095.8 1347.9L1097.4 1348.0L1098.9 1348.1L1100.4 1348.2L1102.0 1348.3L1103.5 1348.4L1105.1 1348.5L1106.6 1348.6L1108.1 1348.7L1109.7 1348.9L1111.2 1349.0L1112.7 1349.1L1114.3 1349.2L1115.8 1349.3L1117.3 1349.4L1118.9 1349.4L1120.4 1349.5L1121.9 1349.5L1123.5 1349.6L1125.0 1349.6L1126.5 1349.7L1128.1 1349.7L1129.6 1349.7L1131.1 1349.8L1132.7 1349.8L1134.2 1349.9L1135.7 1349.9L1137.3 1349.9L1138.8 1350.0L1140.4 1350.0L1141.9 1350.0L1143.4 1350.1L1145.0 1350.1L1146.5 1350.1L1148.0 1350.2L1149.6 1350.2L1151.1 1350.2L1152.6 1350.2L1154.2 1350.3L1155.7 1350.3L1157.2 1350.3L1158.8 1350.3L1160.3 1350.4L1161.8 1350.4L1163.4 1350.4L1164.9 1350.4L1166.4 1350.5L1168.0 1350.5L1169.5 1350.5L1171.0 1350.5L1172.6 1350.6L1174.1 1350.6L1175.6 1350.6L1177.2 1350.6L1178.7 1350.7L1180.3 1350.7L1181.8 1350.7L1183.3 1350.7L1184.9 1350.8L1186.4 1350.8L1187.9 1350.8L1189.5 1350.9L1191.0 1350.9L1192.5 1350.9L1194.1 1351.0L1195.6 1351.0L1197.1 1351.0L1198.7 1351.1L1200.2 1351.1L1201.7 1351.1L1203.3 1351.2L1204.8 1351.2L1206.3 1351.2L1207.9 1351.3L1209.4 1351.3L1210.9 1351.3L1212.5 1351.4L1214.0 1351.4L1215.6 1351.4L1217.1 1351.5L1218.6 1351.5L1220.2 1351.6L1221.7 1351.6L1223.2 1351.6L1224.8 1351.7L1226.3 1351.7L1227.8 1351.7L1229.4 1351.8L1230.9 1351.8L1232.4 1351.8L1234.0 1351.9L1235.5 1351.9L1237.0 1351.9L1238.6 1352.0L1240.1 1352.0L1241.6 1352.1L1243.2 1352.1L1244.7 1352.1L1246.2 1352.2L1247.8 1352.2L1249.3 1352.2L1250.8 1352.3L1252.4 1352.3L1253.9 1352.3L1255.5 1352.4L1257.0 1352.4L1258.5 1352.4L1260.1 1352.5L1261.6 1352.5L1263.1 1352.5L1264.7 1352.6L1266.2 1352.6L1267.7 1352.6L1269.3 1352.6L1270.8 1352.7L1272.3 1352.7L1273.9 1352.7L1275.4 1352.8L1276.9 1352.8L1278.5 1352.8L1280.0 1352.8L1281.5 1352.9L1283.1 1352.9L1284.6 1352.9L1286.1 1352.9L1287.7 1353.0L1289.2 1353.0L1290.7 1353.0L1292.3 1353.0L1293.8 1353.1L1295.4 1353.1L1296.9 1353.1L1298.4 1353.1L1300.0 1353.2L1301.5 1353.2L1303.0 1353.2L1304.6 1353.2L1306.1 1353.3L1307.6 1353.3L1309.2 1353.3L1310.7 1353.3L1312.2 1353.4L1313.8 1353.4L1315.3 1353.4L1316.8 1353.4L1318.4 1353.4L1319.9 1353.5L1321.4 1353.5L1323.0 1353.5L1324.5 1353.5L1326.0 1353.6L1327.6 1353.6L1329.1 1353.6L1330.7 1353.6L1332.2 1353.6L1333.7 1353.7L1335.3 1353.7L1336.8 1353.7L1338.3 1353.7L1339.9 1353.7L1341.4 1353.8L1342.9 1353.8L1344.5 1353.8L1346.0 1353.8L1347.5 1353.8L1349.1 1353.9L1350.6 1353.9L1352.1 1353.9L1353.7 1353.9L1355.2 1353.9L1356.7 1354.0L1358.3 1354.0L1359.8 1354.0L1361.3 1354.0L1362.9 1354.0L1364.4 1354.0L1365.9 1354.1L1367.5 1354.1L1369.0 1354.1L1370.6 1354.1L1372.1 1354.1L1373.6 1354.1L1375.2 1354.2L1376.7 1354.2L1378.2 1354.2L1379.8 1354.2L1381.3 1354.2L1382.8 1354.2L1384.4 1354.3L1385.9 1354.3L1387.4 1354.3L1389.0 1354.3L1390.5 1354.3L1392.0 1354.3L1393.6 1354.4L1395.1 1354.4L1396.6 1354.4L1398.2 1354.4L1399.7 1354.4L1401.2 1354.4L1402.8 1354.5L1404.3 1354.5L1405.9 1354.5L1407.4 1354.5L1408.9 1354.5L1410.5 1354.5L1412.0 1354.5L1413.5 1354.6L1415.1 1354.6L1416.6 1354.6L1418.1 1354.6L1419.7 1354.6L1421.2 1354.6L1422.7 1354.6L1424.3 1354.7L1425.8 1354.7L1427.3 1354.7L1428.9 1354.7L1430.4 1354.7L1431.9 1354.7L1433.5 1354.7L1435.0 1354.8L1436.5 1354.8L1438.1 1354.8L1439.6 1354.8L1441.1 1354.8L1442.7 1354.8L1444.2 1354.8L1445.8 1354.8L1447.3 1354.9L1448.8 1354.9L1450.4 1354.9L1451.9 1354.9L1453.4 1354.9L1455.0 1354.9L1456.5 1354.9L1458.0 1354.9L1459.6 1354.9L1461.1 1355.0" fill="none" stroke="#00ff00" stroke-width="2.5" stroke-linejoin="round"/>
</g>
<rect x="842.8" y="854.9" width="623.4000000000001" height="510.0000000000001" fill="none" stroke="#000" stroke-width="1.9"/>
<path d="M920.8 1364.9v9.5M1100.9 1364.9v9.5M1281.0 1364.9v9.5M1461.1 1364.9v9.5M1010.8 1364.9v4.8M1190.9 1364.9v4.8M1371.0 1364.9v4.8M842.8 1355.8h-9.5M842.8 1215.7h-9.5M842.8 1075.6h-9.5M842.8 935.5h-9.5M842.8 1285.8h-4.8M842.8 1145.7h-4.8M842.8 1005.5h-4.8M842.8 865.5h-4.8" stroke="#000" stroke-width="1.6" fill="none"/>
<text transform="translate(920.8 1392.7) scale(1 1.12)" font-size="22" font-family="'Liberation Serif', serif" text-anchor="middle">1</text>
<text transform="translate(1100.9 1392.7) scale(1 1.12)" font-size="22" font-family="'Liberation Serif', serif" text-anchor="middle">2</text>
<text transform="translate(1281.0 1392.7) scale(1 1.12)" font-size="22" font-family="'Liberation Serif', serif" text-anchor="middle">3</text>
<text transform="translate(1461.1 1392.7) scale(1 1.12)" font-size="22" font-family="'Liberation Serif', serif" text-anchor="middle">4</text>
<text transform="translate(831.9 1364.9) scale(1 1.12)" font-size="22" font-family="'Liberation Serif', serif" text-anchor="end">0</text>
<text transform="translate(831.9 1224.8) scale(1 1.12)" font-size="22" font-family="'Liberation Serif', serif" text-anchor="end">1</text>
<text transform="translate(831.9 1084.7) scale(1 1.12)" font-size="22" font-family="'Liberation Serif', serif" text-anchor="end">2</text>
<text transform="translate(831.9 944.6) scale(1 1.12)" font-size="22" font-family="'Liberation Serif', serif" text-anchor="end">3</text>
<text x="1156.5" y="1420.0" font-size="22" font-family="'Liberation Serif', serif" font-style="italic" text-anchor="middle">r</text>
<rect x="810.7" y="1422" width="642.8999999999999" height="87.79999999999995" fill="none" stroke="#000" stroke-width="1.9"/>
<g fill="none" stroke="#c8282d" stroke-width="1.6" transform="translate(846.0 1443.8) scale(0.85) translate(-846.0 -1443.8)"><rect x="842.5" y="1440.2" width="7.1" height="7.1"/></g>
<text x="884.7" y="1456.1" font-size="25" font-family="'Liberation Serif', serif"><tspan font-family="'Liberation Sans', sans-serif">ρ</tspan></text>
<g fill="none" stroke="#ff00ff" stroke-width="1.9" transform="translate(998.4 1443.8) scale(0.85) translate(-998.4 -1443.8)"><path d="M998.4 1440.0L1002.1 1443.8L998.4 1447.5L994.6 1443.8Z"/></g>
<text x="1036.1" y="1453.1" font-size="25" font-family="'Liberation Serif', serif"><tspan font-family="'Liberation Sans', sans-serif">ρ</tspan> <tspan font-size="29.5">+</tspan> <tspan font-style="italic">p</tspan><tspan font-style="italic" font-size="20.0" dy="9.0">r</tspan><tspan dy="-9.0"></tspan></text>
<g fill="none" stroke="#000" stroke-width="1.9" stroke-linecap="butt" transform="translate(1149.3 1443.8) scale(0.85) translate(-1149.3 -1443.8)"><path d="M1149.3 1443.8L1149.3 1439.1M1149.3 1443.8L1153.8 1442.3M1149.3 1443.8L1144.8 1442.3M1149.3 1443.8L1152.1 1447.6M1149.3 1443.8L1146.5 1447.6"/></g>
<text x="1185.7" y="1453.1" font-size="25" font-family="'Liberation Serif', serif"><tspan font-family="'Liberation Sans', sans-serif">ρ</tspan> <tspan font-size="29.5">+</tspan> <tspan font-style="italic">p</tspan><tspan font-style="italic" font-size="20.0" dy="9.0">t</tspan><tspan dy="-9.0"></tspan></text>
<g fill="none" stroke="#ff0000" stroke-width="1.7" transform="translate(1293.2 1443.8) scale(0.85) translate(-1293.2 -1443.8)"><path d="M1288.8 1443.8H1297.6M1293.2 1439.4V1448.2"/></g>
<text x="1329.5" y="1453.1" font-size="25" font-family="'Liberation Serif', serif"><tspan font-family="'Liberation Sans', sans-serif">ρ</tspan> <tspan font-size="29.5">+</tspan> <tspan font-style="italic">p</tspan><tspan font-style="italic" font-size="20.0" dy="9.0">r</tspan><tspan dy="-9.0"><tspan font-size="29.5">+</tspan> 2</tspan><tspan font-style="italic">p</tspan></text>
<g fill="none" stroke="#0000ff" stroke-width="2.0" transform="translate(846.0 1484.8) scale(0.85) translate(-846.0 -1484.8)"><circle cx="846.0" cy="1484.8" r="3.4"/></g>
<text x="884.7" y="1494.1" font-size="25" font-family="'Liberation Serif', serif"><tspan font-family="'Liberation Sans', sans-serif">.ρ - </tspan>|<tspan font-style="italic">p</tspan><tspan font-style="italic" font-size="20.0" dy="9.0">r</tspan><tspan dy="-9.0">|</tspan></text>
<path d="M968.5 1484.8h58" stroke="#00ff00" stroke-width="1.8"/>
<text x="1036.1" y="1494.1" font-size="25" font-family="'Liberation Serif', serif"><tspan font-family="'Liberation Sans', sans-serif">ρ - </tspan>|<tspan font-style="italic">p</tspan><tspan font-style="italic" font-size="20.0" dy="9.0">t</tspan><tspan dy="-9.0">|</tspan></text>
<clipPath id="ck"><rect x="72.3" y="1717" width="607.7" height="509.8000000000002"/></clipPath>
<g clip-path="url(#ck)">
<g fill="none" stroke="#c8282d" stroke-width="1.6">
<rect x="73.7" y="1942.8" width="7.1" height="7.1"/>
<rect x="79.9" y="1962.2" width="7.1" height="7.1"/>
<rect x="86.1" y="1978.4" width="7.1" height="7.1"/>
<rect x="92.3" y="1993.8" width="7.1" height="7.1"/>
<rect x="98.6" y="2007.3" width="7.1" height="7.1"/>
<rect x="104.8" y="2019.8" width="7.1" height="7.1"/>
<rect x="111.0" y="2030.4" width="7.1" height="7.1"/>
<rect x="117.2" y="2040.6" width="7.1" height="7.1"/>
<rect x="123.5" y="2050.2" width="7.1" height="7.1"/>
<rect x="135.9" y="2066.5" width="7.1" height="7.1"/>
<rect x="148.4" y="2079.9" width="7.1" height="7.1"/>
<rect x="160.8" y="2090.9" width="7.1" height="7.1"/>
<rect x="173.3" y="2100.6" width="7.1" height="7.1"/>
<rect x="185.7" y="2108.3" width="7.1" height="7.1"/>
<rect x="198.2" y="2115.0" width="7.1" height="7.1"/>
<rect x="210.6" y="2121.0" width="7.1" height="7.1"/>
<rect x="223.1" y="2125.8" width="7.1" height="7.1"/>
<rect x="235.6" y="2130.2" width="7.1" height="7.1"/>
<rect x="248.0" y="2134.1" width="7.1" height="7.1"/>
<rect x="260.5" y="2137.6" width="7.1" height="7.1"/>
<rect x="272.9" y="2140.5" width="7.1" height="7.1"/>
<rect x="285.4" y="2142.9" width="7.1" height="7.1"/>
<rect x="297.8" y="2145.0" width="7.1" height="7.1"/>
<rect x="310.3" y="2147.0" width="7.1" height="7.1"/>
<rect x="322.7" y="2148.6" width="7.1" height="7.1"/>
<rect x="335.2" y="2149.8" width="7.1" height="7.1"/>
<rect x="347.6" y="2151.0" width="7.1" height="7.1"/>
<rect x="360.1" y="2151.8" width="7.1" height="7.1"/>
<rect x="372.5" y="2152.5" width="7.1" height="7.1"/>
<rect x="385.0" y="2153.1" width="7.1" height="7.1"/>
<rect x="397.5" y="2153.8" width="7.1" height="7.1"/>
<rect x="409.9" y="2154.4" width="7.1" height="7.1"/>
<rect x="422.4" y="2155.1" width="7.1" height="7.1"/>
<rect x="434.8" y="2155.7" width="7.1" height="7.1"/>
<rect x="447.3" y="2156.3" width="7.1" height="7.1"/>
<rect x="459.7" y="2156.9" width="7.1" height="7.1"/>
<rect x="472.2" y="2157.4" width="7.1" height="7.1"/>
<rect x="484.6" y="2158.0" width="7.1" height="7.1"/>
<rect x="497.1" y="2158.4" width="7.1" height="7.1"/>
<rect x="509.5" y="2158.7" width="7.1" height="7.1"/>
<rect x="522.0" y="2159.0" width="7.1" height="7.1"/>
<rect x="534.5" y="2159.3" width="7.1" height="7.1"/>
<rect x="546.9" y="2159.6" width="7.1" height="7.1"/>
<rect x="559.4" y="2159.8" width="7.1" height="7.1"/>
<rect x="571.8" y="2159.9" width="7.1" height="7.1"/>
<rect x="584.3" y="2160.1" width="7.1" height="7.1"/>
<rect x="596.7" y="2160.2" width="7.1" height="7.1"/>
<rect x="609.2" y="2160.3" width="7.1" height="7.1"/>
<rect x="621.6" y="2160.3" width="7.1" height="7.1"/>
<rect x="634.1" y="2160.4" width="7.1" height="7.1"/>
<rect x="646.5" y="2160.4" width="7.1" height="7.1"/>
<rect x="659.0" y="2160.5" width="7.1" height="7.1"/>
<rect x="671.5" y="2160.5" width="7.1" height="7.1"/>
</g>
<g fill="none" stroke="#ff00ff" stroke-width="1.9">
<path d="M77.2 1718.0L81.0 1721.8L77.2 1725.5L73.5 1721.8Z"/>
<path d="M83.4 1742.1L87.2 1745.9L83.4 1749.6L79.7 1745.9Z"/>
<path d="M89.7 1765.3L93.4 1769.0L89.7 1772.8L85.9 1769.0Z"/>
<path d="M95.9 1788.2L99.6 1791.9L95.9 1795.7L92.1 1791.9Z"/>
<path d="M102.1 1809.9L105.9 1813.7L102.1 1817.4L98.4 1813.7Z"/>
<path d="M114.6 1848.9L118.3 1852.6L114.6 1856.4L110.8 1852.6Z"/>
<path d="M127.0 1883.0L130.8 1886.8L127.0 1890.5L123.3 1886.8Z"/>
<path d="M139.5 1912.9L143.2 1916.6L139.5 1920.4L135.7 1916.6Z"/>
<path d="M151.9 1938.7L155.7 1942.5L151.9 1946.2L148.2 1942.5Z"/>
<path d="M164.4 1963.0L168.1 1966.7L164.4 1970.5L160.6 1966.7Z"/>
<path d="M176.8 1983.4L180.6 1987.2L176.8 1990.9L173.1 1987.2Z"/>
<path d="M189.3 2000.9L193.0 2004.6L189.3 2008.4L185.5 2004.6Z"/>
<path d="M201.7 2017.2L205.5 2020.9L201.7 2024.7L198.0 2020.9Z"/>
<path d="M214.2 2031.3L217.9 2035.1L214.2 2038.8L210.4 2035.1Z"/>
<path d="M226.6 2044.1L230.4 2047.9L226.6 2051.6L222.9 2047.9Z"/>
<path d="M239.1 2055.8L242.9 2059.6L239.1 2063.3L235.4 2059.6Z"/>
<path d="M251.6 2065.9L255.3 2069.7L251.6 2073.4L247.8 2069.7Z"/>
<path d="M264.0 2075.4L267.8 2079.2L264.0 2082.9L260.3 2079.2Z"/>
<path d="M276.5 2084.2L280.2 2088.0L276.5 2091.7L272.7 2088.0Z"/>
<path d="M288.9 2092.1L292.7 2095.9L288.9 2099.6L285.2 2095.9Z"/>
<path d="M301.4 2098.8L305.1 2102.5L301.4 2106.3L297.6 2102.5Z"/>
<path d="M313.8 2104.8L317.6 2108.6L313.8 2112.3L310.1 2108.6Z"/>
<path d="M326.3 2110.4L330.0 2114.1L326.3 2117.9L322.5 2114.1Z"/>
<path d="M338.7 2115.5L342.5 2119.2L338.7 2123.0L335.0 2119.2Z"/>
<path d="M351.2 2120.0L354.9 2123.8L351.2 2127.5L347.4 2123.8Z"/>
<path d="M363.6 2124.6L367.4 2128.4L363.6 2132.1L359.9 2128.4Z"/>
<path d="M376.1 2128.8L379.8 2132.5L376.1 2136.3L372.3 2132.5Z"/>
<path d="M388.6 2132.3L392.3 2136.1L388.6 2139.8L384.8 2136.1Z"/>
<path d="M401.0 2135.6L404.8 2139.3L401.0 2143.1L397.3 2139.3Z"/>
<path d="M413.5 2138.6L417.2 2142.3L413.5 2146.1L409.7 2142.3Z"/>
<path d="M425.9 2141.3L429.7 2145.1L425.9 2148.8L422.2 2145.1Z"/>
<path d="M438.4 2143.9L442.1 2147.6L438.4 2151.4L434.6 2147.6Z"/>
<path d="M450.8 2146.2L454.6 2150.0L450.8 2153.7L447.1 2150.0Z"/>
<path d="M463.3 2148.4L467.0 2152.1L463.3 2155.9L459.5 2152.1Z"/>
<path d="M475.7 2150.4L479.5 2154.1L475.7 2157.9L472.0 2154.1Z"/>
<path d="M488.2 2152.4L491.9 2156.2L488.2 2159.9L484.4 2156.2Z"/>
<path d="M500.6 2154.6L504.4 2158.3L500.6 2162.1L496.9 2158.3Z"/>
<path d="M513.1 2156.9L516.8 2160.6L513.1 2164.4L509.3 2160.6Z"/>
<path d="M525.5 2158.8L529.3 2162.6L525.5 2166.3L521.8 2162.6Z"/>
<path d="M538.0 2160.3L541.8 2164.0L538.0 2167.8L534.3 2164.0Z"/>
<path d="M550.5 2161.5L554.2 2165.2L550.5 2169.0L546.7 2165.2Z"/>
<path d="M562.9 2162.6L566.7 2166.4L562.9 2170.1L559.2 2166.4Z"/>
<path d="M575.4 2163.8L579.1 2167.5L575.4 2171.3L571.6 2167.5Z"/>
<path d="M587.8 2164.8L591.6 2168.6L587.8 2172.3L584.1 2168.6Z"/>
<path d="M600.3 2165.9L604.0 2169.7L600.3 2173.4L596.5 2169.7Z"/>
<path d="M612.7 2167.1L616.5 2170.8L612.7 2174.6L609.0 2170.8Z"/>
<path d="M625.2 2168.3L628.9 2172.0L625.2 2175.8L621.4 2172.0Z"/>
<path d="M637.6 2169.6L641.4 2173.3L637.6 2177.1L633.9 2173.3Z"/>
<path d="M650.1 2170.9L653.8 2174.6L650.1 2178.4L646.3 2174.6Z"/>
<path d="M662.5 2172.3L666.3 2176.0L662.5 2179.8L658.8 2176.0Z"/>
<path d="M675.0 2173.7L678.8 2177.4L675.0 2181.2L671.2 2177.4Z"/>
</g>
<g fill="none" stroke="#000" stroke-width="1.9" stroke-linecap="butt">
<path d="M77.2 1969.2L77.2 1964.5M77.2 1969.2L81.7 1967.7M77.2 1969.2L72.7 1967.7M77.2 1969.2L80.0 1973.0M77.2 1969.2L74.4 1973.0"/>
<path d="M83.4 1988.8L83.4 1984.1M83.4 1988.8L87.9 1987.4M83.4 1988.8L79.0 1987.4M83.4 1988.8L86.2 1992.6M83.4 1988.8L80.7 1992.6"/>
<path d="M89.7 2004.2L89.7 1999.5M89.7 2004.2L94.1 2002.7M89.7 2004.2L85.2 2002.7M89.7 2004.2L92.4 2008.0M89.7 2004.2L86.9 2008.0"/>
<path d="M95.9 2017.5L95.9 2012.8M95.9 2017.5L100.4 2016.0M95.9 2017.5L91.4 2016.0M95.9 2017.5L98.6 2021.3M95.9 2017.5L93.1 2021.3"/>
<path d="M102.1 2029.9L102.1 2025.2M102.1 2029.9L106.6 2028.5M102.1 2029.9L97.6 2028.5M102.1 2029.9L104.9 2033.7M102.1 2029.9L99.3 2033.7"/>
<path d="M108.3 2042.0L108.3 2037.3M108.3 2042.0L112.8 2040.6M108.3 2042.0L103.9 2040.6M108.3 2042.0L111.1 2045.8M108.3 2042.0L105.6 2045.8"/>
<path d="M114.6 2052.5L114.6 2047.8M114.6 2052.5L119.0 2051.0M114.6 2052.5L110.1 2051.0M114.6 2052.5L117.3 2056.3M114.6 2052.5L111.8 2056.3"/>
<path d="M120.8 2062.2L120.8 2057.5M120.8 2062.2L125.3 2060.8M120.8 2062.2L116.3 2060.8M120.8 2062.2L123.6 2066.0M120.8 2062.2L118.0 2066.0"/>
<path d="M127.0 2070.4L127.0 2065.7M127.0 2070.4L131.5 2068.9M127.0 2070.4L122.5 2068.9M127.0 2070.4L129.8 2074.2M127.0 2070.4L124.3 2074.2"/>
<path d="M139.5 2085.6L139.5 2080.9M139.5 2085.6L143.9 2084.2M139.5 2085.6L135.0 2084.2M139.5 2085.6L142.2 2089.4M139.5 2085.6L136.7 2089.4"/>
<path d="M151.9 2097.8L151.9 2093.1M151.9 2097.8L156.4 2096.3M151.9 2097.8L147.5 2096.3M151.9 2097.8L154.7 2101.6M151.9 2097.8L149.2 2101.6"/>
<path d="M164.4 2107.7L164.4 2103.0M164.4 2107.7L168.8 2106.3M164.4 2107.7L159.9 2106.3M164.4 2107.7L167.1 2111.5M164.4 2107.7L161.6 2111.5"/>
<path d="M176.8 2116.3L176.8 2111.6M176.8 2116.3L181.3 2114.9M176.8 2116.3L172.4 2114.9M176.8 2116.3L179.6 2120.1M176.8 2116.3L174.1 2120.1"/>
<path d="M189.3 2123.4L189.3 2118.7M189.3 2123.4L193.8 2121.9M189.3 2123.4L184.8 2121.9M189.3 2123.4L192.1 2127.2M189.3 2123.4L186.5 2127.2"/>
<path d="M201.7 2129.2L201.7 2124.5M201.7 2129.2L206.2 2127.7M201.7 2129.2L197.3 2127.7M201.7 2129.2L204.5 2133.0M201.7 2129.2L199.0 2133.0"/>
<path d="M214.2 2134.5L214.2 2129.8M214.2 2134.5L218.7 2133.1M214.2 2134.5L209.7 2133.1M214.2 2134.5L217.0 2138.3M214.2 2134.5L211.4 2138.3"/>
<path d="M226.6 2138.9L226.6 2134.2M226.6 2138.9L231.1 2137.5M226.6 2138.9L222.2 2137.5M226.6 2138.9L229.4 2142.7M226.6 2138.9L223.9 2142.7"/>
<path d="M239.1 2142.6L239.1 2137.9M239.1 2142.6L243.6 2141.1M239.1 2142.6L234.6 2141.1M239.1 2142.6L241.9 2146.4M239.1 2142.6L236.3 2146.4"/>
<path d="M251.6 2145.7L251.6 2141.0M251.6 2145.7L256.0 2144.2M251.6 2145.7L247.1 2144.2M251.6 2145.7L254.3 2149.5M251.6 2145.7L248.8 2149.5"/>
<path d="M264.0 2148.6L264.0 2143.9M264.0 2148.6L268.5 2147.1M264.0 2148.6L259.5 2147.1M264.0 2148.6L266.8 2152.4M264.0 2148.6L261.2 2152.4"/>
<path d="M276.5 2150.9L276.5 2146.2M276.5 2150.9L280.9 2149.5M276.5 2150.9L272.0 2149.5M276.5 2150.9L279.2 2154.7M276.5 2150.9L273.7 2154.7"/>
<path d="M288.9 2153.0L288.9 2148.3M288.9 2153.0L293.4 2151.5M288.9 2153.0L284.5 2151.5M288.9 2153.0L291.7 2156.8M288.9 2153.0L286.2 2156.8"/>
<path d="M301.4 2154.7L301.4 2150.0M301.4 2154.7L305.8 2153.2M301.4 2154.7L296.9 2153.2M301.4 2154.7L304.1 2158.5M301.4 2154.7L298.6 2158.5"/>
<path d="M313.8 2156.2L313.8 2151.5M313.8 2156.2L318.3 2154.8M313.8 2156.2L309.4 2154.8M313.8 2156.2L316.6 2160.0M313.8 2156.2L311.1 2160.0"/>
<path d="M326.3 2157.4L326.3 2152.7M326.3 2157.4L330.8 2156.0M326.3 2157.4L321.8 2156.0M326.3 2157.4L329.0 2161.2M326.3 2157.4L323.5 2161.2"/>
<path d="M338.7 2158.3L338.7 2153.6M338.7 2158.3L343.2 2156.8M338.7 2158.3L334.3 2156.8M338.7 2158.3L341.5 2162.1M338.7 2158.3L336.0 2162.1"/>
<path d="M351.2 2158.9L351.2 2154.2M351.2 2158.9L355.7 2157.4M351.2 2158.9L346.7 2157.4M351.2 2158.9L354.0 2162.7M351.2 2158.9L348.4 2162.7"/>
<path d="M363.6 2159.5L363.6 2154.8M363.6 2159.5L368.1 2158.0M363.6 2159.5L359.2 2158.0M363.6 2159.5L366.4 2163.3M363.6 2159.5L360.9 2163.3"/>
<path d="M376.1 2159.9L376.1 2155.2M376.1 2159.9L380.6 2158.5M376.1 2159.9L371.6 2158.5M376.1 2159.9L378.9 2163.7M376.1 2159.9L373.3 2163.7"/>
<path d="M388.6 2160.3L388.6 2155.6M388.6 2160.3L393.0 2158.9M388.6 2160.3L384.1 2158.9M388.6 2160.3L391.3 2164.1M388.6 2160.3L385.8 2164.1"/>
<path d="M401.0 2160.7L401.0 2156.0M401.0 2160.7L405.5 2159.3M401.0 2160.7L396.5 2159.3M401.0 2160.7L403.8 2164.5M401.0 2160.7L398.2 2164.5"/>
<path d="M413.5 2161.1L413.5 2156.4M413.5 2161.1L417.9 2159.6M413.5 2161.1L409.0 2159.6M413.5 2161.1L416.2 2164.9M413.5 2161.1L410.7 2164.9"/>
<path d="M425.9 2161.4L425.9 2156.7M425.9 2161.4L430.4 2159.9M425.9 2161.4L421.4 2159.9M425.9 2161.4L428.7 2165.2M425.9 2161.4L423.2 2165.2"/>
<path d="M438.4 2161.6L438.4 2156.9M438.4 2161.6L442.8 2160.2M438.4 2161.6L433.9 2160.2M438.4 2161.6L441.1 2165.4M438.4 2161.6L435.6 2165.4"/>
<path d="M450.8 2161.8L450.8 2157.1M450.8 2161.8L455.3 2160.4M450.8 2161.8L446.4 2160.4M450.8 2161.8L453.6 2165.6M450.8 2161.8L448.1 2165.6"/>
<path d="M463.3 2162.0L463.3 2157.3M463.3 2162.0L467.7 2160.6M463.3 2162.0L458.8 2160.6M463.3 2162.0L466.0 2165.8M463.3 2162.0L460.5 2165.8"/>
<path d="M475.7 2162.2L475.7 2157.5M475.7 2162.2L480.2 2160.7M475.7 2162.2L471.3 2160.7M475.7 2162.2L478.5 2166.0M475.7 2162.2L473.0 2166.0"/>
<path d="M488.2 2162.3L488.2 2157.6M488.2 2162.3L492.7 2160.9M488.2 2162.3L483.7 2160.9M488.2 2162.3L491.0 2166.1M488.2 2162.3L485.4 2166.1"/>
<path d="M500.6 2162.4L500.6 2157.7M500.6 2162.4L505.1 2161.0M500.6 2162.4L496.2 2161.0M500.6 2162.4L503.4 2166.2M500.6 2162.4L497.9 2166.2"/>
<path d="M513.1 2162.5L513.1 2157.8M513.1 2162.5L517.6 2161.1M513.1 2162.5L508.6 2161.1M513.1 2162.5L515.9 2166.3M513.1 2162.5L510.3 2166.3"/>
<path d="M525.5 2162.6L525.5 2157.9M525.5 2162.6L530.0 2161.1M525.5 2162.6L521.1 2161.1M525.5 2162.6L528.3 2166.4M525.5 2162.6L522.8 2166.4"/>
<path d="M538.0 2162.9L538.0 2158.2M538.0 2162.9L542.5 2161.4M538.0 2162.9L533.5 2161.4M538.0 2162.9L540.8 2166.7M538.0 2162.9L535.2 2166.7"/>
<path d="M550.5 2163.3L550.5 2158.6M550.5 2163.3L554.9 2161.9M550.5 2163.3L546.0 2161.9M550.5 2163.3L553.2 2167.1M550.5 2163.3L547.7 2167.1"/>
<path d="M562.9 2163.6L562.9 2158.9M562.9 2163.6L567.4 2162.1M562.9 2163.6L558.4 2162.1M562.9 2163.6L565.7 2167.4M562.9 2163.6L560.1 2167.4"/>
<path d="M575.4 2163.7L575.4 2159.0M575.4 2163.7L579.8 2162.3M575.4 2163.7L570.9 2162.3M575.4 2163.7L578.1 2167.5M575.4 2163.7L572.6 2167.5"/>
<path d="M587.8 2163.9L587.8 2159.2M587.8 2163.9L592.3 2162.5M587.8 2163.9L583.4 2162.5M587.8 2163.9L590.6 2167.7M587.8 2163.9L585.1 2167.7"/>
<path d="M600.3 2164.1L600.3 2159.4M600.3 2164.1L604.7 2162.6M600.3 2164.1L595.8 2162.6M600.3 2164.1L603.0 2167.9M600.3 2164.1L597.5 2167.9"/>
<path d="M612.7 2164.2L612.7 2159.5M612.7 2164.2L617.2 2162.8M612.7 2164.2L608.3 2162.8M612.7 2164.2L615.5 2168.0M612.7 2164.2L610.0 2168.0"/>
<path d="M625.2 2164.4L625.2 2159.7M625.2 2164.4L629.7 2162.9M625.2 2164.4L620.7 2162.9M625.2 2164.4L627.9 2168.2M625.2 2164.4L622.4 2168.2"/>
<path d="M637.6 2164.6L637.6 2159.9M637.6 2164.6L642.1 2163.1M637.6 2164.6L633.2 2163.1M637.6 2164.6L640.4 2168.4M637.6 2164.6L634.9 2168.4"/>
<path d="M650.1 2164.7L650.1 2160.0M650.1 2164.7L654.6 2163.3M650.1 2164.7L645.6 2163.3M650.1 2164.7L652.9 2168.5M650.1 2164.7L647.3 2168.5"/>
<path d="M662.5 2164.9L662.5 2160.2M662.5 2164.9L667.0 2163.4M662.5 2164.9L658.1 2163.4M662.5 2164.9L665.3 2168.7M662.5 2164.9L659.8 2168.7"/>
<path d="M675.0 2165.1L675.0 2160.4M675.0 2165.1L679.5 2163.6M675.0 2165.1L670.5 2163.6M675.0 2165.1L677.8 2168.9M675.0 2165.1L672.2 2168.9"/>
</g>
<g fill="none" stroke="#ff0000" stroke-width="1.7">
<path d="M72.8 1767.5H81.6M77.2 1763.1V1771.9"/>
<path d="M79.0 1792.0H87.8M83.4 1787.6V1796.4"/>
<path d="M85.3 1813.4H94.1M89.7 1809.0V1817.8"/>
<path d="M91.5 1832.2H100.3M95.9 1827.8V1836.6"/>
<path d="M97.7 1851.9H106.5M102.1 1847.5V1856.3"/>
<path d="M110.2 1889.7H119.0M114.6 1885.3V1894.1"/>
<path d="M122.6 1920.1H131.4M127.0 1915.7V1924.5"/>
<path d="M135.1 1947.9H143.9M139.5 1943.5V1952.3"/>
<path d="M147.5 1971.1H156.3M151.9 1966.7V1975.5"/>
<path d="M160.0 1993.3H168.8M164.4 1988.9V1997.7"/>
<path d="M172.4 2011.5H181.2M176.8 2007.1V2015.9"/>
<path d="M184.9 2027.6H193.7M189.3 2023.2V2032.0"/>
<path d="M197.3 2042.3H206.1M201.7 2037.9V2046.7"/>
<path d="M209.8 2054.9H218.6M214.2 2050.5V2059.3"/>
<path d="M222.2 2067.1H231.0M226.6 2062.7V2071.5"/>
<path d="M234.7 2077.2H243.5M239.1 2072.8V2081.6"/>
<path d="M247.2 2085.7H256.0M251.6 2081.3V2090.1"/>
<path d="M259.6 2094.1H268.4M264.0 2089.7V2098.5"/>
<path d="M272.1 2101.8H280.9M276.5 2097.4V2106.2"/>
<path d="M284.5 2108.9H293.3M288.9 2104.5V2113.3"/>
<path d="M297.0 2114.7H305.8M301.4 2110.3V2119.1"/>
<path d="M309.4 2119.9H318.2M313.8 2115.5V2124.3"/>
<path d="M321.9 2124.7H330.7M326.3 2120.3V2129.1"/>
<path d="M334.3 2129.0H343.1M338.7 2124.6V2133.4"/>
<path d="M346.8 2132.5H355.6M351.2 2128.1V2136.9"/>
<path d="M359.2 2136.6H368.0M363.6 2132.2V2141.0"/>
<path d="M371.7 2140.4H380.5M376.1 2136.0V2144.8"/>
<path d="M384.2 2143.3H393.0M388.6 2138.9V2147.7"/>
<path d="M396.6 2146.0H405.4M401.0 2141.6V2150.4"/>
<path d="M409.1 2148.4H417.9M413.5 2144.0V2152.8"/>
<path d="M421.5 2150.6H430.3M425.9 2146.2V2155.0"/>
<path d="M434.0 2152.4H442.8M438.4 2148.0V2156.8"/>
<path d="M446.4 2154.0H455.2M450.8 2149.6V2158.4"/>
<path d="M458.9 2155.3H467.7M463.3 2150.9V2159.7"/>
<path d="M471.3 2156.5H480.1M475.7 2152.1V2160.9"/>
<path d="M483.8 2157.8H492.6M488.2 2153.4V2162.2"/>
<path d="M496.2 2159.3H505.0M500.6 2154.9V2163.7"/>
<path d="M508.7 2161.1H517.5M513.1 2156.7V2165.5"/>
<path d="M521.1 2162.6H529.9M525.5 2158.2V2167.0"/>
<path d="M533.6 2164.0H542.4M538.0 2159.6V2168.4"/>
<path d="M546.1 2165.5H554.9M550.5 2161.1V2169.9"/>
<path d="M558.5 2166.9H567.3M562.9 2162.5V2171.3"/>
<path d="M571.0 2168.0H579.8M575.4 2163.6V2172.4"/>
<path d="M583.4 2169.1H592.2M587.8 2164.7V2173.5"/>
<path d="M595.9 2170.3H604.7M600.3 2165.9V2174.7"/>
<path d="M608.3 2171.6H617.1M612.7 2167.2V2176.0"/>
<path d="M620.8 2173.0H629.6M625.2 2168.6V2177.4"/>
<path d="M633.2 2174.5H642.0M637.6 2170.1V2178.9"/>
<path d="M645.7 2176.1H654.5M650.1 2171.7V2180.5"/>
<path d="M658.1 2177.8H666.9M662.5 2173.4V2182.2"/>
<path d="M670.6 2179.5H679.4M675.0 2175.1V2183.9"/>
</g>
<g fill="none" stroke="#0000ff" stroke-width="2.0">
<circle cx="77.2" cy="2170.8" r="3.4"/>
<circle cx="78.8" cy="2175.0" r="3.4"/>
<circle cx="80.3" cy="2178.9" r="3.4"/>
<circle cx="81.9" cy="2182.4" r="3.4"/>
<circle cx="83.4" cy="2185.6" r="3.4"/>
<circle cx="85.0" cy="2188.3" r="3.4"/>
<circle cx="86.5" cy="2190.6" r="3.4"/>
<circle cx="88.1" cy="2192.8" r="3.4"/>
<circle cx="89.7" cy="2194.9" r="3.4"/>
<circle cx="92.8" cy="2199.2" r="3.4"/>
<circle cx="95.9" cy="2202.7" r="3.4"/>
<circle cx="99.0" cy="2205.4" r="3.4"/>
<circle cx="102.1" cy="2207.9" r="3.4"/>
<circle cx="108.3" cy="2212.8" r="3.4"/>
<circle cx="114.6" cy="2215.2" r="3.4"/>
<circle cx="120.8" cy="2218.0" r="3.4"/>
<circle cx="127.0" cy="2220.6" r="3.4"/>
<circle cx="133.2" cy="2222.3" r="3.4"/>
<circle cx="139.5" cy="2223.4" r="3.4"/>
<circle cx="142.6" cy="2223.8" r="3.4"/>
<circle cx="145.7" cy="2224.2" r="3.4"/>
<circle cx="148.8" cy="2224.5" r="3.4"/>
<circle cx="151.9" cy="2224.5" r="3.4"/>
<circle cx="155.0" cy="2224.1" r="3.4"/>
<circle cx="158.2" cy="2223.4" r="3.4"/>
<circle cx="161.3" cy="2222.7" r="3.4"/>
<circle cx="164.4" cy="2222.2" r="3.4"/>
<circle cx="170.6" cy="2221.7" r="3.4"/>
<circle cx="176.8" cy="2221.1" r="3.4"/>
<circle cx="189.3" cy="2219.2" r="3.4"/>
<circle cx="201.7" cy="2216.1" r="3.4"/>
<circle cx="214.2" cy="2214.1" r="3.4"/>
<circle cx="226.6" cy="2210.8" r="3.4"/>
<circle cx="239.1" cy="2207.9" r="3.4"/>
<circle cx="251.6" cy="2205.6" r="3.4"/>
<circle cx="264.0" cy="2203.1" r="3.4"/>
<circle cx="276.5" cy="2200.1" r="3.4"/>
<circle cx="288.9" cy="2197.0" r="3.4"/>
<circle cx="301.4" cy="2194.7" r="3.4"/>
<circle cx="313.8" cy="2192.5" r="3.4"/>
<circle cx="326.3" cy="2190.2" r="3.4"/>
<circle cx="338.7" cy="2187.6" r="3.4"/>
<circle cx="351.2" cy="2185.2" r="3.4"/>
<circle cx="363.6" cy="2182.3" r="3.4"/>
<circle cx="376.1" cy="2179.5" r="3.4"/>
<circle cx="388.6" cy="2177.3" r="3.4"/>
<circle cx="401.0" cy="2175.4" r="3.4"/>
<circle cx="413.5" cy="2173.7" r="3.4"/>
<circle cx="425.9" cy="2172.2" r="3.4"/>
<circle cx="438.4" cy="2170.8" r="3.4"/>
<circle cx="450.8" cy="2169.7" r="3.4"/>
<circle cx="463.3" cy="2168.7" r="3.4"/>
<circle cx="475.7" cy="2167.9" r="3.4"/>
<circle cx="488.2" cy="2166.8" r="3.4"/>
<circle cx="500.6" cy="2165.5" r="3.4"/>
<circle cx="513.1" cy="2163.9" r="3.4"/>
<circle cx="514.7" cy="2163.8" r="3.4"/>
<circle cx="516.2" cy="2163.6" r="3.4"/>
<circle cx="517.8" cy="2163.4" r="3.4"/>
<circle cx="519.3" cy="2163.2" r="3.4"/>
<circle cx="520.9" cy="2163.0" r="3.4"/>
<circle cx="522.4" cy="2162.9" r="3.4"/>
<circle cx="524.0" cy="2162.7" r="3.4"/>
<circle cx="525.5" cy="2162.6" r="3.4"/>
<circle cx="527.1" cy="2162.8" r="3.4"/>
<circle cx="528.7" cy="2163.0" r="3.4"/>
<circle cx="530.2" cy="2163.2" r="3.4"/>
<circle cx="531.8" cy="2163.4" r="3.4"/>
<circle cx="533.3" cy="2163.5" r="3.4"/>
<circle cx="534.9" cy="2163.7" r="3.4"/>
<circle cx="536.4" cy="2163.9" r="3.4"/>
<circle cx="538.0" cy="2164.0" r="3.4"/>
<circle cx="550.5" cy="2165.2" r="3.4"/>
<circle cx="562.9" cy="2166.4" r="3.4"/>
<circle cx="575.4" cy="2167.5" r="3.4"/>
<circle cx="587.8" cy="2168.6" r="3.4"/>
<circle cx="600.3" cy="2169.7" r="3.4"/>
<circle cx="612.7" cy="2170.8" r="3.4"/>
<circle cx="625.2" cy="2172.0" r="3.4"/>
<circle cx="637.6" cy="2173.3" r="3.4"/>
<circle cx="650.1" cy="2174.6" r="3.4"/>
<circle cx="662.5" cy="2176.0" r="3.4"/>
<circle cx="675.0" cy="2177.4" r="3.4"/>
</g>
<path d="M77.2 1969.2L78.7 1974.3L80.2 1979.2L81.7 1983.8L83.2 1988.2L84.7 1992.2L86.2 1996.0L87.7 1999.6L89.2 2003.1L90.7 2006.5L92.2 2009.8L93.7 2012.9L95.2 2016.0L96.7 2019.1L98.2 2022.1L99.7 2025.1L101.2 2028.0L102.7 2031.0L104.2 2034.0L105.7 2037.0L107.2 2039.9L108.7 2042.6L110.2 2045.2L111.7 2047.7L113.2 2050.2L114.7 2052.6L116.2 2055.1L117.7 2057.5L119.2 2059.8L120.6 2062.0L122.1 2064.1L123.6 2066.1L125.1 2068.0L126.6 2069.9L128.1 2071.8L129.6 2073.7L131.1 2075.6L132.6 2077.5L134.1 2079.4L135.6 2081.2L137.1 2083.0L138.6 2084.7L140.1 2086.3L141.6 2087.9L143.1 2089.5L144.6 2091.0L146.1 2092.4L147.6 2093.9L149.1 2095.3L150.6 2096.6L152.1 2097.9L153.6 2099.2L155.1 2100.5L156.6 2101.7L158.1 2102.9L159.6 2104.1L161.1 2105.3L162.6 2106.4L164.1 2107.5L165.6 2108.6L167.1 2109.7L168.6 2110.8L170.1 2111.9L171.6 2112.9L173.1 2113.9L174.6 2114.9L176.1 2115.9L177.6 2116.8L179.1 2117.7L180.6 2118.6L182.1 2119.5L183.6 2120.3L185.1 2121.1L186.6 2121.9L188.1 2122.7L189.6 2123.5L191.1 2124.3L192.6 2125.0L194.1 2125.7L195.6 2126.4L197.1 2127.1L198.6 2127.8L200.1 2128.4L201.6 2129.1L203.1 2129.8L204.6 2130.4L206.0 2131.1L207.5 2131.8L209.0 2132.4L210.5 2133.0L212.0 2133.7L213.5 2134.3L215.0 2134.8L216.5 2135.4L218.0 2136.0L219.5 2136.5L221.0 2137.0L222.5 2137.6L224.0 2138.1L225.5 2138.6L227.0 2139.0L228.5 2139.5L230.0 2140.0L231.5 2140.4L233.0 2140.9L234.5 2141.3L236.0 2141.7L237.5 2142.1L239.0 2142.5L240.5 2142.9L242.0 2143.3L243.5 2143.7L245.0 2144.1L246.5 2144.4L248.0 2144.8L249.5 2145.2L251.0 2145.5L252.5 2145.9L254.0 2146.2L255.5 2146.6L257.0 2147.0L258.5 2147.3L260.0 2147.7L261.5 2148.0L263.0 2148.4L264.5 2148.7L266.0 2149.0L267.5 2149.3L269.0 2149.6L270.5 2149.9L272.0 2150.1L273.5 2150.4L275.0 2150.7L276.5 2150.9L278.0 2151.2L279.5 2151.5L281.0 2151.7L282.5 2152.0L284.0 2152.2L285.5 2152.4L287.0 2152.7L288.5 2152.9L290.0 2153.1L291.4 2153.3L292.9 2153.6L294.4 2153.8L295.9 2154.0L297.4 2154.2L298.9 2154.4L300.4 2154.6L301.9 2154.8L303.4 2155.0L304.9 2155.1L306.4 2155.3L307.9 2155.5L309.4 2155.7L310.9 2155.9L312.4 2156.0L313.9 2156.2L315.4 2156.4L316.9 2156.5L318.4 2156.7L319.9 2156.8L321.4 2157.0L322.9 2157.1L324.4 2157.3L325.9 2157.4L327.4 2157.5L328.9 2157.6L330.4 2157.7L331.9 2157.8L333.4 2157.9L334.9 2158.0L336.4 2158.1L337.9 2158.2L339.4 2158.3L340.9 2158.4L342.4 2158.5L343.9 2158.5L345.4 2158.6L346.9 2158.7L348.4 2158.8L349.9 2158.8L351.4 2158.9L352.9 2159.0L354.4 2159.0L355.9 2159.1L357.4 2159.2L358.9 2159.2L360.4 2159.3L361.9 2159.4L363.4 2159.4L364.9 2159.5L366.4 2159.6L367.9 2159.6L369.4 2159.7L370.9 2159.7L372.4 2159.8L373.9 2159.8L375.4 2159.9L376.8 2159.9L378.3 2160.0L379.8 2160.1L381.3 2160.1L382.8 2160.2L384.3 2160.2L385.8 2160.3L387.3 2160.3L388.8 2160.3L390.3 2160.4L391.8 2160.4L393.3 2160.5L394.8 2160.5L396.3 2160.6L397.8 2160.6L399.3 2160.7L400.8 2160.7L402.3 2160.8L403.8 2160.8L405.3 2160.8L406.8 2160.9L408.3 2160.9L409.8 2161.0L411.3 2161.0L412.8 2161.1L414.3 2161.1L415.8 2161.1L417.3 2161.2L418.8 2161.2L420.3 2161.2L421.8 2161.3L423.3 2161.3L424.8 2161.3L426.3 2161.4L427.8 2161.4L429.3 2161.4L430.8 2161.5L432.3 2161.5L433.8 2161.5L435.3 2161.6L436.8 2161.6L438.3 2161.6L439.8 2161.6L441.3 2161.7L442.8 2161.7L444.3 2161.7L445.8 2161.7L447.3 2161.8L448.8 2161.8L450.3 2161.8L451.8 2161.8L453.3 2161.9L454.8 2161.9L456.3 2161.9L457.8 2161.9L459.3 2162.0L460.8 2162.0L462.2 2162.0L463.7 2162.0L465.2 2162.0L466.7 2162.1L468.2 2162.1L469.7 2162.1L471.2 2162.1L472.7 2162.1L474.2 2162.2L475.7 2162.2L477.2 2162.2L478.7 2162.2L480.2 2162.2L481.7 2162.3L483.2 2162.3L484.7 2162.3L486.2 2162.3L487.7 2162.3L489.2 2162.3L490.7 2162.3L492.2 2162.4L493.7 2162.4L495.2 2162.4L496.7 2162.4L498.2 2162.4L499.7 2162.4L501.2 2162.4L502.7 2162.4L504.2 2162.5L505.7 2162.5L507.2 2162.5L508.7 2162.5L510.2 2162.5L511.7 2162.5L513.2 2162.5L514.7 2162.5L516.2 2162.5L517.7 2162.5L519.2 2162.5L520.7 2162.6L522.2 2162.6L523.7 2162.6L525.2 2162.6L526.7 2162.6L528.2 2162.7L529.7 2162.7L531.2 2162.8L532.7 2162.8L534.2 2162.8L535.7 2162.8L537.2 2162.9L538.7 2162.9L540.2 2163.0L541.7 2163.0L543.2 2163.1L544.7 2163.1L546.2 2163.2L547.6 2163.2L549.1 2163.3L550.6 2163.3L552.1 2163.3L553.6 2163.4L555.1 2163.4L556.6 2163.4L558.1 2163.5L559.6 2163.5L561.1 2163.5L562.6 2163.6L564.1 2163.6L565.6 2163.6L567.1 2163.6L568.6 2163.6L570.1 2163.7L571.6 2163.7L573.1 2163.7L574.6 2163.7L576.1 2163.8L577.6 2163.8L579.1 2163.8L580.6 2163.8L582.1 2163.8L583.6 2163.9L585.1 2163.9L586.6 2163.9L588.1 2163.9L589.6 2163.9L591.1 2163.9L592.6 2164.0L594.1 2164.0L595.6 2164.0L597.1 2164.0L598.6 2164.0L600.1 2164.1L601.6 2164.1L603.1 2164.1L604.6 2164.1L606.1 2164.1L607.6 2164.1L609.1 2164.2L610.6 2164.2L612.1 2164.2L613.6 2164.2L615.1 2164.2L616.6 2164.3L618.1 2164.3L619.6 2164.3L621.1 2164.3L622.6 2164.3L624.1 2164.4L625.6 2164.4L627.1 2164.4L628.6 2164.4L630.1 2164.5L631.6 2164.5L633.0 2164.5L634.5 2164.5L636.0 2164.5L637.5 2164.6L639.0 2164.6L640.5 2164.6L642.0 2164.6L643.5 2164.6L645.0 2164.7L646.5 2164.7L648.0 2164.7L649.5 2164.7L651.0 2164.7L652.5 2164.8L654.0 2164.8L655.5 2164.8L657.0 2164.8L658.5 2164.8L660.0 2164.9L661.5 2164.9L663.0 2164.9L664.5 2164.9L666.0 2164.9L667.5 2165.0L669.0 2165.0L670.5 2165.0L672.0 2165.0L673.5 2165.1L675.0 2165.1" fill="none" stroke="#00ff00" stroke-width="2.5" stroke-linejoin="round"/>
</g>
<rect x="72.3" y="1717" width="607.7" height="509.8000000000002" fill="none" stroke="#000" stroke-width="1.9"/>
<path d="M77.2 2226.8v9.5M226.6 2226.8v9.5M376.1 2226.8v9.5M525.5 2226.8v9.5M675.0 2226.8v9.5M107.1 2226.8v4.8M137.0 2226.8v4.8M166.9 2226.8v4.8M196.8 2226.8v4.8M256.5 2226.8v4.8M286.4 2226.8v4.8M316.3 2226.8v4.8M346.2 2226.8v4.8M406.0 2226.8v4.8M435.9 2226.8v4.8M465.8 2226.8v4.8M495.7 2226.8v4.8M555.4 2226.8v4.8M585.3 2226.8v4.8M615.2 2226.8v4.8M645.1 2226.8v4.8M72.3 2162.6h-9.5M72.3 2059.6h-9.5M72.3 1956.6h-9.5M72.3 1853.6h-9.5M72.3 1750.6h-9.5M72.3 2203.8h-4.8M72.3 2183.2h-4.8M72.3 2142.0h-4.8M72.3 2121.4h-4.8M72.3 2100.8h-4.8M72.3 2080.2h-4.8M72.3 2039.0h-4.8M72.3 2018.4h-4.8M72.3 1997.8h-4.8M72.3 1977.2h-4.8M72.3 1936.0h-4.8M72.3 1915.4h-4.8M72.3 1894.8h-4.8M72.3 1874.2h-4.8M72.3 1833.0h-4.8M72.3 1812.4h-4.8M72.3 1791.8h-4.8M72.3 1771.2h-4.8M72.3 1730.0h-4.8" stroke="#000" stroke-width="1.6" fill="none"/>
<text transform="translate(77.2 2259.5) scale(1 1.12)" font-size="22" font-family="'Liberation Serif', serif" text-anchor="middle">1</text>
<text transform="translate(226.6 2259.5) scale(1 1.12)" font-size="22" font-family="'Liberation Serif', serif" text-anchor="middle">1.5</text>
<text transform="translate(376.1 2259.5) scale(1 1.12)" font-size="22" font-family="'Liberation Serif', serif" text-anchor="middle">2</text>
<text transform="translate(525.5 2259.5) scale(1 1.12)" font-size="22" font-family="'Liberation Serif', serif" text-anchor="middle">2.5</text>
<text transform="translate(675.0 2259.5) scale(1 1.12)" font-size="22" font-family="'Liberation Serif', serif" text-anchor="middle">3</text>
<text transform="translate(57.4 2171.7) scale(1 1.12)" font-size="22" font-family="'Liberation Serif', serif" text-anchor="end">0</text>
<text transform="translate(57.4 2068.7) scale(1 1.12)" font-size="22" font-family="'Liberation Serif', serif" text-anchor="end">0.5</text>
<text transform="translate(57.4 1965.7) scale(1 1.12)" font-size="22" font-family="'Liberation Serif', serif" text-anchor="end">1</text>
<text transform="translate(57.4 1862.7) scale(1 1.12)" font-size="22" font-family="'Liberation Serif', serif" text-anchor="end">1.5</text>
<text transform="translate(57.4 1759.7) scale(1 1.12)" font-size="22" font-family="'Liberation Serif', serif" text-anchor="end">2</text>
<text x="375.5" y="2282.0" font-size="22" font-family="'Liberation Serif', serif" font-style="italic" text-anchor="middle">r</text>
<rect x="18.9" y="2284.1" width="653.3000000000001" height="88.09999999999991" fill="none" stroke="#000" stroke-width="1.9"/>
<g fill="none" stroke="#c8282d" stroke-width="1.6" transform="translate(54.2 2307.5) scale(0.85) translate(-54.2 -2307.5)"><rect x="50.7" y="2303.9" width="7.1" height="7.1"/></g>
<text x="92.0" y="2319.8" font-size="25" font-family="'Liberation Serif', serif"><tspan font-family="'Liberation Sans', sans-serif">ρ</tspan></text>
<g fill="none" stroke="#ff00ff" stroke-width="1.9" transform="translate(214.6 2307.5) scale(0.85) translate(-214.6 -2307.5)"><path d="M214.6 2303.8L218.3 2307.5L214.6 2311.2L210.8 2307.5Z"/></g>
<text x="251.4" y="2316.8" font-size="25" font-family="'Liberation Serif', serif"><tspan font-family="'Liberation Sans', sans-serif">ρ</tspan> <tspan font-size="29.5">+</tspan> <tspan font-style="italic">p</tspan><tspan font-style="italic" font-size="20.0" dy="9.0">r</tspan><tspan dy="-9.0"></tspan></text>
<g fill="none" stroke="#000" stroke-width="1.9" stroke-linecap="butt" transform="translate(369.3 2307.5) scale(0.85) translate(-369.3 -2307.5)"><path d="M369.3 2307.5L369.3 2302.8M369.3 2307.5L373.8 2306.0M369.3 2307.5L364.8 2306.0M369.3 2307.5L372.1 2311.3M369.3 2307.5L366.5 2311.3"/></g>
<text x="404.7" y="2316.8" font-size="25" font-family="'Liberation Serif', serif"><tspan font-family="'Liberation Sans', sans-serif">ρ</tspan> <tspan font-size="29.5">+</tspan> <tspan font-style="italic">p</tspan><tspan font-style="italic" font-size="20.0" dy="9.0">t</tspan><tspan dy="-9.0"></tspan></text>
<g fill="none" stroke="#ff0000" stroke-width="1.7" transform="translate(504.7 2307.5) scale(0.85) translate(-504.7 -2307.5)"><path d="M500.3 2307.5H509.1M504.7 2303.1V2311.9"/></g>
<text x="542.5" y="2316.8" font-size="25" font-family="'Liberation Serif', serif"><tspan font-family="'Liberation Sans', sans-serif">ρ</tspan> <tspan font-size="29.5">+</tspan> <tspan font-style="italic">p</tspan><tspan font-style="italic" font-size="20.0" dy="9.0">r</tspan><tspan dy="-9.0"><tspan font-size="29.5">+</tspan> 2</tspan><tspan font-style="italic">p</tspan><tspan font-style="italic" font-size="20.0" dy="9.0">t</tspan><tspan dy="-9.0"></tspan></text>
<g fill="none" stroke="#0000ff" stroke-width="2.0" transform="translate(54.2 2347.6) scale(0.85) translate(-54.2 -2347.6)"><circle cx="54.2" cy="2347.6" r="3.4"/></g>
<text x="92.0" y="2356.9" font-size="25" font-family="'Liberation Serif', serif"><tspan font-family="'Liberation Sans', sans-serif">.ρ - </tspan>|<tspan font-style="italic">p</tspan><tspan font-style="italic" font-size="20.0" dy="9.0">r</tspan><tspan dy="-9.0">|</tspan></text>
<path d="M183.8 2347.6h58" stroke="#00ff00" stroke-width="1.8"/>
<text x="251.4" y="2356.9" font-size="25" font-family="'Liberation Serif', serif"><tspan font-family="'Liberation Sans', sans-serif">ρ - </tspan>|<tspan font-style="italic">p</tspan><tspan font-style="italic" font-size="20.0" dy="9.0">t</tspan><tspan dy="-9.0">|</tspan></text>
<clipPath id="cl"><rect x="858.7" y="1717" width="608.2" height="509.8000000000002"/></clipPath>
<g clip-path="url(#cl)">
<g fill="none" stroke="#c8282d" stroke-width="1.6">
<rect x="860.1" y="1939.4" width="7.1" height="7.1"/>
<rect x="866.3" y="1958.4" width="7.1" height="7.1"/>
<rect x="872.6" y="1975.5" width="7.1" height="7.1"/>
<rect x="878.9" y="1992.1" width="7.1" height="7.1"/>
<rect x="885.2" y="2005.8" width="7.1" height="7.1"/>
<rect x="891.5" y="2019.4" width="7.1" height="7.1"/>
<rect x="897.8" y="2031.3" width="7.1" height="7.1"/>
<rect x="904.1" y="2041.8" width="7.1" height="7.1"/>
<rect x="910.4" y="2051.6" width="7.1" height="7.1"/>
<rect x="922.9" y="2068.6" width="7.1" height="7.1"/>
<rect x="935.5" y="2083.0" width="7.1" height="7.1"/>
<rect x="948.1" y="2094.9" width="7.1" height="7.1"/>
<rect x="960.7" y="2105.5" width="7.1" height="7.1"/>
<rect x="973.2" y="2114.4" width="7.1" height="7.1"/>
<rect x="985.8" y="2121.7" width="7.1" height="7.1"/>
<rect x="998.4" y="2128.4" width="7.1" height="7.1"/>
<rect x="1011.0" y="2134.1" width="7.1" height="7.1"/>
<rect x="1023.5" y="2138.8" width="7.1" height="7.1"/>
<rect x="1036.1" y="2142.9" width="7.1" height="7.1"/>
<rect x="1048.7" y="2146.4" width="7.1" height="7.1"/>
<rect x="1061.3" y="2149.5" width="7.1" height="7.1"/>
<rect x="1073.8" y="2152.1" width="7.1" height="7.1"/>
<rect x="1086.4" y="2154.6" width="7.1" height="7.1"/>
<rect x="1099.0" y="2156.9" width="7.1" height="7.1"/>
<rect x="1111.6" y="2158.8" width="7.1" height="7.1"/>
<rect x="1124.1" y="2160.3" width="7.1" height="7.1"/>
<rect x="1136.7" y="2161.5" width="7.1" height="7.1"/>
<rect x="1149.3" y="2162.7" width="7.1" height="7.1"/>
<rect x="1161.9" y="2163.7" width="7.1" height="7.1"/>
<rect x="1174.5" y="2164.7" width="7.1" height="7.1"/>
<rect x="1187.0" y="2165.6" width="7.1" height="7.1"/>
<rect x="1199.6" y="2166.5" width="7.1" height="7.1"/>
<rect x="1212.2" y="2167.3" width="7.1" height="7.1"/>
<rect x="1224.8" y="2168.0" width="7.1" height="7.1"/>
<rect x="1237.3" y="2168.6" width="7.1" height="7.1"/>
<rect x="1249.9" y="2169.2" width="7.1" height="7.1"/>
<rect x="1262.5" y="2169.7" width="7.1" height="7.1"/>
<rect x="1275.1" y="2170.2" width="7.1" height="7.1"/>
<rect x="1287.6" y="2170.7" width="7.1" height="7.1"/>
<rect x="1300.2" y="2171.1" width="7.1" height="7.1"/>
<rect x="1312.8" y="2171.5" width="7.1" height="7.1"/>
<rect x="1325.4" y="2171.8" width="7.1" height="7.1"/>
<rect x="1337.9" y="2172.0" width="7.1" height="7.1"/>
<rect x="1350.5" y="2172.2" width="7.1" height="7.1"/>
<rect x="1363.1" y="2172.3" width="7.1" height="7.1"/>
<rect x="1375.7" y="2172.3" width="7.1" height="7.1"/>
<rect x="1388.2" y="2172.4" width="7.1" height="7.1"/>
<rect x="1400.8" y="2172.4" width="7.1" height="7.1"/>
<rect x="1413.4" y="2172.4" width="7.1" height="7.1"/>
<rect x="1426.0" y="2172.4" width="7.1" height="7.1"/>
<rect x="1438.5" y="2172.4" width="7.1" height="7.1"/>
<rect x="1451.1" y="2172.4" width="7.1" height="7.1"/>
<rect x="1463.7" y="2172.4" width="7.1" height="7.1"/>
</g>
<g fill="none" stroke="#ff00ff" stroke-width="1.9">
<path d="M863.6 1717.7L867.4 1721.5L863.6 1725.2L859.9 1721.5Z"/>
<path d="M869.9 1743.6L873.6 1747.4L869.9 1751.1L866.1 1747.4Z"/>
<path d="M876.2 1769.2L879.9 1773.0L876.2 1776.7L872.4 1773.0Z"/>
<path d="M882.5 1792.8L886.2 1796.6L882.5 1800.3L878.7 1796.6Z"/>
<path d="M888.8 1814.9L892.5 1818.7L888.8 1822.4L885.0 1818.7Z"/>
<path d="M901.3 1854.5L905.1 1858.3L901.3 1862.0L897.6 1858.3Z"/>
<path d="M913.9 1890.1L917.7 1893.9L913.9 1897.6L910.2 1893.9Z"/>
<path d="M926.5 1920.8L930.2 1924.6L926.5 1928.3L922.7 1924.6Z"/>
<path d="M939.1 1947.6L942.8 1951.4L939.1 1955.1L935.3 1951.4Z"/>
<path d="M951.6 1971.2L955.4 1974.9L951.6 1978.7L947.9 1974.9Z"/>
<path d="M964.2 1992.3L968.0 1996.1L964.2 1999.8L960.5 1996.1Z"/>
<path d="M976.8 2011.8L980.5 2015.5L976.8 2019.3L973.0 2015.5Z"/>
<path d="M989.4 2028.8L993.1 2032.5L989.4 2036.3L985.6 2032.5Z"/>
<path d="M1001.9 2043.5L1005.7 2047.3L1001.9 2051.0L998.2 2047.3Z"/>
<path d="M1014.5 2057.0L1018.3 2060.8L1014.5 2064.5L1010.8 2060.8Z"/>
<path d="M1027.1 2069.6L1030.8 2073.3L1027.1 2077.1L1023.3 2073.3Z"/>
<path d="M1039.7 2080.3L1043.4 2084.1L1039.7 2087.8L1035.9 2084.1Z"/>
<path d="M1052.2 2089.6L1056.0 2093.3L1052.2 2097.1L1048.5 2093.3Z"/>
<path d="M1064.8 2098.6L1068.6 2102.3L1064.8 2106.1L1061.1 2102.3Z"/>
<path d="M1077.4 2106.8L1081.1 2110.5L1077.4 2114.3L1073.6 2110.5Z"/>
<path d="M1090.0 2113.7L1093.7 2117.4L1090.0 2121.2L1086.2 2117.4Z"/>
<path d="M1102.5 2120.1L1106.3 2123.8L1102.5 2127.6L1098.8 2123.8Z"/>
<path d="M1115.1 2125.8L1118.9 2129.5L1115.1 2133.3L1111.4 2129.5Z"/>
<path d="M1127.7 2130.8L1131.4 2134.5L1127.7 2138.3L1123.9 2134.5Z"/>
<path d="M1140.3 2135.1L1144.0 2138.9L1140.3 2142.6L1136.5 2138.9Z"/>
<path d="M1152.8 2139.2L1156.6 2142.9L1152.8 2146.7L1149.1 2142.9Z"/>
<path d="M1165.4 2143.0L1169.2 2146.7L1165.4 2150.5L1161.7 2146.7Z"/>
<path d="M1178.0 2146.4L1181.8 2150.2L1178.0 2153.9L1174.2 2150.2Z"/>
<path d="M1190.6 2149.6L1194.3 2153.4L1190.6 2157.1L1186.8 2153.4Z"/>
<path d="M1203.2 2152.7L1206.9 2156.5L1203.2 2160.2L1199.4 2156.5Z"/>
<path d="M1215.7 2155.6L1219.5 2159.3L1215.7 2163.1L1212.0 2159.3Z"/>
<path d="M1228.3 2158.2L1232.1 2162.0L1228.3 2165.7L1224.6 2162.0Z"/>
<path d="M1240.9 2160.5L1244.6 2164.3L1240.9 2168.0L1237.1 2164.3Z"/>
<path d="M1253.5 2162.6L1257.2 2166.3L1253.5 2170.1L1249.7 2166.3Z"/>
<path d="M1266.0 2164.5L1269.8 2168.2L1266.0 2172.0L1262.3 2168.2Z"/>
<path d="M1278.6 2166.2L1282.4 2169.9L1278.6 2173.7L1274.9 2169.9Z"/>
<path d="M1291.2 2167.7L1294.9 2171.5L1291.2 2175.2L1287.4 2171.5Z"/>
<path d="M1303.8 2169.1L1307.5 2172.9L1303.8 2176.6L1300.0 2172.9Z"/>
<path d="M1316.3 2170.3L1320.1 2174.0L1316.3 2177.8L1312.6 2174.0Z"/>
<path d="M1328.9 2171.3L1332.7 2175.1L1328.9 2178.8L1325.2 2175.1Z"/>
<path d="M1341.5 2172.2L1345.2 2175.9L1341.5 2179.7L1337.7 2175.9Z"/>
<path d="M1354.1 2172.9L1357.8 2176.6L1354.1 2180.4L1350.3 2176.6Z"/>
<path d="M1366.6 2173.6L1370.4 2177.3L1366.6 2181.1L1362.9 2177.3Z"/>
<path d="M1379.2 2174.2L1383.0 2177.9L1379.2 2181.7L1375.5 2177.9Z"/>
<path d="M1391.8 2174.8L1395.5 2178.5L1391.8 2182.3L1388.0 2178.5Z"/>
<path d="M1404.4 2175.3L1408.1 2179.1L1404.4 2182.8L1400.6 2179.1Z"/>
<path d="M1416.9 2175.9L1420.7 2179.7L1416.9 2183.4L1413.2 2179.7Z"/>
<path d="M1429.5 2176.5L1433.3 2180.2L1429.5 2184.0L1425.8 2180.2Z"/>
<path d="M1442.1 2177.0L1445.8 2180.7L1442.1 2184.5L1438.3 2180.7Z"/>
<path d="M1454.7 2177.5L1458.4 2181.2L1454.7 2185.0L1450.9 2181.2Z"/>
<path d="M1467.2 2177.9L1471.0 2181.7L1467.2 2185.4L1463.5 2181.7Z"/>
</g>
<g fill="none" stroke="#000" stroke-width="1.9" stroke-linecap="butt">
<path d="M863.6 1966.1L863.6 1961.4M863.6 1966.1L868.1 1964.7M863.6 1966.1L859.1 1964.7M863.6 1966.1L866.4 1969.9M863.6 1966.1L860.8 1969.9"/>
<path d="M869.9 1984.5L869.9 1979.8M869.9 1984.5L874.4 1983.0M869.9 1984.5L865.4 1983.0M869.9 1984.5L872.7 1988.3M869.9 1984.5L867.1 1988.3"/>
<path d="M876.2 2000.1L876.2 1995.4M876.2 2000.1L880.6 1998.6M876.2 2000.1L871.7 1998.6M876.2 2000.1L878.9 2003.9M876.2 2000.1L873.4 2003.9"/>
<path d="M882.5 2014.1L882.5 2009.4M882.5 2014.1L886.9 2012.7M882.5 2014.1L878.0 2012.7M882.5 2014.1L885.2 2017.9M882.5 2014.1L879.7 2017.9"/>
<path d="M888.8 2027.9L888.8 2023.2M888.8 2027.9L893.2 2026.4M888.8 2027.9L884.3 2026.4M888.8 2027.9L891.5 2031.7M888.8 2027.9L886.0 2031.7"/>
<path d="M895.0 2041.2L895.0 2036.5M895.0 2041.2L899.5 2039.8M895.0 2041.2L890.6 2039.8M895.0 2041.2L897.8 2045.0M895.0 2041.2L892.3 2045.0"/>
<path d="M901.3 2052.9L901.3 2048.2M901.3 2052.9L905.8 2051.5M901.3 2052.9L896.9 2051.5M901.3 2052.9L904.1 2056.7M901.3 2052.9L898.6 2056.7"/>
<path d="M907.6 2062.7L907.6 2058.0M907.6 2062.7L912.1 2061.2M907.6 2062.7L903.1 2061.2M907.6 2062.7L910.4 2066.5M907.6 2062.7L904.9 2066.5"/>
<path d="M913.9 2071.9L913.9 2067.2M913.9 2071.9L918.4 2070.4M913.9 2071.9L909.4 2070.4M913.9 2071.9L916.7 2075.7M913.9 2071.9L911.1 2075.7"/>
<path d="M926.5 2087.1L926.5 2082.4M926.5 2087.1L930.9 2085.7M926.5 2087.1L922.0 2085.7M926.5 2087.1L929.2 2090.9M926.5 2087.1L923.7 2090.9"/>
<path d="M939.1 2100.3L939.1 2095.6M939.1 2100.3L943.5 2098.9M939.1 2100.3L934.6 2098.9M939.1 2100.3L941.8 2104.1M939.1 2100.3L936.3 2104.1"/>
<path d="M951.6 2111.2L951.6 2106.5M951.6 2111.2L956.1 2109.7M951.6 2111.2L947.2 2109.7M951.6 2111.2L954.4 2115.0M951.6 2111.2L948.9 2115.0"/>
<path d="M964.2 2120.6L964.2 2115.9M964.2 2120.6L968.7 2119.2M964.2 2120.6L959.7 2119.2M964.2 2120.6L967.0 2124.4M964.2 2120.6L961.4 2124.4"/>
<path d="M976.8 2128.7L976.8 2124.0M976.8 2128.7L981.3 2127.3M976.8 2128.7L972.3 2127.3M976.8 2128.7L979.5 2132.5M976.8 2128.7L974.0 2132.5"/>
<path d="M989.4 2135.2L989.4 2130.5M989.4 2135.2L993.8 2133.8M989.4 2135.2L984.9 2133.8M989.4 2135.2L992.1 2139.0M989.4 2135.2L986.6 2139.0"/>
<path d="M1001.9 2141.1L1001.9 2136.4M1001.9 2141.1L1006.4 2139.6M1001.9 2141.1L997.5 2139.6M1001.9 2141.1L1004.7 2144.9M1001.9 2141.1L999.2 2144.9"/>
<path d="M1014.5 2146.2L1014.5 2141.5M1014.5 2146.2L1019.0 2144.7M1014.5 2146.2L1010.0 2144.7M1014.5 2146.2L1017.3 2150.0M1014.5 2146.2L1011.7 2150.0"/>
<path d="M1027.1 2150.5L1027.1 2145.8M1027.1 2150.5L1031.6 2149.0M1027.1 2150.5L1022.6 2149.0M1027.1 2150.5L1029.9 2154.3M1027.1 2150.5L1024.3 2154.3"/>
<path d="M1039.7 2154.2L1039.7 2149.5M1039.7 2154.2L1044.1 2152.8M1039.7 2154.2L1035.2 2152.8M1039.7 2154.2L1042.4 2158.0M1039.7 2154.2L1036.9 2158.0"/>
<path d="M1052.2 2157.3L1052.2 2152.6M1052.2 2157.3L1056.7 2155.8M1052.2 2157.3L1047.8 2155.8M1052.2 2157.3L1055.0 2161.1M1052.2 2157.3L1049.5 2161.1"/>
<path d="M1064.8 2160.0L1064.8 2155.3M1064.8 2160.0L1069.3 2158.5M1064.8 2160.0L1060.3 2158.5M1064.8 2160.0L1067.6 2163.8M1064.8 2160.0L1062.1 2163.8"/>
<path d="M1077.4 2162.4L1077.4 2157.7M1077.4 2162.4L1081.9 2160.9M1077.4 2162.4L1072.9 2160.9M1077.4 2162.4L1080.2 2166.2M1077.4 2162.4L1074.6 2166.2"/>
<path d="M1090.0 2164.4L1090.0 2159.7M1090.0 2164.4L1094.4 2163.0M1090.0 2164.4L1085.5 2163.0M1090.0 2164.4L1092.7 2168.2M1090.0 2164.4L1087.2 2168.2"/>
<path d="M1102.5 2166.0L1102.5 2161.3M1102.5 2166.0L1107.0 2164.6M1102.5 2166.0L1098.1 2164.6M1102.5 2166.0L1105.3 2169.8M1102.5 2166.0L1099.8 2169.8"/>
<path d="M1115.1 2167.3L1115.1 2162.6M1115.1 2167.3L1119.6 2165.9M1115.1 2167.3L1110.7 2165.9M1115.1 2167.3L1117.9 2171.1M1115.1 2167.3L1112.4 2171.1"/>
<path d="M1127.7 2168.4L1127.7 2163.7M1127.7 2168.4L1132.2 2166.9M1127.7 2168.4L1123.2 2166.9M1127.7 2168.4L1130.5 2172.2M1127.7 2168.4L1124.9 2172.2"/>
<path d="M1140.3 2169.3L1140.3 2164.6M1140.3 2169.3L1144.7 2167.8M1140.3 2169.3L1135.8 2167.8M1140.3 2169.3L1143.0 2173.1M1140.3 2169.3L1137.5 2173.1"/>
<path d="M1152.8 2170.1L1152.8 2165.4M1152.8 2170.1L1157.3 2168.7M1152.8 2170.1L1148.4 2168.7M1152.8 2170.1L1155.6 2173.9M1152.8 2170.1L1150.1 2173.9"/>
<path d="M1165.4 2170.9L1165.4 2166.2M1165.4 2170.9L1169.9 2169.4M1165.4 2170.9L1161.0 2169.4M1165.4 2170.9L1168.2 2174.7M1165.4 2170.9L1162.7 2174.7"/>
<path d="M1178.0 2171.5L1178.0 2166.8M1178.0 2171.5L1182.5 2170.1M1178.0 2171.5L1173.5 2170.1M1178.0 2171.5L1180.8 2175.3M1178.0 2171.5L1175.2 2175.3"/>
<path d="M1190.6 2172.2L1190.6 2167.5M1190.6 2172.2L1195.0 2170.7M1190.6 2172.2L1186.1 2170.7M1190.6 2172.2L1193.3 2176.0M1190.6 2172.2L1187.8 2176.0"/>
<path d="M1203.2 2172.8L1203.2 2168.1M1203.2 2172.8L1207.6 2171.3M1203.2 2172.8L1198.7 2171.3M1203.2 2172.8L1205.9 2176.6M1203.2 2172.8L1200.4 2176.6"/>
<path d="M1215.7 2173.3L1215.7 2168.6M1215.7 2173.3L1220.2 2171.9M1215.7 2173.3L1211.3 2171.9M1215.7 2173.3L1218.5 2177.1M1215.7 2173.3L1213.0 2177.1"/>
<path d="M1228.3 2173.8L1228.3 2169.1M1228.3 2173.8L1232.8 2172.4M1228.3 2173.8L1223.8 2172.4M1228.3 2173.8L1231.1 2177.6M1228.3 2173.8L1225.5 2177.6"/>
<path d="M1240.9 2174.2L1240.9 2169.5M1240.9 2174.2L1245.3 2172.7M1240.9 2174.2L1236.4 2172.7M1240.9 2174.2L1243.6 2178.0M1240.9 2174.2L1238.1 2178.0"/>
<path d="M1253.5 2174.5L1253.5 2169.8M1253.5 2174.5L1257.9 2173.0M1253.5 2174.5L1249.0 2173.0M1253.5 2174.5L1256.2 2178.3M1253.5 2174.5L1250.7 2178.3"/>
<path d="M1266.0 2174.7L1266.0 2170.0M1266.0 2174.7L1270.5 2173.3M1266.0 2174.7L1261.6 2173.3M1266.0 2174.7L1268.8 2178.5M1266.0 2174.7L1263.3 2178.5"/>
<path d="M1278.6 2175.0L1278.6 2170.3M1278.6 2175.0L1283.1 2173.5M1278.6 2175.0L1274.1 2173.5M1278.6 2175.0L1281.4 2178.8M1278.6 2175.0L1275.8 2178.8"/>
<path d="M1291.2 2175.1L1291.2 2170.4M1291.2 2175.1L1295.7 2173.7M1291.2 2175.1L1286.7 2173.7M1291.2 2175.1L1293.9 2178.9M1291.2 2175.1L1288.4 2178.9"/>
<path d="M1303.8 2175.3L1303.8 2170.6M1303.8 2175.3L1308.2 2173.8M1303.8 2175.3L1299.3 2173.8M1303.8 2175.3L1306.5 2179.1M1303.8 2175.3L1301.0 2179.1"/>
<path d="M1316.3 2175.4L1316.3 2170.7M1316.3 2175.4L1320.8 2173.9M1316.3 2175.4L1311.9 2173.9M1316.3 2175.4L1319.1 2179.2M1316.3 2175.4L1313.6 2179.2"/>
<path d="M1328.9 2175.4L1328.9 2170.7M1328.9 2175.4L1333.4 2174.0M1328.9 2175.4L1324.4 2174.0M1328.9 2175.4L1331.7 2179.3M1328.9 2175.4L1326.1 2179.3"/>
<path d="M1341.5 2175.6L1341.5 2170.9M1341.5 2175.6L1346.0 2174.1M1341.5 2175.6L1337.0 2174.1M1341.5 2175.6L1344.3 2179.4M1341.5 2175.6L1338.7 2179.4"/>
<path d="M1354.1 2175.8L1354.1 2171.1M1354.1 2175.8L1358.5 2174.3M1354.1 2175.8L1349.6 2174.3M1354.1 2175.8L1356.8 2179.6M1354.1 2175.8L1351.3 2179.6"/>
<path d="M1366.6 2176.0L1366.6 2171.3M1366.6 2176.0L1371.1 2174.6M1366.6 2176.0L1362.2 2174.6M1366.6 2176.0L1369.4 2179.8M1366.6 2176.0L1363.9 2179.8"/>
<path d="M1379.2 2176.3L1379.2 2171.6M1379.2 2176.3L1383.7 2174.8M1379.2 2176.3L1374.7 2174.8M1379.2 2176.3L1382.0 2180.1M1379.2 2176.3L1376.5 2180.1"/>
<path d="M1391.8 2176.5L1391.8 2171.8M1391.8 2176.5L1396.3 2175.1M1391.8 2176.5L1387.3 2175.1M1391.8 2176.5L1394.6 2180.3M1391.8 2176.5L1389.0 2180.3"/>
<path d="M1404.4 2176.7L1404.4 2172.0M1404.4 2176.7L1408.8 2175.2M1404.4 2176.7L1399.9 2175.2M1404.4 2176.7L1407.1 2180.5M1404.4 2176.7L1401.6 2180.5"/>
<path d="M1416.9 2176.8L1416.9 2172.1M1416.9 2176.8L1421.4 2175.4M1416.9 2176.8L1412.5 2175.4M1416.9 2176.8L1419.7 2180.6M1416.9 2176.8L1414.2 2180.6"/>
<path d="M1429.5 2177.0L1429.5 2172.3M1429.5 2177.0L1434.0 2175.5M1429.5 2177.0L1425.1 2175.5M1429.5 2177.0L1432.3 2180.8M1429.5 2177.0L1426.8 2180.8"/>
<path d="M1442.1 2177.1L1442.1 2172.4M1442.1 2177.1L1446.6 2175.6M1442.1 2177.1L1437.6 2175.6M1442.1 2177.1L1444.9 2180.9M1442.1 2177.1L1439.3 2180.9"/>
<path d="M1454.7 2177.2L1454.7 2172.5M1454.7 2177.2L1459.1 2175.7M1454.7 2177.2L1450.2 2175.7M1454.7 2177.2L1457.4 2181.0M1454.7 2177.2L1451.9 2181.0"/>
<path d="M1467.2 2177.3L1467.2 2172.6M1467.2 2177.3L1471.7 2175.8M1467.2 2177.3L1462.8 2175.8M1467.2 2177.3L1470.0 2181.1M1467.2 2177.3L1464.5 2181.1"/>
</g>
<g fill="none" stroke="#ff0000" stroke-width="1.7">
<path d="M859.2 1767.8H868.0M863.6 1763.4V1772.2"/>
<path d="M865.5 1792.6H874.3M869.9 1788.2V1797.0"/>
<path d="M871.8 1815.0H880.6M876.2 1810.6V1819.4"/>
<path d="M878.1 1833.5H886.9M882.5 1829.1V1837.9"/>
<path d="M884.4 1855.7H893.2M888.8 1851.3V1860.1"/>
<path d="M896.9 1894.3H905.7M901.3 1889.9V1898.7"/>
<path d="M909.5 1927.3H918.3M913.9 1922.9V1931.7"/>
<path d="M922.1 1954.6H930.9M926.5 1950.2V1959.0"/>
<path d="M934.7 1978.9H943.5M939.1 1974.5V1983.3"/>
<path d="M947.2 2000.3H956.0M951.6 1995.9V2004.7"/>
<path d="M959.8 2019.3H968.6M964.2 2014.9V2023.7"/>
<path d="M972.4 2037.1H981.2M976.8 2032.7V2041.5"/>
<path d="M985.0 2052.6H993.8M989.4 2048.2V2057.0"/>
<path d="M997.5 2065.5H1006.3M1001.9 2061.1V2069.9"/>
<path d="M1010.1 2077.8H1018.9M1014.5 2073.4V2082.2"/>
<path d="M1022.7 2089.6H1031.5M1027.1 2085.2V2094.0"/>
<path d="M1035.3 2099.5H1044.1M1039.7 2095.1V2103.9"/>
<path d="M1047.8 2107.9H1056.6M1052.2 2103.5V2112.3"/>
<path d="M1060.4 2116.1H1069.2M1064.8 2111.7V2120.5"/>
<path d="M1073.0 2124.0H1081.8M1077.4 2119.6V2128.4"/>
<path d="M1085.6 2130.0H1094.4M1090.0 2125.6V2134.4"/>
<path d="M1098.1 2134.9H1106.9M1102.5 2130.5V2139.3"/>
<path d="M1110.7 2139.4H1119.5M1115.1 2135.0V2143.8"/>
<path d="M1123.3 2143.7H1132.1M1127.7 2139.3V2148.1"/>
<path d="M1135.9 2147.3H1144.7M1140.3 2142.9V2151.7"/>
<path d="M1148.4 2150.7H1157.2M1152.8 2146.3V2155.1"/>
<path d="M1161.0 2153.9H1169.8M1165.4 2149.5V2158.3"/>
<path d="M1173.6 2156.8H1182.4M1178.0 2152.4V2161.2"/>
<path d="M1186.2 2159.4H1195.0M1190.6 2155.0V2163.8"/>
<path d="M1198.8 2162.0H1207.6M1203.2 2157.6V2166.4"/>
<path d="M1211.3 2164.4H1220.1M1215.7 2160.0V2168.8"/>
<path d="M1223.9 2166.5H1232.7M1228.3 2162.1V2170.9"/>
<path d="M1236.5 2168.2H1245.3M1240.9 2163.8V2172.6"/>
<path d="M1249.1 2169.7H1257.9M1253.5 2165.3V2174.1"/>
<path d="M1261.6 2171.1H1270.4M1266.0 2166.7V2175.5"/>
<path d="M1274.2 2172.3H1283.0M1278.6 2167.9V2176.7"/>
<path d="M1286.8 2173.4H1295.6M1291.2 2169.0V2177.8"/>
<path d="M1299.4 2174.2H1308.2M1303.8 2169.8V2178.6"/>
<path d="M1311.9 2174.7H1320.7M1316.3 2170.3V2179.1"/>
<path d="M1324.5 2175.2H1333.3M1328.9 2170.8V2179.6"/>
<path d="M1337.1 2175.9H1345.9M1341.5 2171.5V2180.3"/>
<path d="M1349.7 2176.8H1358.5M1354.1 2172.4V2181.2"/>
<path d="M1362.2 2177.7H1371.0M1366.6 2173.3V2182.1"/>
<path d="M1374.8 2178.7H1383.6M1379.2 2174.3V2183.1"/>
<path d="M1387.4 2179.7H1396.2M1391.8 2175.3V2184.1"/>
<path d="M1400.0 2180.6H1408.8M1404.4 2176.2V2185.0"/>
<path d="M1412.5 2181.4H1421.3M1416.9 2177.0V2185.8"/>
<path d="M1425.1 2182.2H1433.9M1429.5 2177.8V2186.6"/>
<path d="M1437.7 2183.0H1446.5M1442.1 2178.6V2187.4"/>
<path d="M1450.3 2183.7H1459.1M1454.7 2179.3V2188.1"/>
<path d="M1462.8 2184.3H1471.6M1467.2 2179.9V2188.7"/>
</g>
<g fill="none" stroke="#0000ff" stroke-width="2.0">
<circle cx="863.6" cy="2164.5" r="3.4"/>
<circle cx="865.2" cy="2167.7" r="3.4"/>
<circle cx="866.7" cy="2170.8" r="3.4"/>
<circle cx="868.3" cy="2173.7" r="3.4"/>
<circle cx="869.9" cy="2176.4" r="3.4"/>
<circle cx="871.5" cy="2178.9" r="3.4"/>
<circle cx="873.0" cy="2181.1" r="3.4"/>
<circle cx="874.6" cy="2183.1" r="3.4"/>
<circle cx="876.2" cy="2185.1" r="3.4"/>
<circle cx="879.3" cy="2190.0" r="3.4"/>
<circle cx="882.5" cy="2194.7" r="3.4"/>
<circle cx="885.6" cy="2197.5" r="3.4"/>
<circle cx="888.8" cy="2200.0" r="3.4"/>
<circle cx="895.0" cy="2206.8" r="3.4"/>
<circle cx="901.3" cy="2211.5" r="3.4"/>
<circle cx="907.6" cy="2214.0" r="3.4"/>
<circle cx="913.9" cy="2216.5" r="3.4"/>
<circle cx="920.2" cy="2218.2" r="3.4"/>
<circle cx="926.5" cy="2219.7" r="3.4"/>
<circle cx="929.6" cy="2220.3" r="3.4"/>
<circle cx="932.8" cy="2220.9" r="3.4"/>
<circle cx="935.9" cy="2221.4" r="3.4"/>
<circle cx="939.1" cy="2221.8" r="3.4"/>
<circle cx="942.2" cy="2221.9" r="3.4"/>
<circle cx="945.3" cy="2222.0" r="3.4"/>
<circle cx="948.5" cy="2222.0" r="3.4"/>
<circle cx="951.6" cy="2222.0" r="3.4"/>
<circle cx="957.9" cy="2222.1" r="3.4"/>
<circle cx="964.2" cy="2221.9" r="3.4"/>
<circle cx="970.5" cy="2221.3" r="3.4"/>
<circle cx="976.8" cy="2220.3" r="3.4"/>
<circle cx="989.4" cy="2217.9" r="3.4"/>
<circle cx="1001.9" cy="2216.7" r="3.4"/>
<circle cx="1014.5" cy="2214.6" r="3.4"/>
<circle cx="1027.1" cy="2211.4" r="3.4"/>
<circle cx="1039.7" cy="2208.9" r="3.4"/>
<circle cx="1052.2" cy="2206.7" r="3.4"/>
<circle cx="1064.8" cy="2203.8" r="3.4"/>
<circle cx="1077.4" cy="2200.8" r="3.4"/>
<circle cx="1090.0" cy="2198.9" r="3.4"/>
<circle cx="1102.5" cy="2197.2" r="3.4"/>
<circle cx="1115.1" cy="2195.2" r="3.4"/>
<circle cx="1127.7" cy="2193.1" r="3.4"/>
<circle cx="1140.3" cy="2191.3" r="3.4"/>
<circle cx="1152.8" cy="2189.5" r="3.4"/>
<circle cx="1165.4" cy="2187.8" r="3.4"/>
<circle cx="1178.0" cy="2186.3" r="3.4"/>
<circle cx="1190.6" cy="2184.9" r="3.4"/>
<circle cx="1203.2" cy="2183.5" r="3.4"/>
<circle cx="1215.7" cy="2182.3" r="3.4"/>
<circle cx="1228.3" cy="2181.1" r="3.4"/>
<circle cx="1240.9" cy="2180.1" r="3.4"/>
<circle cx="1253.5" cy="2179.2" r="3.4"/>
<circle cx="1266.0" cy="2178.4" r="3.4"/>
<circle cx="1278.6" cy="2177.6" r="3.4"/>
<circle cx="1291.2" cy="2176.9" r="3.4"/>
<circle cx="1303.8" cy="2176.4" r="3.4"/>
<circle cx="1316.3" cy="2176.0" r="3.4"/>
<circle cx="1322.6" cy="2175.9" r="3.4"/>
<circle cx="1324.2" cy="2175.9" r="3.4"/>
<circle cx="1325.8" cy="2175.8" r="3.4"/>
<circle cx="1327.3" cy="2175.8" r="3.4"/>
<circle cx="1328.9" cy="2175.7" r="3.4"/>
<circle cx="1330.5" cy="2175.7" r="3.4"/>
<circle cx="1332.1" cy="2175.6" r="3.4"/>
<circle cx="1333.6" cy="2175.6" r="3.4"/>
<circle cx="1335.2" cy="2175.5" r="3.4"/>
<circle cx="1336.8" cy="2175.6" r="3.4"/>
<circle cx="1338.3" cy="2175.7" r="3.4"/>
<circle cx="1339.9" cy="2175.8" r="3.4"/>
<circle cx="1341.5" cy="2175.9" r="3.4"/>
<circle cx="1343.1" cy="2176.0" r="3.4"/>
<circle cx="1344.6" cy="2176.1" r="3.4"/>
<circle cx="1346.2" cy="2176.2" r="3.4"/>
<circle cx="1347.8" cy="2176.3" r="3.4"/>
<circle cx="1354.1" cy="2176.6" r="3.4"/>
<circle cx="1366.6" cy="2177.3" r="3.4"/>
<circle cx="1379.2" cy="2177.9" r="3.4"/>
<circle cx="1391.8" cy="2178.5" r="3.4"/>
<circle cx="1404.4" cy="2179.1" r="3.4"/>
<circle cx="1416.9" cy="2179.7" r="3.4"/>
<circle cx="1429.5" cy="2180.2" r="3.4"/>
<circle cx="1442.1" cy="2180.7" r="3.4"/>
<circle cx="1454.7" cy="2181.2" r="3.4"/>
<circle cx="1467.2" cy="2181.7" r="3.4"/>
</g>
<path d="M863.6 1966.1L865.1 1970.8L866.6 1975.3L868.1 1979.7L869.7 1983.9L871.2 1987.9L872.7 1991.7L874.2 1995.4L875.7 1999.0L877.2 2002.5L878.7 2005.9L880.2 2009.3L881.8 2012.6L883.3 2015.9L884.8 2019.2L886.3 2022.5L887.8 2025.8L889.3 2029.1L890.8 2032.4L892.3 2035.7L893.9 2038.8L895.4 2041.9L896.9 2044.8L898.4 2047.7L899.9 2050.5L901.4 2053.1L902.9 2055.5L904.4 2057.9L906.0 2060.2L907.5 2062.5L909.0 2064.8L910.5 2067.1L912.0 2069.3L913.5 2071.4L915.0 2073.4L916.6 2075.3L918.1 2077.2L919.6 2079.1L921.1 2080.9L922.6 2082.7L924.1 2084.4L925.6 2086.2L927.1 2087.9L928.7 2089.6L930.2 2091.2L931.7 2092.9L933.2 2094.5L934.7 2096.0L936.2 2097.6L937.7 2099.1L939.2 2100.5L940.8 2101.9L942.3 2103.3L943.8 2104.6L945.3 2105.9L946.8 2107.2L948.3 2108.5L949.8 2109.7L951.3 2110.9L952.9 2112.2L954.4 2113.3L955.9 2114.5L957.4 2115.7L958.9 2116.8L960.4 2117.9L961.9 2119.0L963.5 2120.1L965.0 2121.1L966.5 2122.2L968.0 2123.2L969.5 2124.2L971.0 2125.2L972.5 2126.2L974.0 2127.1L975.6 2128.0L977.1 2128.9L978.6 2129.7L980.1 2130.6L981.6 2131.4L983.1 2132.1L984.6 2132.9L986.1 2133.7L987.7 2134.4L989.2 2135.1L990.7 2135.9L992.2 2136.6L993.7 2137.3L995.2 2138.1L996.7 2138.8L998.2 2139.5L999.8 2140.1L1001.3 2140.8L1002.8 2141.5L1004.3 2142.1L1005.8 2142.7L1007.3 2143.4L1008.8 2144.0L1010.4 2144.6L1011.9 2145.2L1013.4 2145.8L1014.9 2146.3L1016.4 2146.9L1017.9 2147.4L1019.4 2148.0L1020.9 2148.5L1022.5 2149.0L1024.0 2149.5L1025.5 2150.0L1027.0 2150.4L1028.5 2150.9L1030.0 2151.4L1031.5 2151.9L1033.0 2152.3L1034.6 2152.8L1036.1 2153.2L1037.6 2153.6L1039.1 2154.1L1040.6 2154.5L1042.1 2154.8L1043.6 2155.2L1045.1 2155.6L1046.7 2156.0L1048.2 2156.3L1049.7 2156.7L1051.2 2157.0L1052.7 2157.4L1054.2 2157.7L1055.7 2158.1L1057.3 2158.4L1058.8 2158.7L1060.3 2159.0L1061.8 2159.4L1063.3 2159.7L1064.8 2160.0L1066.3 2160.3L1067.8 2160.6L1069.4 2160.9L1070.9 2161.2L1072.4 2161.5L1073.9 2161.8L1075.4 2162.0L1076.9 2162.3L1078.4 2162.6L1079.9 2162.8L1081.5 2163.1L1083.0 2163.4L1084.5 2163.6L1086.0 2163.8L1087.5 2164.1L1089.0 2164.3L1090.5 2164.5L1092.0 2164.7L1093.6 2164.9L1095.1 2165.1L1096.6 2165.3L1098.1 2165.5L1099.6 2165.7L1101.1 2165.9L1102.6 2166.0L1104.2 2166.2L1105.7 2166.4L1107.2 2166.5L1108.7 2166.7L1110.2 2166.8L1111.7 2167.0L1113.2 2167.1L1114.7 2167.3L1116.3 2167.4L1117.8 2167.6L1119.3 2167.7L1120.8 2167.8L1122.3 2168.0L1123.8 2168.1L1125.3 2168.2L1126.8 2168.3L1128.4 2168.4L1129.9 2168.6L1131.4 2168.7L1132.9 2168.8L1134.4 2168.9L1135.9 2169.0L1137.4 2169.1L1138.9 2169.2L1140.5 2169.3L1142.0 2169.4L1143.5 2169.5L1145.0 2169.6L1146.5 2169.7L1148.0 2169.8L1149.5 2169.9L1151.1 2170.0L1152.6 2170.1L1154.1 2170.2L1155.6 2170.3L1157.1 2170.4L1158.6 2170.5L1160.1 2170.6L1161.6 2170.6L1163.2 2170.7L1164.7 2170.8L1166.2 2170.9L1167.7 2171.0L1169.2 2171.1L1170.7 2171.2L1172.2 2171.2L1173.7 2171.3L1175.3 2171.4L1176.8 2171.5L1178.3 2171.5L1179.8 2171.6L1181.3 2171.7L1182.8 2171.8L1184.3 2171.9L1185.8 2171.9L1187.4 2172.0L1188.9 2172.1L1190.4 2172.2L1191.9 2172.2L1193.4 2172.3L1194.9 2172.4L1196.4 2172.5L1198.0 2172.5L1199.5 2172.6L1201.0 2172.7L1202.5 2172.7L1204.0 2172.8L1205.5 2172.9L1207.0 2173.0L1208.5 2173.0L1210.1 2173.1L1211.6 2173.2L1213.1 2173.2L1214.6 2173.3L1216.1 2173.3L1217.6 2173.4L1219.1 2173.5L1220.6 2173.5L1222.2 2173.6L1223.7 2173.6L1225.2 2173.7L1226.7 2173.7L1228.2 2173.8L1229.7 2173.9L1231.2 2173.9L1232.7 2174.0L1234.3 2174.0L1235.8 2174.0L1237.3 2174.1L1238.8 2174.1L1240.3 2174.2L1241.8 2174.2L1243.3 2174.2L1244.9 2174.3L1246.4 2174.3L1247.9 2174.3L1249.4 2174.4L1250.9 2174.4L1252.4 2174.4L1253.9 2174.5L1255.4 2174.5L1257.0 2174.5L1258.5 2174.6L1260.0 2174.6L1261.5 2174.6L1263.0 2174.7L1264.5 2174.7L1266.0 2174.7L1267.5 2174.8L1269.1 2174.8L1270.6 2174.8L1272.1 2174.8L1273.6 2174.9L1275.1 2174.9L1276.6 2174.9L1278.1 2174.9L1279.6 2175.0L1281.2 2175.0L1282.7 2175.0L1284.2 2175.0L1285.7 2175.1L1287.2 2175.1L1288.7 2175.1L1290.2 2175.1L1291.8 2175.1L1293.3 2175.2L1294.8 2175.2L1296.3 2175.2L1297.8 2175.2L1299.3 2175.2L1300.8 2175.3L1302.3 2175.3L1303.9 2175.3L1305.4 2175.3L1306.9 2175.3L1308.4 2175.3L1309.9 2175.3L1311.4 2175.3L1312.9 2175.4L1314.4 2175.4L1316.0 2175.4L1317.5 2175.4L1319.0 2175.4L1320.5 2175.4L1322.0 2175.4L1323.5 2175.4L1325.0 2175.4L1326.5 2175.4L1328.1 2175.4L1329.6 2175.5L1331.1 2175.5L1332.6 2175.5L1334.1 2175.5L1335.6 2175.5L1337.1 2175.5L1338.7 2175.5L1340.2 2175.6L1341.7 2175.6L1343.2 2175.6L1344.7 2175.6L1346.2 2175.6L1347.7 2175.7L1349.2 2175.7L1350.8 2175.7L1352.3 2175.7L1353.8 2175.8L1355.3 2175.8L1356.8 2175.8L1358.3 2175.9L1359.8 2175.9L1361.3 2175.9L1362.9 2176.0L1364.4 2176.0L1365.9 2176.0L1367.4 2176.0L1368.9 2176.1L1370.4 2176.1L1371.9 2176.1L1373.4 2176.2L1375.0 2176.2L1376.5 2176.2L1378.0 2176.3L1379.5 2176.3L1381.0 2176.3L1382.5 2176.4L1384.0 2176.4L1385.6 2176.4L1387.1 2176.4L1388.6 2176.5L1390.1 2176.5L1391.6 2176.5L1393.1 2176.5L1394.6 2176.6L1396.1 2176.6L1397.7 2176.6L1399.2 2176.6L1400.7 2176.6L1402.2 2176.7L1403.7 2176.7L1405.2 2176.7L1406.7 2176.7L1408.2 2176.7L1409.8 2176.7L1411.3 2176.8L1412.8 2176.8L1414.3 2176.8L1415.8 2176.8L1417.3 2176.8L1418.8 2176.8L1420.3 2176.9L1421.9 2176.9L1423.4 2176.9L1424.9 2176.9L1426.4 2176.9L1427.9 2176.9L1429.4 2177.0L1430.9 2177.0L1432.5 2177.0L1434.0 2177.0L1435.5 2177.0L1437.0 2177.0L1438.5 2177.0L1440.0 2177.1L1441.5 2177.1L1443.0 2177.1L1444.6 2177.1L1446.1 2177.1L1447.6 2177.1L1449.1 2177.1L1450.6 2177.2L1452.1 2177.2L1453.6 2177.2L1455.1 2177.2L1456.7 2177.2L1458.2 2177.2L1459.7 2177.2L1461.2 2177.2L1462.7 2177.2L1464.2 2177.2L1465.7 2177.3L1467.2 2177.3" fill="none" stroke="#00ff00" stroke-width="2.5" stroke-linejoin="round"/>
</g>
<rect x="858.7" y="1717" width="608.2" height="509.8000000000002" fill="none" stroke="#000" stroke-width="1.9"/>
<path d="M863.6 2226.8v9.5M926.5 2226.8v9.5M989.4 2226.8v9.5M1052.2 2226.8v9.5M1115.1 2226.8v9.5M1178.0 2226.8v9.5M1240.9 2226.8v9.5M1303.8 2226.8v9.5M1366.6 2226.8v9.5M1429.5 2226.8v9.5M895.0 2226.8v4.8M957.9 2226.8v4.8M1020.8 2226.8v4.8M1083.7 2226.8v4.8M1146.6 2226.8v4.8M1209.4 2226.8v4.8M1272.3 2226.8v4.8M1335.2 2226.8v4.8M1398.1 2226.8v4.8M1461.0 2226.8v4.8M858.7 2175.5h-9.5M858.7 2065.3h-9.5M858.7 1955.1h-9.5M858.7 1844.9h-9.5M858.7 1734.7h-9.5M858.7 2219.6h-4.8M858.7 2197.5h-4.8M858.7 2153.5h-4.8M858.7 2131.4h-4.8M858.7 2109.4h-4.8M858.7 2087.3h-4.8M858.7 2043.3h-4.8M858.7 2021.2h-4.8M858.7 1999.2h-4.8M858.7 1977.1h-4.8M858.7 1933.1h-4.8M858.7 1911.0h-4.8M858.7 1889.0h-4.8M858.7 1866.9h-4.8M858.7 1822.9h-4.8M858.7 1800.8h-4.8M858.7 1778.8h-4.8M858.7 1756.7h-4.8" stroke="#000" stroke-width="1.6" fill="none"/>
<text transform="translate(863.6 2259.7) scale(1 1.12)" font-size="22" font-family="'Liberation Serif', serif" text-anchor="middle">1</text>
<text transform="translate(926.5 2259.7) scale(1 1.12)" font-size="22" font-family="'Liberation Serif', serif" text-anchor="middle">1.2</text>
<text transform="translate(989.4 2259.7) scale(1 1.12)" font-size="22" font-family="'Liberation Serif', serif" text-anchor="middle">1.4</text>
<text transform="translate(1052.2 2259.7) scale(1 1.12)" font-size="22" font-family="'Liberation Serif', serif" text-anchor="middle">1.6</text>
<text transform="translate(1115.1 2259.7) scale(1 1.12)" font-size="22" font-family="'Liberation Serif', serif" text-anchor="middle">1.8</text>
<text transform="translate(1178.0 2259.7) scale(1 1.12)" font-size="22" font-family="'Liberation Serif', serif" text-anchor="middle">2</text>
<text transform="translate(1240.9 2259.7) scale(1 1.12)" font-size="22" font-family="'Liberation Serif', serif" text-anchor="middle">2.2</text>
<text transform="translate(1303.8 2259.7) scale(1 1.12)" font-size="22" font-family="'Liberation Serif', serif" text-anchor="middle">2.4</text>
<text transform="translate(1366.6 2259.7) scale(1 1.12)" font-size="22" font-family="'Liberation Serif', serif" text-anchor="middle">2.6</text>
<text transform="translate(1429.5 2259.7) scale(1 1.12)" font-size="22" font-family="'Liberation Serif', serif" text-anchor="middle">2.8</text>
<text transform="translate(844.0 2184.6) scale(1 1.12)" font-size="22" font-family="'Liberation Serif', serif" text-anchor="end">0</text>
<text transform="translate(844.0 2074.4) scale(1 1.12)" font-size="22" font-family="'Liberation Serif', serif" text-anchor="end">0.5</text>
<text transform="translate(844.0 1964.2) scale(1 1.12)" font-size="22" font-family="'Liberation Serif', serif" text-anchor="end">1</text>
<text transform="translate(844.0 1854.0) scale(1 1.12)" font-size="22" font-family="'Liberation Serif', serif" text-anchor="end">1.5</text>
<text transform="translate(844.0 1743.8) scale(1 1.12)" font-size="22" font-family="'Liberation Serif', serif" text-anchor="end">2</text>
<text x="1161.5" y="2282.0" font-size="22" font-family="'Liberation Serif', serif" font-style="italic" text-anchor="middle">r</text>
<rect x="802.6" y="2284.1" width="658.9999999999999" height="88.09999999999991" fill="none" stroke="#000" stroke-width="1.9"/>
<g fill="none" stroke="#c8282d" stroke-width="1.6" transform="translate(839.0 2307.5) scale(0.85) translate(-839.0 -2307.5)"><rect x="835.5" y="2303.9" width="7.1" height="7.1"/></g>
<text x="876.7" y="2319.8" font-size="25" font-family="'Liberation Serif', serif"><tspan font-family="'Liberation Sans', sans-serif">ρ</tspan></text>
<g fill="none" stroke="#ff00ff" stroke-width="1.9" transform="translate(997.9 2307.5) scale(0.85) translate(-997.9 -2307.5)"><path d="M997.9 2303.8L1001.6 2307.5L997.9 2311.2L994.1 2307.5Z"/></g>
<text x="1034.7" y="2316.8" font-size="25" font-family="'Liberation Serif', serif"><tspan font-family="'Liberation Sans', sans-serif">ρ</tspan> <tspan font-size="29.5">+</tspan> <tspan font-style="italic">p</tspan><tspan font-style="italic" font-size="20.0" dy="9.0">r</tspan><tspan dy="-9.0"></tspan></text>
<g fill="none" stroke="#000" stroke-width="1.9" stroke-linecap="butt" transform="translate(1152.6 2307.5) scale(0.85) translate(-1152.6 -2307.5)"><path d="M1152.6 2307.5L1152.6 2302.8M1152.6 2307.5L1157.1 2306.0M1152.6 2307.5L1148.1 2306.0M1152.6 2307.5L1155.4 2311.3M1152.6 2307.5L1149.8 2311.3"/></g>
<text x="1189.0" y="2316.8" font-size="25" font-family="'Liberation Serif', serif"><tspan font-family="'Liberation Sans', sans-serif">ρ</tspan> <tspan font-size="29.5">+</tspan> <tspan font-style="italic">p</tspan><tspan font-style="italic" font-size="20.0" dy="9.0">t</tspan><tspan dy="-9.0"></tspan></text>
<g fill="none" stroke="#ff0000" stroke-width="1.7" transform="translate(1295.6 2307.5) scale(0.85) translate(-1295.6 -2307.5)"><path d="M1291.2 2307.5H1300.0M1295.6 2303.1V2311.9"/></g>
<text x="1332.8" y="2316.8" font-size="25" font-family="'Liberation Serif', serif"><tspan font-family="'Liberation Sans', sans-serif">ρ</tspan> <tspan font-size="29.5">+</tspan> <tspan font-style="italic">p</tspan><tspan font-style="italic" font-size="20.0" dy="9.0">r</tspan><tspan dy="-9.0"> <tspan font-size="29.5">+</tspan> 2</tspan><tspan font-style="italic">p</tspan><tspan font-style="italic" font-size="20.0" dy="9.0">t</tspan><tspan dy="-9.0"></tspan></text>
<g fill="none" stroke="#0000ff" stroke-width="2.0" transform="translate(839.0 2347.6) scale(0.85) translate(-839.0 -2347.6)"><circle cx="839.0" cy="2347.6" r="3.4"/></g>
<text x="876.7" y="2356.9" font-size="25" font-family="'Liberation Serif', serif"><tspan font-family="'Liberation Sans', sans-serif">.ρ - </tspan>|<tspan font-style="italic">p</tspan><tspan font-style="italic" font-size="20.0" dy="9.0">r</tspan><tspan dy="-9.0">|</tspan></text>
<path d="M967.5 2347.6h58" stroke="#00ff00" stroke-width="1.8"/>
<text x="1034.7" y="2356.9" font-size="25" font-family="'Liberation Serif', serif"><tspan font-family="'Liberation Sans', sans-serif">ρ - </tspan>|<tspan font-style="italic">p</tspan><tspan font-style="italic" font-size="20.0" dy="9.0">t</tspan><tspan dy="-9.0">|</tspan></text></svg>
<div class="cl" style="left:39.0px;top:694.8px;width:687.3px"><b>(g)</b>This figure depicts the behavior of all EC terms</div>
<div class="cl" style="left:39.0px;top:731.8px;width:687.3px">for Model-I in Subcase 10 (<i>ξ</i><span class="s">1</span> <span class="rel">&gt;</span> 0, <i>α</i><span class="s">1</span> <span class="rel">&gt;</span> 0, <i>β</i><span class="s">1</span> <span class="rel">&gt;</span> 0,</div>
<div class="cl" style="left:39.0px;top:768.6px;width:654.8px"><i>α</i> <span class="rel">&lt;</span> 0). All ECs are shown to satisfy for <i>r</i> <span class="rel">&gt;</span> 0.2.</div><div class="cl" style="left:825.5px;top:694.8px;width:687.3px"><b>(h)</b>This figure depicts the behavior of all EC terms</div>
<div class="cl" style="left:825.5px;top:731.8px;width:687.3px">for Model-I in Subcase 11 (<i>ξ</i><span class="s">1</span> <span class="rel">&gt;</span> 0, <i>α</i><span class="s">1</span> <span class="rel">&lt;</span> 0, <i>β</i><span class="s">1</span> <span class="rel">&lt;</span> 0,</div>
<div class="cl" style="left:825.5px;top:768.6px;width:601.3px"><i>α</i> <span class="rel">&gt;</span> 0). Only WEC is valid for <i>r</i> <span class="elem">∈</span> (2.5,&thinsp;3.1).</div><div class="cl" style="left:4.3px;top:1547.8px;width:687.2px"><b>(i)</b>This figure depicts the behavior of all EC terms</div>
<div class="cl" style="left:4.3px;top:1584.5px;width:687.2px">for Model-I in Subcase 15 (<i>ξ</i><span class="s">1</span> <span class="rel">&gt;</span> 0, <i>α</i><span class="s">1</span> <span class="rel">&lt;</span> 0, <i>β</i><span class="s">1</span> <span class="rel">&gt;</span> 0,</div>
<div class="cl" style="left:4.3px;top:1621.6px;width:631.5px"><i>α</i> <span class="rel">&gt;</span> 0). All ECs are shown to satisfy for <i>r</i> <span class="rel">&gt;</span> 0.</div><div class="cl" style="left:790.4px;top:1547.8px;width:687.5px"><b>(j)</b>This figure shows the behavior of all EC terms</div>
<div class="cl" style="left:790.4px;top:1584.5px;width:687.5px">for Model-I in Subcase 16 (<i>ξ</i><span class="s">1</span> <span class="rel">&gt;</span> 0, <i>α</i><span class="s">1</span> <span class="rel">&lt;</span> 0, <i>β</i><span class="s">1</span> <span class="rel">&gt;</span> 0,</div>
<div class="cl" style="left:790.4px;top:1621.6px;width:687.5px"><i>α</i> <span class="rel">&lt;</span> 0). All ECs are found to be satisfied for every</div>
<div class="cl" style="left:790.4px;top:1658.5px;width:104.0px"><i>r</i> <span class="rel">&gt;</span> 0.6.</div><div class="cl" style="left:4.3px;top:2409.8px;width:687.2px"><b>(k)</b>This figure depicts the behavior of all EC terms</div>
<div class="cl" style="left:4.3px;top:2446.8px;width:687.2px">for Model-I in Subcase 17 (<i>ξ</i><span class="s">1</span> <span class="rel">&lt;</span> 0, <i>α</i><span class="s">1</span> <span class="rel">&gt;</span> 0, <i>β</i><span class="s">1</span> <span class="rel">&gt;</span> 0,</div>
<div class="cl" style="left:4.3px;top:2483.6px;width:687.2px"><i>α</i> <span class="rel">&gt;</span> 0). All ECs are found to be satisfied for every</div>
<div class="cl" style="left:4.3px;top:2520.8px;width:102.6px"><i>r</i> <span class="rel">&gt;</span> 2.5.</div><div class="cl" style="left:790.4px;top:2409.8px;width:687.5px"><b>(l)</b>This figure depicts the behavior of all EC terms</div>
<div class="cl" style="left:790.4px;top:2446.8px;width:687.5px">for Model-I in Subcase 18 (<i>ξ</i><span class="s">1</span> <span class="rel">&lt;</span> 0, <i>α</i><span class="s">1</span> <span class="rel">&gt;</span> 0, <i>β</i><span class="s">1</span> <span class="rel">&gt;</span> 0,</div>
<div class="cl" style="left:790.4px;top:2483.6px;width:687.5px"><i>α</i> <span class="rel">&lt;</span> 0). All ECs are found to be satisfied for every</div>
<div class="cl" style="left:790.4px;top:2520.8px;width:104.0px"><i>r</i> <span class="rel">&gt;</span> 2.6.</div>
</body></html>
